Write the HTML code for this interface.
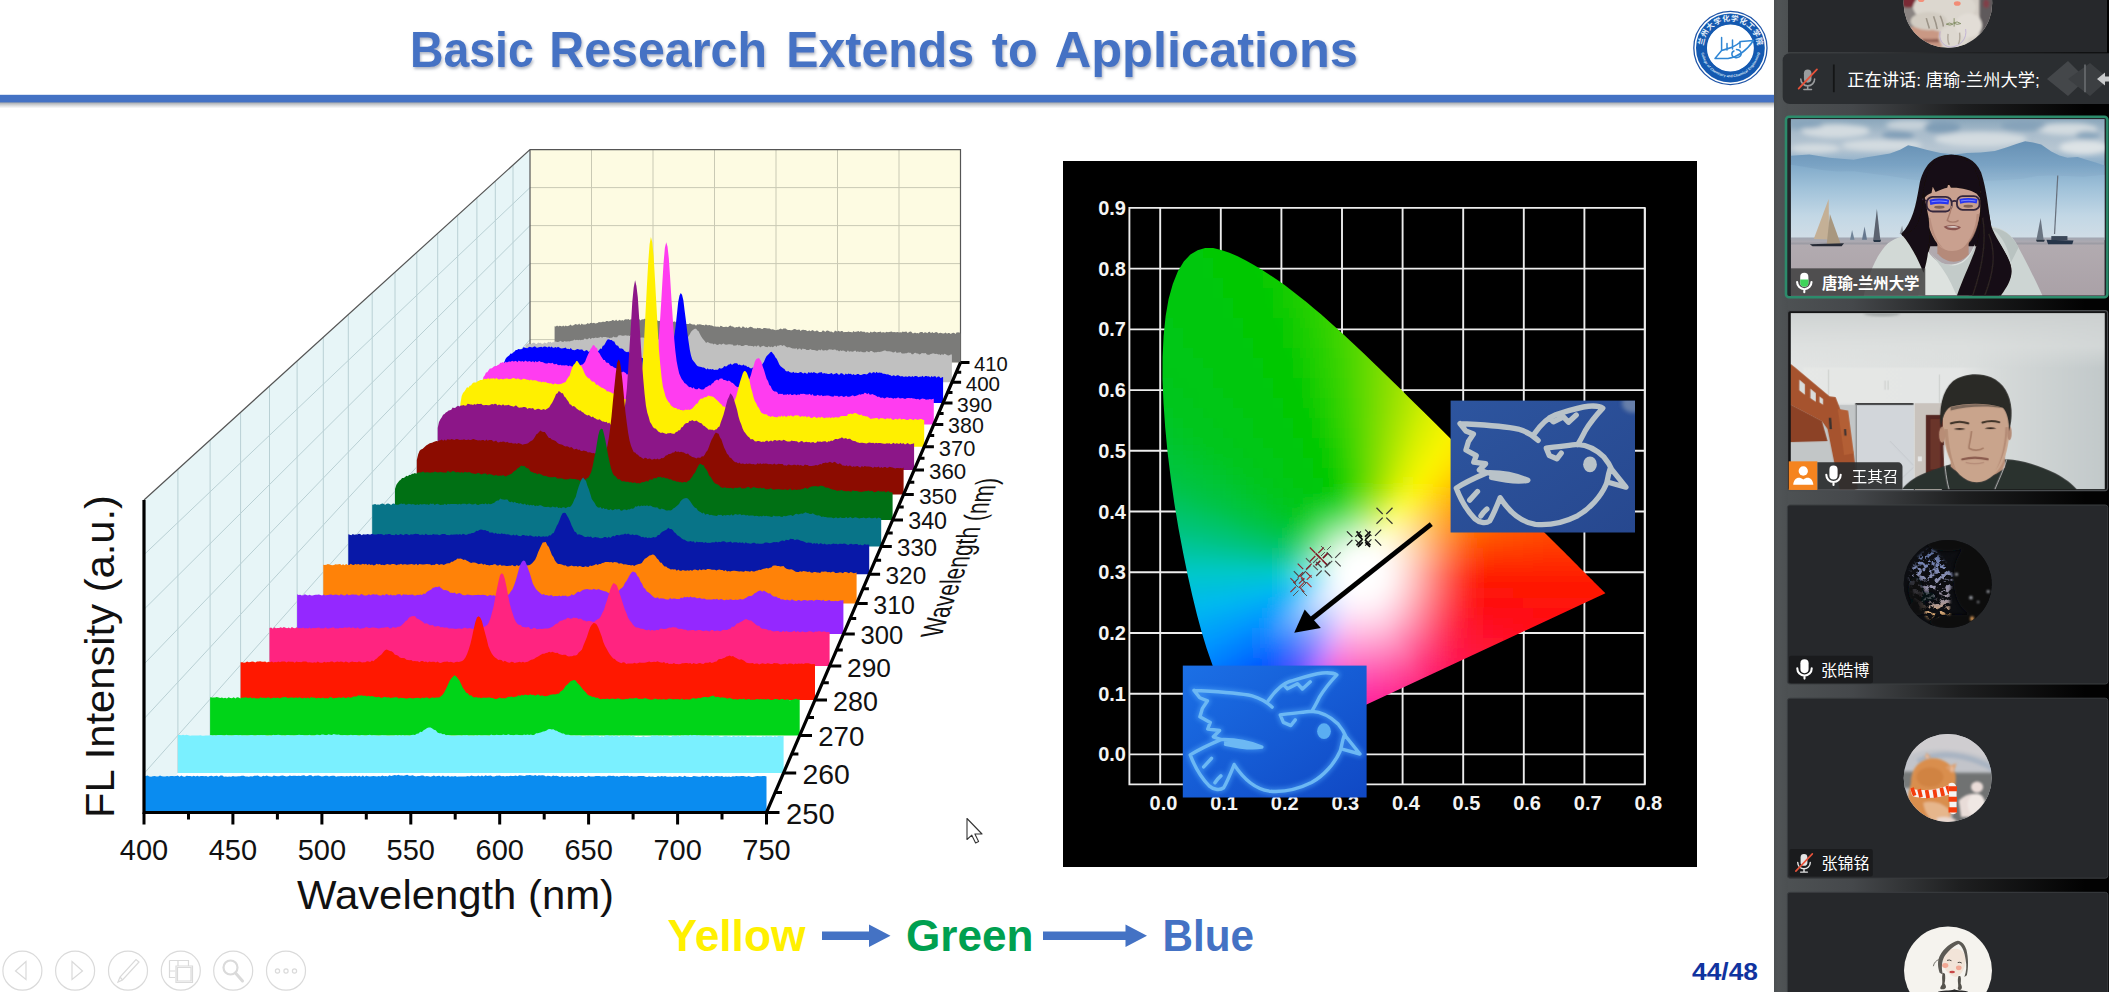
<!DOCTYPE html>
<html lang="zh"><head><meta charset="utf-8"><title>Basic Research Extends to Applications</title>
<style>html,body{margin:0;padding:0;background:#fff;overflow:hidden}body{width:2109px;height:992px;font-family:"Liberation Sans","Noto Sans CJK SC",sans-serif}svg{display:block}</style>
</head><body>
<svg width="2109" height="992" viewBox="0 0 2109 992">
<g id="slide">
<rect x="0" y="0" width="1774" height="992" fill="#fff"/>
<defs><filter id="tsh" x="-2%" y="-20%" width="104%" height="150%"><feGaussianBlur in="SourceAlpha" stdDeviation="1.6" result="b"/><feOffset in="b" dx="0.8" dy="1.6" result="o"/><feFlood flood-color="#8a94a8" flood-opacity=".7"/><feComposite in2="o" operator="in" result="s"/><feMerge><feMergeNode in="s"/><feMergeNode in="SourceGraphic"/></feMerge></filter><linearGradient id="lnsh" x1="0" y1="0" x2="0" y2="1"><stop offset="0" stop-color="#6a7078" stop-opacity=".75"/><stop offset="1" stop-color="#9aa0a8" stop-opacity="0"/></linearGradient></defs>
<text y="67.0" font-family="'Liberation Sans',sans-serif" font-weight="bold" font-size="49.7" fill="#4472c4" filter="url(#tsh)"><tspan x="410.0" textLength="123.8" lengthAdjust="spacingAndGlyphs">Basic</tspan> <tspan x="549.3" textLength="217.7" lengthAdjust="spacingAndGlyphs">Research</tspan> <tspan x="786.3" textLength="187.7" lengthAdjust="spacingAndGlyphs">Extends</tspan> <tspan x="991.8" textLength="46.0" lengthAdjust="spacingAndGlyphs">to</tspan> <tspan x="1054.7" textLength="303.3" lengthAdjust="spacingAndGlyphs">Applications</tspan></text>
<rect x="0" y="101.5" width="1774" height="7" fill="url(#lnsh)"/>
<rect x="0" y="94.8" width="1774" height="7.6" fill="#4472c4"/>
<g id="logo"><circle cx="1730.4" cy="48" r="36.6" fill="#fff" stroke="#1f55a8" stroke-width="1.3"/><circle cx="1730.4" cy="48" r="28.9" fill="none" stroke="#1459b0" stroke-width="11"/><circle cx="1730.4" cy="48" r="23" fill="#fff"/><defs><path id="arcT" d="M1704.9,57.3A27.1,27.1 0 1 1 1755.9,57.3"/><path id="arcB" d="M1701.2,52A29.5,29.5 0 0 0 1759.6,52"/></defs><text font-family="'Liberation Sans','Noto Sans CJK SC',sans-serif" font-size="7.6" font-weight="bold" fill="#e8f0fa"><textPath href="#arcT" startOffset="50%" text-anchor="middle" textLength="80" lengthAdjust="spacing">兰州大学化学化工学院</textPath></text><text font-family="'Liberation Sans',sans-serif" font-size="3.6" font-weight="bold" fill="#dce8f6"><textPath href="#arcB" startOffset="50%" text-anchor="middle">College of Chemistry and Chemical Engineering</textPath></text><path d="M1721.6,37.5V50.5 M1721.6,50.5L1732,47.2 M1727,43.5V50 M1732.5,40V49 M1740,41.5V47.5 M1721.6,50.5L1715,58.5H1728C1738,57 1747,50 1753.5,40.5L1741,41.5C1736,46 1729,49 1721.6,50.5 M1736.5,49.5C1744,50 1742,59 1735,57.5C1731,56.5 1731,52 1734,51" fill="none" stroke="#2f86d4" stroke-width="1.5" stroke-linecap="round" stroke-linejoin="round"/></g>
<g font-family="'Liberation Sans',sans-serif" font-weight="bold" font-size="44">
<text x="667.5" y="951.3" fill="#fff000" textLength="138" lengthAdjust="spacingAndGlyphs">Yellow</text>
<text x="906" y="951.3" fill="#00a050" textLength="127.5" lengthAdjust="spacingAndGlyphs">Green</text>
<text x="1162.5" y="951.3" fill="#4472c4" textLength="91.5" lengthAdjust="spacingAndGlyphs">Blue</text>
</g>
<path d="M822,931.5H869V924.5L890.5,935.7L869,947V940H822Z M1043,931.5H1125.5V924.5L1147,935.7L1125.5,947V940H1043Z" fill="#4472c4"/>
<text x="1692" y="979.9" font-family="'Liberation Sans',sans-serif" font-weight="bold" font-size="24" fill="#10339f" textLength="66" lengthAdjust="spacingAndGlyphs">44/48</text>
<g fill="none" stroke="#dadada" stroke-width="1.2">
<circle cx="22.4" cy="970.7" r="19.5"/>
<circle cx="75.1" cy="970.7" r="19.5"/>
<circle cx="128.0" cy="970.7" r="19.5"/>
<circle cx="180.8" cy="970.7" r="19.5"/>
<circle cx="233.2" cy="970.7" r="19.5"/>
<circle cx="286.0" cy="970.7" r="19.5"/>
<path d="M26,961.5L15.5,971L26,979.5Z"/>
<path d="M72,961.5L82.5,971L72,979.5Z"/>
<path d="M118,982L120,977L136,959.5L139,962L122.5,980Z M120,977L122.5,980"/>
<path d="M169.5,960.5H188.5V966 M169.5,960.5V977.5H175 M169.5,971H175 M178,960.5V966 M176,966H192.5V982.5H176Z M177.5,967.5H191V981H177.5Z"/>
<circle cx="230.5" cy="967.5" r="7" stroke-width="2.2"/><path d="M235.5,973L242.5,981" stroke-width="3" stroke-linecap="round"/>
<circle cx="277.5" cy="971" r="2.1"/><circle cx="286" cy="971" r="2.1"/><circle cx="294.5" cy="971" r="2.1"/>
</g>
<path d="M967,818.5V839.5L971.8,835.2L975.6,843L978.6,841.6L974.9,834H982Z" fill="#fff" stroke="#333" stroke-width="1.1" stroke-linejoin="round"/>
</g>
<g id="chart3d">
<polygon points="144.0,500.0 530.0,149.6 530.0,362.5 144.0,812.5" fill="#e7f5f7"/>
<rect x="530.0" y="149.6" width="430.5" height="212.9" fill="#fdfbe2"/>
<path d="M591.5,149.6V362.5M653.0,149.6V362.5M714.5,149.6V362.5M776.0,149.6V362.5M837.5,149.6V362.5M899.0,149.6V362.5M530.0,187.6H960.5M530.0,225.6H960.5M530.0,263.6H960.5M530.0,301.6H960.5M530.0,339.6H960.5" stroke="#c9c9b4" stroke-width="1" fill="none"/>
<path d="M177.9,469.2V772.9M210.1,440.0V735.5M240.6,412.3V699.9M269.5,386.0V666.1M297.1,361.0V634.0M323.3,337.2V603.5M348.3,314.5V574.3M372.2,292.9V546.5M395.0,272.2V519.9M416.8,252.4V494.5M437.7,233.4V470.1M457.7,215.2V446.8M476.9,197.8V424.4M495.3,181.1V403.0M513.0,165.0V382.3M144.0,554.7L530.0,187.6M144.0,609.4L530.0,225.6M144.0,664.1L530.0,263.6M144.0,718.8L530.0,301.6M144.0,773.5L530.0,339.6" stroke="#b9d0d4" stroke-width="1" fill="none"/>
<path d="M144.0,500.0L530.0,149.6H960.5V362.5 M530.0,149.6V362.5" stroke="#555" stroke-width="1.2" fill="none"/>
<path d="M554.6,362.5L554.6,326.2L555.8,326.5L557.1,325.5L558.3,326.6L559.5,325.7L560.8,326.0L562.0,326.5L563.2,325.6L564.4,326.4L565.7,325.6L566.9,326.2L568.1,326.1L569.4,325.4L570.6,324.6L571.8,325.8L573.0,325.5L574.3,324.7L575.5,324.0L576.7,324.5L578.0,324.8L579.2,323.6L580.4,325.2L581.7,323.5L582.9,324.4L584.1,324.6L585.4,324.5L586.6,324.0L587.8,322.9L589.0,324.0L590.3,323.1L591.5,322.8L592.7,323.2L594.0,322.7L595.2,323.5L596.4,323.3L597.6,322.9L598.9,321.9L600.1,322.2L601.3,322.3L602.6,321.7L603.8,321.8L605.0,321.9L606.3,320.9L607.5,320.9L608.7,321.6L610.0,320.9L611.2,320.9L612.4,320.1L613.6,320.2L614.9,321.0L616.1,319.6L617.3,321.1L618.6,320.4L619.8,319.7L621.0,320.7L622.2,320.0L623.5,320.8L624.7,319.6L625.9,319.3L627.2,319.6L628.4,319.0L629.6,320.0L630.9,319.3L632.1,319.5L633.3,319.5L634.5,319.7L635.8,319.0L637.0,318.8L638.2,319.7L639.5,319.3L640.7,320.4L641.9,319.2L643.2,319.4L644.4,318.7L645.6,319.1L646.8,320.1L648.1,320.0L649.3,319.5L650.5,320.8L651.8,320.0L653.0,320.7L654.2,320.8L655.5,321.0L656.7,319.8L657.9,321.1L659.1,321.0L660.4,320.8L661.6,320.1L662.8,321.7L664.1,321.1L665.3,321.0L666.5,320.6L667.8,320.8L669.0,320.9L670.2,322.1L671.5,322.0L672.7,322.3L673.9,321.4L675.1,321.4L676.4,323.1L677.6,323.2L678.8,323.3L680.1,323.4L681.3,323.1L682.5,323.1L683.8,323.8L685.0,324.5L686.2,323.9L687.4,324.1L688.7,323.9L689.9,323.3L691.1,324.0L692.4,324.4L693.6,324.4L694.8,324.4L696.0,325.7L697.3,324.2L698.5,324.5L699.7,324.3L701.0,324.4L702.2,325.1L703.4,324.9L704.7,325.4L705.9,324.3L707.1,325.3L708.3,325.3L709.6,325.1L710.8,325.4L712.0,325.4L713.3,326.2L714.5,326.6L715.7,326.5L717.0,326.8L718.2,326.5L719.4,327.2L720.6,325.7L721.9,326.2L723.1,327.1L724.3,326.9L725.6,326.8L726.8,326.7L728.0,327.2L729.3,325.9L730.5,325.6L731.7,326.6L733.0,326.6L734.2,327.4L735.4,327.4L736.6,327.0L737.9,327.2L739.1,326.2L740.3,327.5L741.6,327.9L742.8,326.2L744.0,327.1L745.2,327.9L746.5,327.2L747.7,328.3L748.9,327.5L750.2,326.7L751.4,327.0L752.6,327.5L753.9,328.4L755.1,328.3L756.3,328.7L757.5,327.7L758.8,328.3L760.0,327.9L761.2,328.8L762.5,329.1L763.7,328.1L764.9,327.9L766.2,328.2L767.4,328.4L768.6,328.4L769.8,328.6L771.1,329.6L772.3,329.2L773.5,329.5L774.8,330.1L776.0,330.2L777.2,329.7L778.5,329.8L779.7,329.0L780.9,328.5L782.1,329.4L783.4,328.6L784.6,328.5L785.8,328.6L787.1,329.7L788.3,330.1L789.5,330.1L790.8,330.2L792.0,330.3L793.2,329.6L794.4,329.1L795.7,329.3L796.9,330.1L798.1,329.8L799.4,329.6L800.6,331.0L801.8,330.0L803.1,329.7L804.3,330.0L805.5,330.1L806.8,330.7L808.0,331.3L809.2,330.3L810.4,331.2L811.7,330.4L812.9,330.1L814.1,331.3L815.4,331.3L816.6,330.4L817.8,330.8L819.0,331.9L820.3,332.0L821.5,332.0L822.7,330.6L824.0,330.8L825.2,332.0L826.4,330.8L827.7,330.5L828.9,331.1L830.1,331.7L831.3,331.4L832.6,332.2L833.8,332.4L835.0,330.6L836.3,331.2L837.5,331.5L838.7,330.7L840.0,331.7L841.2,330.9L842.4,331.0L843.6,332.2L844.9,332.1L846.1,332.0L847.3,332.1L848.6,331.5L849.8,332.1L851.0,331.9L852.3,332.4L853.5,331.0L854.7,332.0L855.9,331.8L857.2,331.6L858.4,331.1L859.6,332.0L860.9,331.1L862.1,331.8L863.3,331.8L864.6,331.8L865.8,332.8L867.0,332.0L868.2,332.5L869.5,332.9L870.7,331.4L871.9,332.6L873.2,332.0L874.4,331.6L875.6,331.9L876.9,332.4L878.1,332.0L879.3,332.0L880.5,331.6L881.8,332.8L883.0,332.0L884.2,332.6L885.5,332.6L886.7,331.7L887.9,332.2L889.2,332.1L890.4,331.7L891.6,331.5L892.8,332.3L894.1,332.1L895.3,332.3L896.5,332.3L897.8,331.9L899.0,332.4L900.2,332.3L901.5,332.4L902.7,331.6L903.9,332.0L905.1,331.7L906.4,331.6L907.6,332.9L908.8,332.3L910.1,331.6L911.3,331.8L912.5,333.2L913.8,333.2L915.0,332.6L916.2,333.3L917.4,333.0L918.7,333.4L919.9,332.3L921.1,332.1L922.4,331.9L923.6,333.3L924.8,332.3L926.1,332.4L927.3,333.3L928.5,332.0L929.7,331.8L931.0,333.3L932.2,331.9L933.4,333.0L934.7,332.8L935.9,331.9L937.1,332.2L938.4,333.5L939.6,333.0L940.8,332.8L942.0,333.2L943.3,333.5L944.5,333.2L945.7,332.5L947.0,333.8L948.2,332.9L949.4,333.1L950.7,333.9L951.9,333.3L953.1,332.8L954.3,333.0L955.6,333.9L956.8,332.2L958.0,332.5L959.3,332.2L960.5,333.8L960.5,362.5Z" fill="#7b7b79"/>
<path d="M525.5,382.3L525.5,344.0L526.8,344.4L528.0,343.0L529.3,343.9L530.5,344.2L531.8,343.6L533.1,342.7L534.3,342.8L535.6,343.8L536.8,343.9L538.1,342.5L539.3,343.0L540.6,342.7L541.8,343.8L543.1,343.8L544.3,342.5L545.6,342.9L546.9,343.5L548.1,341.8L549.4,342.2L550.6,341.8L551.9,343.1L553.1,341.5L554.4,342.9L555.6,341.3L556.9,341.9L558.1,342.0L559.4,341.5L560.6,340.7L561.9,341.8L563.2,341.9L564.4,341.1L565.7,341.5L566.9,341.6L568.2,341.3L569.4,341.4L570.7,341.0L571.9,340.7L573.2,340.5L574.4,339.6L575.7,340.3L577.0,339.8L578.2,340.3L579.5,339.8L580.7,340.3L582.0,339.7L583.2,340.0L584.5,338.6L585.7,338.8L587.0,339.4L588.2,338.7L589.5,337.8L590.7,339.2L592.0,337.7L593.3,338.3L594.5,338.1L595.8,337.4L597.0,338.1L598.3,337.8L599.5,337.4L600.8,336.8L602.0,337.8L603.3,336.9L604.5,337.0L605.8,337.1L607.1,337.4L608.3,337.5L609.6,337.9L610.8,337.7L612.1,337.8L613.3,336.4L614.6,337.2L615.8,337.2L617.1,337.2L618.3,335.5L619.6,335.2L620.8,335.3L622.1,335.8L623.4,335.7L624.6,335.5L625.9,335.2L627.1,335.8L628.4,335.5L629.6,336.0L630.9,335.0L632.1,335.2L633.4,336.2L634.6,336.9L635.9,335.7L637.2,337.1L638.4,337.2L639.7,338.0L640.9,337.4L642.2,337.4L643.4,337.5L644.7,338.2L645.9,337.8L647.2,338.9L648.4,338.6L649.7,339.1L650.9,338.7L652.2,339.5L653.5,339.7L654.7,339.3L656.0,339.6L657.2,339.1L658.5,339.4L659.7,339.2L661.0,339.5L662.2,339.5L663.5,339.4L664.7,340.5L666.0,340.8L667.3,339.7L668.5,341.4L669.8,340.5L671.0,340.8L672.3,342.1L673.5,340.8L674.8,340.9L676.0,341.5L677.3,341.4L678.5,341.4L679.8,342.7L681.0,342.0L682.3,341.9L683.6,341.0L684.8,340.5L686.1,339.5L687.3,338.5L688.6,336.1L689.8,334.2L691.1,331.8L692.3,330.6L693.6,329.5L694.8,328.7L696.1,328.7L697.4,330.6L698.6,331.3L699.9,334.1L701.1,336.3L702.4,338.3L703.6,339.8L704.9,341.3L706.1,343.0L707.4,342.1L708.6,342.6L709.9,343.3L711.1,343.4L712.4,343.4L713.7,344.6L714.9,343.5L716.2,344.4L717.4,344.9L718.7,344.6L719.9,343.8L721.2,344.8L722.4,343.9L723.7,343.5L724.9,344.5L726.2,344.7L727.5,344.6L728.7,344.3L730.0,344.2L731.2,344.6L732.5,344.6L733.7,345.7L735.0,345.6L736.2,345.5L737.5,344.6L738.7,345.5L740.0,345.0L741.2,346.1L742.5,346.1L743.8,345.7L745.0,345.1L746.3,345.1L747.5,345.2L748.8,346.0L750.0,345.7L751.3,345.9L752.5,346.0L753.8,346.7L755.0,345.4L756.3,346.8L757.6,345.4L758.8,345.6L760.1,347.4L761.3,346.6L762.6,346.0L763.8,345.8L765.1,346.8L766.3,347.1L767.6,347.2L768.8,345.9L770.1,347.2L771.3,346.5L772.6,347.2L773.9,346.4L775.1,345.5L776.4,346.9L777.6,345.4L778.9,345.8L780.1,345.0L781.4,345.3L782.6,346.1L783.9,345.0L785.1,346.0L786.4,347.1L787.7,347.5L788.9,347.0L790.2,347.4L791.4,348.0L792.7,348.6L793.9,348.5L795.2,348.8L796.4,348.0L797.7,349.8L798.9,348.6L800.2,348.6L801.4,350.0L802.7,348.6L804.0,349.1L805.2,348.9L806.5,350.1L807.7,350.0L809.0,350.0L810.2,348.9L811.5,349.7L812.7,350.1L814.0,350.0L815.2,350.3L816.5,350.8L817.8,350.7L819.0,349.4L820.3,350.4L821.5,349.2L822.8,350.5L824.0,350.4L825.3,350.0L826.5,350.6L827.8,350.3L829.0,349.2L830.3,349.4L831.5,349.6L832.8,350.0L834.1,349.6L835.3,349.6L836.6,350.4L837.8,350.2L839.1,351.5L840.3,350.3L841.6,350.9L842.8,350.4L844.1,350.7L845.3,351.4L846.6,351.9L847.9,350.3L849.1,351.8L850.4,351.2L851.6,351.5L852.9,351.7L854.1,350.9L855.4,350.5L856.6,351.9L857.9,351.2L859.1,351.9L860.4,351.4L861.6,351.8L862.9,352.2L864.2,352.3L865.4,352.2L866.7,351.0L867.9,351.8L869.2,352.3L870.4,351.0L871.7,350.9L872.9,351.8L874.2,352.4L875.4,352.2L876.7,352.3L878.0,351.8L879.2,352.1L880.5,351.8L881.7,351.6L883.0,351.0L884.2,350.4L885.5,350.6L886.7,351.2L888.0,351.3L889.2,351.2L890.5,351.6L891.7,351.8L893.0,352.5L894.3,352.3L895.5,351.2L896.8,353.0L898.0,352.4L899.3,352.4L900.5,352.1L901.8,353.4L903.0,353.4L904.3,353.5L905.5,353.3L906.8,353.3L908.1,352.4L909.3,352.7L910.6,352.7L911.8,354.3L913.1,354.3L914.3,353.1L915.6,352.8L916.8,353.6L918.1,353.5L919.3,354.6L920.6,353.9L921.8,353.0L923.1,353.2L924.4,353.2L925.6,353.0L926.9,354.4L928.1,354.7L929.4,354.7L930.6,354.0L931.9,353.8L933.1,353.3L934.4,353.8L935.6,354.0L936.9,353.8L938.2,354.4L939.4,354.3L940.7,355.3L941.9,354.0L943.2,355.0L944.4,353.8L945.7,354.3L946.9,355.0L948.2,355.4L949.4,355.2L950.7,354.5L951.9,354.5L951.9,382.3Z" fill="#c0c0c0"/>
<path d="M503.0,403.0L503.0,367.8L504.2,362.2L505.5,359.0L506.8,357.2L508.1,356.2L509.4,355.3L510.6,353.6L511.9,353.8L513.2,352.5L514.5,351.5L515.8,350.0L517.0,349.9L518.3,349.0L519.6,349.3L520.9,349.3L522.2,348.9L523.4,347.3L524.7,347.5L526.0,348.0L527.3,348.3L528.6,347.3L529.8,346.8L531.1,347.2L532.4,347.5L533.7,346.7L535.0,346.2L536.2,347.5L537.5,347.8L538.8,347.3L540.1,347.1L541.3,346.7L542.6,347.5L543.9,346.5L545.2,346.6L546.5,347.0L547.7,347.5L549.0,346.2L550.3,347.4L551.6,346.5L552.9,347.7L554.1,347.7L555.4,346.9L556.7,347.8L558.0,346.7L559.3,347.6L560.5,348.3L561.8,348.4L563.1,348.2L564.4,347.9L565.7,347.5L566.9,349.1L568.2,348.8L569.5,349.3L570.8,348.1L572.1,349.7L573.3,350.1L574.6,350.2L575.9,349.8L577.2,349.0L578.4,349.2L579.7,349.7L581.0,349.4L582.3,349.6L583.6,350.9L584.8,351.3L586.1,350.1L587.4,350.6L588.7,352.0L590.0,350.9L591.2,351.5L592.5,351.6L593.8,351.7L595.1,351.9L596.4,352.1L597.6,351.2L598.9,350.5L600.2,348.6L601.5,348.9L602.8,345.8L604.0,345.4L605.3,343.2L606.6,340.7L607.9,339.3L609.2,339.4L610.4,340.0L611.7,339.9L613.0,341.2L614.3,341.6L615.6,344.4L616.8,345.5L618.1,345.7L619.4,348.3L620.7,348.4L621.9,348.4L623.2,349.2L624.5,351.1L625.8,351.8L627.1,352.3L628.3,351.4L629.6,353.2L630.9,352.9L632.2,353.2L633.5,354.7L634.7,355.3L636.0,354.5L637.3,355.6L638.6,356.7L639.9,356.3L641.1,357.4L642.4,357.9L643.7,358.8L645.0,357.8L646.3,357.9L647.5,358.8L648.8,358.6L650.1,360.7L651.4,360.7L652.7,360.6L653.9,360.1L655.2,360.5L656.5,361.9L657.8,362.6L659.0,362.6L660.3,362.8L661.6,362.4L662.9,364.0L664.2,363.0L665.4,363.1L666.7,362.7L668.0,361.9L669.3,360.4L670.6,357.8L671.8,352.8L673.1,345.5L674.4,335.3L675.7,325.4L677.0,313.6L678.2,302.1L679.5,295.6L680.8,293.0L682.1,295.0L683.4,300.6L684.6,310.6L685.9,320.6L687.2,331.6L688.5,340.9L689.8,349.7L691.0,355.6L692.3,359.4L693.6,361.3L694.9,362.8L696.1,364.5L697.4,365.9L698.7,366.4L700.0,366.7L701.3,367.1L702.5,367.4L703.8,367.6L705.1,368.2L706.4,369.4L707.7,368.3L708.9,369.4L710.2,369.0L711.5,369.5L712.8,368.9L714.1,369.9L715.3,369.8L716.6,369.7L717.9,369.7L719.2,368.1L720.5,368.4L721.7,368.4L723.0,367.8L724.3,366.1L725.6,366.4L726.9,366.3L728.1,364.7L729.4,364.5L730.7,363.6L732.0,364.9L733.2,364.1L734.5,363.3L735.8,363.3L737.1,363.2L738.4,364.9L739.6,364.6L740.9,365.2L742.2,365.4L743.5,364.5L744.8,365.7L746.0,365.6L747.3,367.1L748.6,366.7L749.9,367.9L751.2,368.5L752.4,367.8L753.7,367.5L755.0,369.0L756.3,367.9L757.6,367.4L758.8,367.6L760.1,366.4L761.4,365.6L762.7,363.8L764.0,361.7L765.2,358.8L766.5,356.3L767.8,355.0L769.1,353.7L770.3,352.3L771.6,351.7L772.9,353.6L774.2,355.1L775.5,357.4L776.7,358.7L778.0,361.5L779.3,364.5L780.6,366.2L781.9,367.2L783.1,368.2L784.4,369.0L785.7,370.9L787.0,371.4L788.3,371.0L789.5,372.0L790.8,372.5L792.1,372.7L793.4,371.7L794.7,373.0L795.9,372.6L797.2,373.0L798.5,373.0L799.8,372.2L801.1,371.9L802.3,373.1L803.6,373.4L804.9,372.5L806.2,373.4L807.4,373.7L808.7,372.1L810.0,372.9L811.3,372.2L812.6,372.9L813.8,372.0L815.1,372.7L816.4,373.2L817.7,373.5L819.0,372.6L820.2,372.5L821.5,372.1L822.8,373.8L824.1,372.9L825.4,373.5L826.6,373.4L827.9,374.1L829.2,374.0L830.5,373.6L831.8,373.0L833.0,374.5L834.3,373.9L835.6,373.4L836.9,373.1L838.2,374.6L839.4,374.7L840.7,373.3L842.0,373.3L843.3,374.2L844.5,375.0L845.8,373.5L847.1,374.5L848.4,373.6L849.7,374.1L850.9,373.8L852.2,375.0L853.5,373.9L854.8,375.0L856.1,374.7L857.3,373.9L858.6,373.9L859.9,375.0L861.2,374.9L862.5,374.4L863.7,374.1L865.0,374.1L866.3,374.4L867.6,373.9L868.9,372.8L870.1,372.3L871.4,373.6L872.7,372.4L874.0,371.9L875.3,373.2L876.5,371.7L877.8,373.1L879.1,372.4L880.4,372.7L881.6,372.8L882.9,373.7L884.2,373.8L885.5,373.9L886.8,374.5L888.0,374.3L889.3,375.0L890.6,375.2L891.9,376.2L893.2,375.2L894.4,375.6L895.7,376.2L897.0,375.3L898.3,375.3L899.6,376.0L900.8,376.5L902.1,376.0L903.4,376.8L904.7,376.8L906.0,376.2L907.2,376.9L908.5,376.3L909.8,376.2L911.1,377.1L912.4,376.1L913.6,377.1L914.9,376.0L916.2,375.9L917.5,376.5L918.7,377.3L920.0,376.6L921.3,376.8L922.6,375.8L923.9,377.3L925.1,376.1L926.4,375.9L927.7,376.4L929.0,376.3L930.3,377.4L931.5,376.0L932.8,377.0L934.1,376.2L935.4,376.3L936.7,377.7L937.9,376.6L939.2,376.4L940.5,378.0L941.8,377.5L943.1,376.8L943.1,403.0Z" fill="#0000ff"/>
<path d="M482.1,424.4L482.1,384.7L483.4,376.9L484.7,375.5L486.0,372.6L487.3,372.2L488.6,370.3L489.9,368.4L491.2,368.6L492.5,367.7L493.8,366.4L495.2,366.0L496.5,365.9L497.8,365.1L499.1,364.6L500.4,362.7L501.7,362.8L503.0,362.0L504.3,363.0L505.6,361.7L506.9,362.6L508.2,361.7L509.5,361.4L510.8,361.8L512.1,360.8L513.4,361.4L514.7,361.3L516.0,360.8L517.3,362.2L518.7,360.6L520.0,361.2L521.3,361.6L522.6,360.9L523.9,361.9L525.2,360.6L526.5,361.3L527.8,361.7L529.1,361.0L530.4,361.6L531.7,362.1L533.0,361.1L534.3,362.4L535.6,361.1L536.9,362.2L538.2,361.6L539.5,361.1L540.8,361.9L542.2,361.9L543.5,362.6L544.8,363.3L546.1,363.4L547.4,363.4L548.7,362.7L550.0,363.2L551.3,363.2L552.6,362.7L553.9,364.3L555.2,364.3L556.5,363.7L557.8,365.0L559.1,365.3L560.4,364.8L561.7,365.5L563.0,365.2L564.3,365.6L565.6,365.2L567.0,365.3L568.3,366.2L569.6,365.6L570.9,366.0L572.2,366.7L573.5,365.4L574.8,366.7L576.1,366.9L577.4,367.0L578.7,365.9L580.0,365.2L581.3,364.7L582.6,364.4L583.9,363.2L585.2,361.6L586.5,357.9L587.8,355.1L589.1,352.3L590.5,349.0L591.8,347.2L593.1,345.1L594.4,345.5L595.7,347.4L597.0,348.1L598.3,351.9L599.6,353.5L600.9,355.9L602.2,358.1L603.5,360.1L604.8,360.1L606.1,362.6L607.4,362.7L608.7,362.9L610.0,365.3L611.3,366.1L612.6,366.3L614.0,367.4L615.3,368.0L616.6,368.5L617.9,370.4L619.2,370.8L620.5,371.5L621.8,372.5L623.1,371.6L624.4,372.3L625.7,373.0L627.0,374.8L628.3,373.8L629.6,374.4L630.9,375.4L632.2,375.4L633.5,376.4L634.8,377.3L636.1,378.0L637.5,378.3L638.8,379.1L640.1,379.0L641.4,378.8L642.7,379.3L644.0,379.5L645.3,380.1L646.6,381.3L647.9,381.0L649.2,381.3L650.5,380.5L651.8,380.1L653.1,378.7L654.4,374.4L655.7,367.6L657.0,359.2L658.3,344.1L659.6,327.4L661.0,305.6L662.3,283.3L663.6,262.4L664.9,247.7L666.2,242.2L667.5,246.6L668.8,257.9L670.1,277.2L671.4,298.4L672.7,317.8L674.0,336.2L675.3,350.4L676.6,360.9L677.9,367.7L679.2,373.6L680.5,376.4L681.8,379.2L683.1,380.8L684.4,383.1L685.8,383.8L687.1,385.1L688.4,386.4L689.7,387.3L691.0,387.0L692.3,388.4L693.6,387.3L694.9,388.9L696.2,389.3L697.5,389.3L698.8,388.0L700.1,389.0L701.4,389.4L702.7,389.4L704.0,389.2L705.3,387.6L706.6,387.1L707.9,386.3L709.3,385.3L710.6,385.5L711.9,383.6L713.2,382.9L714.5,381.1L715.8,380.3L717.1,379.5L718.4,380.5L719.7,378.8L721.0,378.6L722.3,378.5L723.6,380.1L724.9,380.1L726.2,380.6L727.5,381.2L728.8,380.4L730.1,381.2L731.4,382.4L732.8,383.0L734.1,384.3L735.4,385.7L736.7,386.8L738.0,387.3L739.3,386.5L740.6,387.6L741.9,387.2L743.2,386.6L744.5,386.7L745.8,385.2L747.1,383.5L748.4,380.5L749.7,378.2L751.0,374.7L752.3,369.5L753.6,366.1L754.9,361.6L756.3,359.1L757.6,358.6L758.9,358.0L760.2,359.7L761.5,362.1L762.8,366.8L764.1,370.3L765.4,374.7L766.7,379.0L768.0,381.0L769.3,385.1L770.6,386.0L771.9,389.0L773.2,390.8L774.5,391.6L775.8,391.6L777.1,392.0L778.4,394.3L779.8,393.8L781.1,394.1L782.4,393.7L783.7,394.9L785.0,394.5L786.3,394.8L787.6,393.9L788.9,395.0L790.2,393.8L791.5,395.0L792.8,395.1L794.1,394.2L795.4,394.5L796.7,395.2L798.0,394.2L799.3,395.1L800.6,393.8L801.9,393.9L803.3,393.7L804.6,394.0L805.9,394.5L807.2,394.5L808.5,394.6L809.8,393.8L811.1,395.4L812.4,394.1L813.7,395.8L815.0,395.7L816.3,395.7L817.6,394.7L818.9,395.5L820.2,395.8L821.5,394.9L822.8,396.2L824.1,395.8L825.4,395.8L826.7,395.4L828.1,395.5L829.4,395.7L830.7,396.3L832.0,396.4L833.3,396.7L834.6,395.5L835.9,395.9L837.2,395.8L838.5,396.8L839.8,396.4L841.1,395.8L842.4,396.2L843.7,397.0L845.0,396.4L846.3,395.7L847.6,396.8L848.9,396.8L850.2,396.5L851.6,395.7L852.9,395.2L854.2,396.2L855.5,395.9L856.8,395.5L858.1,395.0L859.4,394.3L860.7,394.7L862.0,394.1L863.3,394.2L864.6,392.7L865.9,393.1L867.2,394.3L868.5,393.0L869.8,394.8L871.1,394.6L872.4,393.9L873.7,394.7L875.1,395.2L876.4,396.1L877.7,396.9L879.0,396.5L880.3,397.7L881.6,397.7L882.9,397.6L884.2,398.4L885.5,397.9L886.8,397.3L888.1,397.5L889.4,397.9L890.7,397.8L892.0,398.1L893.3,398.7L894.6,398.0L895.9,398.4L897.2,397.8L898.6,397.6L899.9,398.5L901.2,398.2L902.5,398.0L903.8,398.6L905.1,399.0L906.4,398.2L907.7,397.9L909.0,398.1L910.3,398.3L911.6,398.1L912.9,398.4L914.2,398.6L915.5,398.9L916.8,399.2L918.1,398.7L919.4,399.7L920.7,399.2L922.1,398.6L923.4,398.7L924.7,398.9L926.0,399.7L927.3,399.4L928.6,399.4L929.9,399.1L931.2,399.6L932.5,399.1L933.8,398.7L933.8,424.4Z" fill="#ff3cf0"/>
<path d="M460.4,446.8L460.4,403.7L461.7,395.9L463.0,392.9L464.4,391.5L465.7,389.6L467.0,387.3L468.4,387.7L469.7,385.8L471.0,385.5L472.3,383.5L473.7,382.4L475.0,382.5L476.3,382.6L477.7,381.2L479.0,380.8L480.3,380.0L481.7,380.0L483.0,379.4L484.3,378.8L485.7,379.1L487.0,379.1L488.3,378.0L489.7,379.2L491.0,378.3L492.3,378.8L493.7,378.1L495.0,379.3L496.3,377.8L497.7,378.9L499.0,379.4L500.3,379.0L501.7,378.8L503.0,379.5L504.3,378.8L505.7,378.8L507.0,378.3L508.3,378.9L509.7,379.0L511.0,379.1L512.3,378.2L513.7,377.9L515.0,378.6L516.3,379.2L517.7,378.3L519.0,379.1L520.3,379.5L521.7,379.8L523.0,378.8L524.3,378.8L525.7,379.3L527.0,379.7L528.3,379.7L529.7,380.5L531.0,379.4L532.3,380.6L533.7,380.3L535.0,380.2L536.3,380.4L537.7,381.2L539.0,381.7L540.3,381.5L541.7,382.4L543.0,381.4L544.3,382.4L545.7,381.8L547.0,383.0L548.3,383.0L549.6,383.4L551.0,383.3L552.3,383.9L553.6,384.4L555.0,383.2L556.3,384.1L557.6,384.3L559.0,384.2L560.3,383.9L561.6,383.8L563.0,383.1L564.3,382.4L565.6,381.9L567.0,379.3L568.3,377.2L569.6,375.8L571.0,371.1L572.3,367.6L573.6,364.7L575.0,363.4L576.3,360.9L577.6,361.3L579.0,363.5L580.3,365.6L581.6,366.4L583.0,369.6L584.3,372.8L585.6,375.2L587.0,376.9L588.3,378.2L589.6,378.5L591.0,380.4L592.3,381.8L593.6,381.5L595.0,382.8L596.3,384.9L597.6,384.6L599.0,386.1L600.3,386.7L601.6,387.7L603.0,388.1L604.3,389.0L605.6,389.6L607.0,391.4L608.3,391.2L609.6,392.1L611.0,392.3L612.3,393.5L613.6,393.3L615.0,394.4L616.3,395.5L617.6,396.1L619.0,396.9L620.3,396.8L621.6,398.2L623.0,398.0L624.3,399.2L625.6,399.1L626.9,399.6L628.3,400.1L629.6,400.0L630.9,401.9L632.3,400.8L633.6,401.5L634.9,401.1L636.3,399.9L637.6,397.4L638.9,394.0L640.3,386.5L641.6,374.1L642.9,359.1L644.3,336.6L645.6,311.3L646.9,286.0L648.3,261.3L649.6,244.3L650.9,237.0L652.3,242.3L653.6,255.7L654.9,278.1L656.3,303.0L657.6,326.7L658.9,349.4L660.3,365.1L661.6,377.6L662.9,386.8L664.3,391.8L665.6,396.8L666.9,399.5L668.3,401.7L669.6,403.1L670.9,405.6L672.3,406.4L673.6,407.4L674.9,407.9L676.3,408.1L677.6,409.5L678.9,409.0L680.3,410.0L681.6,410.1L682.9,410.6L684.3,410.3L685.6,409.5L686.9,410.0L688.3,409.5L689.6,409.9L690.9,409.3L692.3,408.5L693.6,406.9L694.9,405.5L696.3,403.8L697.6,403.6L698.9,400.8L700.3,399.1L701.6,398.5L702.9,398.4L704.2,397.2L705.6,397.3L706.9,396.7L708.2,395.4L709.6,396.0L710.9,396.2L712.2,396.5L713.6,396.9L714.9,398.3L716.2,399.4L717.6,400.7L718.9,401.9L720.2,403.4L721.6,404.6L722.9,406.5L724.2,406.5L725.6,407.4L726.9,407.1L728.2,408.2L729.6,407.6L730.9,407.0L732.2,404.4L733.6,402.1L734.9,399.8L736.2,396.6L737.6,391.2L738.9,386.1L740.2,381.2L741.6,376.9L742.9,373.1L744.2,371.0L745.6,371.2L746.9,373.1L748.2,376.5L749.6,380.8L750.9,387.6L752.2,391.8L753.6,397.4L754.9,401.2L756.2,403.3L757.6,406.5L758.9,408.1L760.2,410.8L761.6,413.1L762.9,413.6L764.2,414.2L765.6,414.2L766.9,414.6L768.2,415.9L769.6,416.2L770.9,416.9L772.2,416.0L773.6,416.8L774.9,417.0L776.2,417.2L777.6,417.2L778.9,416.0L780.2,417.0L781.6,415.5L782.9,417.0L784.2,415.5L785.5,416.7L786.9,416.8L788.2,415.5L789.5,416.2L790.9,415.3L792.2,416.2L793.5,416.5L794.9,415.3L796.2,415.5L797.5,415.3L798.9,415.7L800.2,417.0L801.5,416.2L802.9,416.2L804.2,416.8L805.5,416.1L806.9,417.4L808.2,416.2L809.5,416.7L810.9,418.0L812.2,418.1L813.5,417.0L814.9,416.7L816.2,418.1L817.5,417.7L818.9,417.0L820.2,418.0L821.5,416.8L822.9,417.5L824.2,418.3L825.5,417.8L826.9,417.4L828.2,417.7L829.5,417.3L830.9,418.3L832.2,417.1L833.5,417.9L834.9,417.3L836.2,417.3L837.5,417.5L838.9,417.5L840.2,416.6L841.5,416.0L842.9,416.0L844.2,416.0L845.5,416.1L846.9,416.1L848.2,414.1L849.5,414.1L850.9,413.6L852.2,414.2L853.5,413.6L854.9,412.9L856.2,413.2L857.5,413.9L858.9,414.7L860.2,414.9L861.5,414.5L862.8,415.9L864.2,415.8L865.5,416.4L866.8,416.3L868.2,416.9L869.5,418.1L870.8,418.9L872.2,418.6L873.5,418.5L874.8,418.3L876.2,418.0L877.5,418.0L878.8,419.5L880.2,418.2L881.5,418.3L882.8,418.2L884.2,418.8L885.5,419.3L886.8,418.3L888.2,418.5L889.5,418.7L890.8,418.3L892.2,419.4L893.5,419.9L894.8,419.1L896.2,418.7L897.5,419.7L898.8,418.8L900.2,418.5L901.5,419.8L902.8,419.1L904.2,419.1L905.5,419.5L906.8,419.9L908.2,419.9L909.5,419.0L910.8,419.0L912.2,419.6L913.5,420.3L914.8,419.1L916.2,419.2L917.5,420.1L918.8,419.6L920.2,419.0L921.5,419.1L922.8,419.8L924.2,419.9L924.2,446.8Z" fill="#fff000"/>
<path d="M437.7,470.1L437.7,428.0L439.0,421.9L440.4,419.2L441.8,417.3L443.1,414.7L444.5,414.0L445.8,412.4L447.2,411.7L448.6,410.5L449.9,410.3L451.3,409.8L452.7,407.4L454.0,407.9L455.4,407.8L456.7,406.5L458.1,405.8L459.5,406.5L460.8,405.4L462.2,405.6L463.5,405.0L464.9,405.7L466.3,405.5L467.6,403.8L469.0,403.9L470.4,404.6L471.7,404.4L473.1,405.0L474.4,404.0L475.8,404.7L477.2,403.8L478.5,404.1L479.9,404.0L481.2,403.7L482.6,405.0L484.0,405.3L485.3,405.1L486.7,405.1L488.0,405.3L489.4,405.3L490.8,404.4L492.1,403.9L493.5,404.6L494.9,403.8L496.2,403.9L497.6,405.4L498.9,404.6L500.3,405.0L501.7,405.6L503.0,404.2L504.4,405.6L505.7,405.2L507.1,405.2L508.5,404.8L509.8,405.4L511.2,406.1L512.5,406.2L513.9,406.8L515.3,405.6L516.6,405.8L518.0,407.3L519.4,407.8L520.7,407.6L522.1,407.6L523.4,406.9L524.8,407.1L526.2,407.4L527.5,409.0L528.9,407.9L530.2,408.2L531.6,408.5L533.0,408.1L534.3,409.8L535.7,409.8L537.0,408.9L538.4,408.7L539.8,409.3L541.1,410.0L542.5,409.5L543.9,409.1L545.2,409.9L546.6,409.0L547.9,408.3L549.3,407.2L550.7,404.8L552.0,403.0L553.4,400.2L554.7,397.6L556.1,394.1L557.5,393.3L558.8,391.1L560.2,392.0L561.6,393.2L562.9,393.3L564.3,396.6L565.6,397.6L567.0,399.7L568.4,401.4L569.7,404.2L571.1,404.8L572.4,406.5L573.8,406.0L575.2,407.1L576.5,408.4L577.9,409.6L579.2,410.6L580.6,410.6L582.0,412.0L583.3,412.6L584.7,414.1L586.1,414.7L587.4,415.6L588.8,415.1L590.1,416.0L591.5,417.2L592.9,416.5L594.2,418.1L595.6,418.4L596.9,419.4L598.3,419.7L599.7,419.2L601.0,420.6L602.4,421.4L603.7,421.4L605.1,422.2L606.5,421.7L607.8,423.6L609.2,422.6L610.6,424.7L611.9,423.7L613.3,424.5L614.6,425.7L616.0,425.5L617.4,426.0L618.7,425.8L620.1,425.0L621.4,422.8L622.8,418.0L624.2,411.5L625.5,401.4L626.9,388.3L628.2,369.0L629.6,345.6L631.0,323.7L632.3,301.7L633.7,287.5L635.1,280.3L636.4,285.7L637.8,297.2L639.1,317.1L640.5,339.4L641.9,361.2L643.2,378.5L644.6,393.9L645.9,405.5L647.3,412.7L648.7,417.1L650.0,421.9L651.4,423.9L652.8,426.7L654.1,428.2L655.5,428.5L656.8,429.7L658.2,431.4L659.6,432.3L660.9,432.9L662.3,432.4L663.6,432.9L665.0,433.6L666.4,433.9L667.7,433.3L669.1,433.3L670.4,433.1L671.8,433.4L673.2,433.8L674.5,433.7L675.9,432.0L677.3,431.8L678.6,430.3L680.0,430.2L681.3,427.6L682.7,427.0L684.1,424.7L685.4,423.4L686.8,423.0L688.1,422.9L689.5,420.7L690.9,421.0L692.2,420.1L693.6,421.1L694.9,421.3L696.3,420.4L697.7,421.6L699.0,422.5L700.4,422.9L701.8,423.5L703.1,425.6L704.5,425.9L705.8,427.3L707.2,428.2L708.6,429.8L709.9,429.5L711.3,429.7L712.6,429.8L714.0,430.6L715.4,429.4L716.7,429.2L718.1,427.2L719.5,426.4L720.8,422.2L722.2,418.4L723.5,414.7L724.9,409.6L726.3,404.3L727.6,399.5L729.0,396.8L730.3,393.3L731.7,394.7L733.1,397.0L734.4,401.0L735.8,405.6L737.1,410.0L738.5,416.6L739.9,421.2L741.2,424.2L742.6,428.4L744.0,431.6L745.3,432.9L746.7,434.9L748.0,436.5L749.4,437.5L750.8,439.5L752.1,438.9L753.5,439.8L754.8,441.3L756.2,441.4L757.6,441.0L758.9,441.1L760.3,441.6L761.6,441.9L763.0,441.4L764.4,441.9L765.7,441.1L767.1,440.6L768.5,441.8L769.8,441.0L771.2,440.6L772.5,441.5L773.9,440.2L775.3,439.9L776.6,440.8L778.0,440.6L779.3,439.9L780.7,440.4L782.1,440.7L783.4,439.8L784.8,440.2L786.1,441.1L787.5,441.5L788.9,441.5L790.2,441.4L791.6,440.6L793.0,441.0L794.3,440.9L795.7,441.2L797.0,441.2L798.4,442.6L799.8,441.9L801.1,441.1L802.5,441.2L803.8,442.4L805.2,442.1L806.6,441.8L807.9,442.3L809.3,442.0L810.7,442.8L812.0,442.2L813.4,442.1L814.7,443.0L816.1,442.8L817.5,441.3L818.8,441.7L820.2,441.4L821.5,441.9L822.9,441.5L824.3,441.3L825.6,441.2L827.0,442.5L828.3,441.3L829.7,441.6L831.1,440.6L832.4,440.9L833.8,440.0L835.2,438.9L836.5,439.0L837.9,439.3L839.2,438.4L840.6,438.3L842.0,437.3L843.3,438.4L844.7,438.4L846.0,438.0L847.4,439.3L848.8,438.8L850.1,438.7L851.5,439.9L852.8,440.8L854.2,440.9L855.6,441.2L856.9,442.3L858.3,442.6L859.7,442.9L861.0,442.8L862.4,442.8L863.7,443.1L865.1,443.3L866.5,443.6L867.8,442.9L869.2,442.4L870.5,442.8L871.9,442.9L873.3,442.8L874.6,443.6L876.0,442.7L877.3,443.2L878.7,443.1L880.1,443.0L881.4,443.3L882.8,443.6L884.2,443.7L885.5,443.8L886.9,443.3L888.2,443.5L889.6,443.2L891.0,444.2L892.3,443.6L893.7,442.8L895.0,443.9L896.4,443.3L897.8,443.5L899.1,443.9L900.5,442.7L901.9,443.9L903.2,443.1L904.6,444.2L905.9,444.3L907.3,443.0L908.7,443.7L910.0,444.4L911.4,443.9L912.7,443.8L914.1,443.3L914.1,470.1Z" fill="#8c1688"/>
<path d="M416.8,494.5L416.8,460.1L418.2,454.3L419.6,450.8L421.0,449.5L422.4,449.1L423.8,447.7L425.1,446.6L426.5,445.2L427.9,444.5L429.3,443.4L430.7,442.9L432.1,442.8L433.5,442.0L434.9,441.5L436.3,441.1L437.7,441.2L439.1,440.4L440.4,440.2L441.8,439.6L443.2,440.8L444.6,439.4L446.0,440.7L447.4,439.3L448.8,439.6L450.2,439.7L451.6,438.9L453.0,439.6L454.4,439.9L455.7,439.2L457.1,439.1L458.5,439.5L459.9,439.9L461.3,439.8L462.7,439.8L464.1,439.3L465.5,440.1L466.9,439.9L468.3,439.6L469.7,439.9L471.0,440.0L472.4,439.2L473.8,439.1L475.2,439.8L476.6,439.9L478.0,440.4L479.4,440.2L480.8,440.6L482.2,439.9L483.6,440.0L485.0,440.9L486.3,439.6L487.7,440.8L489.1,440.0L490.5,440.1L491.9,440.1L493.3,441.5L494.7,441.3L496.1,440.6L497.5,442.3L498.9,442.4L500.3,441.7L501.6,441.9L503.0,441.4L504.4,441.8L505.8,442.4L507.2,441.7L508.6,442.7L510.0,442.9L511.4,442.8L512.8,443.4L514.2,443.6L515.6,443.3L516.9,443.9L518.3,443.0L519.7,443.6L521.1,443.9L522.5,444.7L523.9,444.2L525.3,444.1L526.7,443.7L528.1,443.3L529.5,442.1L530.9,441.1L532.2,440.6L533.6,439.1L535.0,436.8L536.4,434.2L537.8,433.5L539.2,431.8L540.6,430.6L542.0,431.7L543.4,432.1L544.8,432.1L546.2,433.9L547.5,436.0L548.9,438.1L550.3,438.0L551.7,439.4L553.1,440.0L554.5,440.4L555.9,441.3L557.3,442.7L558.7,443.8L560.1,444.2L561.5,444.4L562.8,445.0L564.2,446.0L565.6,446.6L567.0,446.3L568.4,446.8L569.8,447.7L571.2,447.0L572.6,448.0L574.0,449.4L575.4,449.1L576.8,448.8L578.1,450.0L579.5,449.6L580.9,451.1L582.3,451.0L583.7,450.4L585.1,451.1L586.5,451.3L587.9,452.5L589.3,452.3L590.7,452.5L592.1,453.3L593.4,453.0L594.8,453.5L596.2,453.0L597.6,453.9L599.0,454.4L600.4,454.9L601.8,454.7L603.2,453.1L604.6,453.0L606.0,450.5L607.4,446.1L608.7,438.8L610.1,428.7L611.5,416.6L612.9,401.6L614.3,387.6L615.7,374.0L617.1,362.9L618.5,359.6L619.9,361.5L621.3,370.5L622.7,383.3L624.0,397.6L625.4,412.0L626.8,422.9L628.2,433.3L629.6,440.8L631.0,445.7L632.4,449.2L633.8,452.2L635.2,452.5L636.6,454.3L638.0,454.7L639.3,456.5L640.7,456.9L642.1,458.1L643.5,458.9L644.9,457.7L646.3,458.1L647.7,459.3L649.1,458.5L650.5,458.8L651.9,459.7L653.3,459.3L654.6,458.7L656.0,459.5L657.4,458.6L658.8,459.5L660.2,459.0L661.6,457.9L663.0,458.2L664.4,457.3L665.8,455.5L667.2,455.3L668.6,453.9L669.9,454.0L671.3,453.5L672.7,452.6L674.1,452.5L675.5,450.9L676.9,451.9L678.3,451.4L679.7,452.3L681.1,451.7L682.5,452.2L683.9,452.5L685.2,453.6L686.6,454.1L688.0,453.6L689.4,455.2L690.8,456.1L692.2,456.9L693.6,457.3L695.0,457.8L696.4,458.4L697.8,457.4L699.2,457.8L700.5,457.8L701.9,456.3L703.3,456.4L704.7,454.8L706.1,451.9L707.5,450.6L708.9,447.1L710.3,442.9L711.7,439.4L713.1,437.3L714.4,434.5L715.8,432.6L717.2,433.3L718.6,433.7L720.0,437.5L721.4,439.5L722.8,443.8L724.2,447.7L725.6,450.5L727.0,453.7L728.4,455.0L729.7,457.6L731.1,458.0L732.5,459.8L733.9,461.2L735.3,462.3L736.7,462.3L738.1,463.4L739.5,462.6L740.9,464.1L742.3,463.6L743.7,463.7L745.0,464.2L746.4,463.4L747.8,464.1L749.2,463.6L750.6,463.8L752.0,464.2L753.4,464.1L754.8,464.6L756.2,464.4L757.6,463.2L759.0,464.0L760.3,463.3L761.7,464.2L763.1,463.4L764.5,463.7L765.9,463.4L767.3,463.8L768.7,464.2L770.1,463.9L771.5,464.2L772.9,464.5L774.3,463.6L775.6,464.5L777.0,464.4L778.4,463.7L779.8,464.0L781.2,464.0L782.6,464.1L784.0,465.4L785.4,465.2L786.8,465.7L788.2,464.6L789.6,464.7L790.9,465.3L792.3,465.2L793.7,464.8L795.1,464.8L796.5,465.6L797.9,464.6L799.3,465.5L800.7,465.0L802.1,465.8L803.5,466.0L804.9,464.6L806.2,464.9L807.6,465.0L809.0,466.1L810.4,466.1L811.8,465.9L813.2,465.7L814.6,465.4L816.0,465.1L817.4,465.5L818.8,464.8L820.2,463.9L821.5,464.4L822.9,462.9L824.3,463.0L825.7,462.4L827.1,462.9L828.5,462.4L829.9,461.8L831.3,462.4L832.7,463.1L834.1,461.8L835.5,462.2L836.8,463.4L838.2,464.2L839.6,463.3L841.0,464.1L842.4,465.5L843.8,465.5L845.2,466.1L846.6,465.2L848.0,466.4L849.4,465.4L850.8,465.8L852.1,467.1L853.5,466.2L854.9,466.7L856.3,466.2L857.7,466.1L859.1,467.1L860.5,467.5L861.9,466.0L863.3,467.0L864.7,466.1L866.1,466.6L867.4,466.5L868.8,466.4L870.2,466.8L871.6,467.1L873.0,467.9L874.4,466.8L875.8,467.3L877.2,467.2L878.6,466.5L880.0,467.9L881.4,466.9L882.7,468.1L884.1,467.0L885.5,466.9L886.9,467.9L888.3,467.4L889.7,466.7L891.1,467.3L892.5,467.5L893.9,468.1L895.3,468.4L896.7,467.9L898.0,467.9L899.4,468.3L900.8,468.1L902.2,468.5L903.6,467.5L903.6,494.5Z" fill="#8c0c00"/>
<path d="M395.0,519.9L395.0,488.9L396.4,484.7L397.8,482.7L399.3,480.8L400.7,479.7L402.1,477.9L403.5,478.0L404.9,477.3L406.4,475.7L407.8,476.3L409.2,475.1L410.6,475.0L412.1,473.7L413.5,473.8L414.9,473.1L416.3,473.7L417.7,472.6L419.2,472.5L420.6,472.5L422.0,471.9L423.4,471.6L424.9,472.7L426.3,472.3L427.7,472.2L429.1,472.4L430.5,472.7L432.0,472.3L433.4,472.4L434.8,471.6L436.2,472.0L437.7,472.6L439.1,472.2L440.5,472.0L441.9,472.2L443.3,472.5L444.8,472.6L446.2,472.8L447.6,471.1L449.0,471.5L450.4,472.6L451.9,471.6L453.3,471.1L454.7,471.8L456.1,472.6L457.6,472.0L459.0,472.2L460.4,472.7L461.8,472.1L463.2,473.1L464.7,471.7L466.1,472.2L467.5,472.4L468.9,471.9L470.4,472.5L471.8,473.3L473.2,473.5L474.6,473.8L476.0,474.1L477.5,473.0L478.9,473.0L480.3,474.1L481.7,474.4L483.1,473.8L484.6,473.6L486.0,473.6L487.4,475.0L488.8,474.1L490.3,474.2L491.7,474.4L493.1,475.3L494.5,475.7L495.9,474.7L497.4,475.7L498.8,475.7L500.2,475.5L501.6,475.8L503.1,475.1L504.5,476.1L505.9,476.4L507.3,475.4L508.7,475.0L510.2,474.2L511.6,473.7L513.0,472.3L514.4,471.0L515.9,470.2L517.3,468.6L518.7,467.8L520.1,466.5L521.5,465.4L523.0,466.2L524.4,465.7L525.8,467.5L527.2,468.2L528.6,468.5L530.1,471.1L531.5,472.1L532.9,472.2L534.3,473.3L535.8,472.9L537.2,474.6L538.6,473.6L540.0,474.0L541.4,474.5L542.9,475.5L544.3,476.1L545.7,475.8L547.1,476.4L548.6,476.9L550.0,477.3L551.4,477.3L552.8,477.2L554.2,477.1L555.7,477.1L557.1,478.5L558.5,478.5L559.9,478.4L561.4,478.3L562.8,478.8L564.2,479.2L565.6,479.6L567.0,479.3L568.5,479.2L569.9,478.5L571.3,478.7L572.7,478.9L574.1,478.9L575.6,479.0L577.0,479.7L578.4,479.5L579.8,480.9L581.3,479.9L582.7,480.0L584.1,480.4L585.5,479.6L586.9,478.2L588.4,477.6L589.8,475.0L591.2,471.9L592.6,466.5L594.1,458.8L595.5,452.2L596.9,443.6L598.3,435.2L599.7,430.3L601.2,428.7L602.6,429.0L604.0,434.1L605.4,440.5L606.9,448.7L608.3,456.2L609.7,462.8L611.1,468.4L612.5,472.8L614.0,475.4L615.4,476.1L616.8,478.0L618.2,479.6L619.6,479.1L621.1,480.7L622.5,481.4L623.9,481.1L625.3,481.8L626.8,481.7L628.2,481.8L629.6,482.5L631.0,482.1L632.4,483.0L633.9,482.5L635.3,482.4L636.7,483.4L638.1,482.9L639.6,483.4L641.0,482.8L642.4,481.9L643.8,482.2L645.2,481.6L646.7,481.1L648.1,481.7L649.5,479.6L650.9,479.4L652.4,479.8L653.8,478.0L655.2,478.3L656.6,478.2L658.0,476.7L659.5,477.2L660.9,476.8L662.3,477.9L663.7,476.9L665.1,478.3L666.6,478.3L668.0,478.4L669.4,479.5L670.8,479.0L672.3,480.3L673.7,480.8L675.1,480.7L676.5,481.8L677.9,481.5L679.4,482.3L680.8,482.1L682.2,482.7L683.6,482.1L685.1,481.9L686.5,482.6L687.9,481.0L689.3,480.6L690.7,478.5L692.2,476.7L693.6,474.1L695.0,472.7L696.4,469.6L697.9,466.5L699.3,464.2L700.7,463.7L702.1,464.9L703.5,465.0L705.0,467.9L706.4,469.6L707.8,471.9L709.2,475.8L710.6,476.8L712.1,479.3L713.5,481.8L714.9,483.3L716.3,484.1L717.8,484.4L719.2,485.6L720.6,487.1L722.0,487.7L723.4,488.0L724.9,487.1L726.3,488.3L727.7,487.8L729.1,488.3L730.6,487.7L732.0,488.3L733.4,488.7L734.8,487.5L736.2,488.0L737.7,487.8L739.1,487.6L740.5,487.3L741.9,488.8L743.4,488.2L744.8,488.5L746.2,487.8L747.6,487.1L749.0,487.1L750.5,488.4L751.9,488.1L753.3,487.0L754.7,487.3L756.1,487.9L757.6,487.9L759.0,488.6L760.4,487.5L761.8,488.5L763.3,487.8L764.7,488.4L766.1,489.4L767.5,489.1L768.9,489.3L770.4,488.2L771.8,488.8L773.2,489.8L774.6,489.6L776.1,489.3L777.5,489.2L778.9,489.0L780.3,489.4L781.7,489.5L783.2,490.1L784.6,489.2L786.0,489.6L787.4,490.2L788.9,489.5L790.3,488.6L791.7,490.2L793.1,490.1L794.5,489.2L796.0,489.9L797.4,489.8L798.8,489.4L800.2,489.7L801.6,489.1L803.1,489.0L804.5,488.0L805.9,487.7L807.3,489.0L808.8,487.8L810.2,487.0L811.6,486.5L813.0,486.3L814.4,486.3L815.9,486.1L817.3,486.4L818.7,486.5L820.1,485.7L821.6,485.8L823.0,486.0L824.4,486.8L825.8,487.8L827.2,487.5L828.7,487.9L830.1,488.7L831.5,488.9L832.9,489.7L834.4,489.7L835.8,490.2L837.2,490.9L838.6,490.6L840.0,490.8L841.5,489.7L842.9,490.7L844.3,490.9L845.7,491.2L847.1,491.3L848.6,491.1L850.0,491.5L851.4,491.8L852.8,490.3L854.3,491.1L855.7,491.1L857.1,490.9L858.5,491.4L859.9,491.7L861.4,491.9L862.8,491.5L864.2,491.6L865.6,490.9L867.1,491.2L868.5,490.6L869.9,491.6L871.3,490.7L872.7,491.3L874.2,492.2L875.6,492.0L877.0,491.4L878.4,490.7L879.9,491.8L881.3,491.2L882.7,491.8L884.1,491.1L885.5,492.5L887.0,491.8L888.4,491.1L889.8,492.2L891.2,492.3L892.6,492.7L892.6,519.9Z" fill="#007014"/>
<path d="M372.2,546.5L372.2,504.8L373.6,504.6L375.1,503.9L376.6,504.7L378.0,504.4L379.5,504.7L380.9,504.0L382.4,503.6L383.8,504.0L385.3,504.7L386.7,503.8L388.2,503.4L389.6,504.0L391.1,504.9L392.6,503.7L394.0,503.6L395.5,504.5L396.9,504.8L398.4,504.7L399.8,504.1L401.3,503.6L402.7,504.0L404.2,503.5L405.6,504.7L407.1,504.5L408.5,503.8L410.0,504.0L411.5,504.4L412.9,503.9L414.4,504.5L415.8,504.9L417.3,504.3L418.7,505.0L420.2,504.0L421.6,504.5L423.1,504.2L424.5,504.0L426.0,504.6L427.5,504.3L428.9,505.0L430.4,503.5L431.8,504.1L433.3,503.4L434.7,504.9L436.2,504.0L437.6,503.8L439.1,504.5L440.5,504.9L442.0,504.8L443.5,504.8L444.9,503.8L446.4,504.9L447.8,503.7L449.3,504.3L450.7,504.1L452.2,504.1L453.6,504.1L455.1,503.9L456.5,504.0L458.0,504.5L459.4,503.8L460.9,504.6L462.4,503.8L463.8,503.8L465.3,503.7L466.7,504.5L468.2,503.7L469.6,503.4L471.1,504.3L472.5,504.6L474.0,504.2L475.4,503.5L476.9,504.8L478.4,505.0L479.8,504.2L481.3,503.9L482.7,503.7L484.2,504.3L485.6,503.2L487.1,504.4L488.5,503.4L490.0,504.2L491.4,504.0L492.9,503.3L494.3,502.8L495.8,501.3L497.3,500.5L498.7,500.4L500.2,498.6L501.6,499.3L503.1,499.6L504.5,499.8L506.0,499.4L507.4,499.6L508.9,501.5L510.3,502.2L511.8,501.5L513.3,502.7L514.7,501.8L516.2,502.9L517.6,502.9L519.1,503.7L520.5,503.1L522.0,503.9L523.4,504.4L524.9,503.6L526.3,505.2L527.8,504.3L529.3,505.6L530.7,504.8L532.2,505.4L533.6,504.8L535.1,506.3L536.5,505.6L538.0,506.0L539.4,505.2L540.9,505.3L542.3,506.0L543.8,506.8L545.2,506.9L546.7,507.0L548.2,506.8L549.6,507.3L551.1,507.4L552.5,506.6L554.0,506.9L555.4,507.6L556.9,506.6L558.3,508.0L559.8,507.5L561.2,508.3L562.7,507.2L564.2,507.2L565.6,508.2L567.1,507.2L568.5,506.7L570.0,506.9L571.4,505.5L572.9,503.1L574.3,499.4L575.8,496.7L577.2,491.2L578.7,486.5L580.2,482.4L581.6,479.2L583.1,477.4L584.5,479.3L586.0,480.9L587.4,485.7L588.9,489.6L590.3,493.9L591.8,498.9L593.2,500.9L594.7,502.9L596.1,505.7L597.6,507.2L599.1,507.8L600.5,506.9L602.0,509.0L603.4,507.8L604.9,509.3L606.3,508.6L607.8,509.8L609.2,509.9L610.7,509.1L612.1,510.2L613.6,509.9L615.1,509.0L616.5,509.4L618.0,509.2L619.4,509.1L620.9,510.7L622.3,510.4L623.8,509.4L625.2,509.4L626.7,510.3L628.1,509.3L629.6,509.4L631.1,508.6L632.5,508.7L634.0,508.3L635.4,506.2L636.9,506.8L638.3,505.5L639.8,506.4L641.2,505.6L642.7,506.1L644.1,505.5L645.6,506.0L647.0,505.2L648.5,506.2L650.0,505.5L651.4,506.1L652.9,507.1L654.3,507.2L655.8,507.4L657.2,507.2L658.7,508.7L660.1,509.4L661.6,508.6L663.0,509.1L664.5,509.5L666.0,510.4L667.4,510.5L668.9,510.3L670.3,510.4L671.8,510.0L673.2,508.6L674.7,507.8L676.1,506.4L677.6,505.2L679.0,504.1L680.5,501.3L682.0,499.8L683.4,498.8L684.9,498.2L686.3,498.1L687.8,498.4L689.2,499.9L690.7,501.9L692.1,504.3L693.6,506.3L695.0,507.7L696.5,508.3L697.9,510.4L699.4,511.5L700.9,512.3L702.3,513.4L703.8,512.6L705.2,514.7L706.7,514.1L708.1,513.9L709.6,515.2L711.0,514.8L712.5,515.3L713.9,515.6L715.4,515.8L716.9,515.9L718.3,514.8L719.8,514.9L721.2,514.7L722.7,516.1L724.1,515.0L725.6,515.6L727.0,515.0L728.5,515.1L729.9,515.4L731.4,514.2L732.9,515.7L734.3,514.4L735.8,514.1L737.2,514.7L738.7,514.5L740.1,513.9L741.6,515.3L743.0,514.7L744.5,514.7L745.9,515.4L747.4,515.0L748.8,515.7L750.3,515.6L751.8,515.6L753.2,515.5L754.7,516.2L756.1,515.8L757.6,515.9L759.0,516.5L760.5,515.9L761.9,516.5L763.4,515.5L764.8,516.2L766.3,515.8L767.8,516.2L769.2,516.3L770.7,516.8L772.1,516.9L773.6,515.6L775.0,516.3L776.5,516.3L777.9,516.3L779.4,515.9L780.8,516.8L782.3,516.9L783.8,515.8L785.2,516.3L786.7,515.9L788.1,515.5L789.6,515.2L791.0,515.0L792.5,516.1L793.9,515.2L795.4,514.1L796.8,513.7L798.3,514.5L799.7,514.1L801.2,513.6L802.7,513.7L804.1,513.1L805.6,512.3L807.0,512.9L808.5,513.2L809.9,514.1L811.4,513.9L812.8,513.3L814.3,514.3L815.7,515.1L817.2,515.5L818.7,515.3L820.1,515.7L821.6,517.0L823.0,516.4L824.5,517.1L825.9,517.0L827.4,517.6L828.8,517.4L830.3,517.5L831.7,517.5L833.2,518.2L834.6,517.9L836.1,517.3L837.6,518.2L839.0,518.0L840.5,517.2L841.9,517.9L843.4,517.9L844.8,518.0L846.3,517.1L847.7,518.3L849.2,517.5L850.6,517.1L852.1,518.2L853.6,517.9L855.0,517.3L856.5,517.6L857.9,518.1L859.4,518.6L860.8,518.0L862.3,518.1L863.7,517.6L865.2,518.3L866.6,518.2L868.1,517.8L869.6,517.5L871.0,518.3L872.5,518.3L873.9,518.0L875.4,517.5L876.8,518.7L878.3,517.4L879.7,517.9L881.2,518.5L881.2,546.5Z" fill="#087488"/>
<path d="M348.3,574.3L348.3,534.2L349.8,534.7L351.3,535.2L352.8,534.0L354.3,534.7L355.8,534.4L357.3,534.5L358.7,533.8L360.2,534.0L361.7,535.2L363.2,534.3L364.7,534.5L366.2,534.5L367.7,533.9L369.2,534.6L370.6,534.5L372.1,533.8L373.6,534.6L375.1,534.5L376.6,534.5L378.1,533.9L379.6,534.2L381.1,534.1L382.6,534.6L384.0,535.2L385.5,534.2L387.0,534.4L388.5,534.0L390.0,534.0L391.5,535.1L393.0,534.9L394.5,535.2L395.9,533.9L397.4,535.1L398.9,535.1L400.4,534.1L401.9,534.4L403.4,535.2L404.9,534.2L406.4,534.1L407.9,534.5L409.3,535.2L410.8,534.2L412.3,534.6L413.8,534.3L415.3,533.7L416.8,534.0L418.3,533.9L419.8,535.1L421.2,534.7L422.7,534.4L424.2,535.3L425.7,533.7L427.2,534.8L428.7,534.9L430.2,534.8L431.7,534.9L433.2,533.9L434.6,534.4L436.1,534.5L437.6,534.6L439.1,535.2L440.6,534.8L442.1,533.9L443.6,534.0L445.1,533.9L446.5,534.9L448.0,535.0L449.5,535.2L451.0,534.4L452.5,534.7L454.0,534.5L455.5,534.5L457.0,534.3L458.5,534.7L459.9,533.9L461.4,534.9L462.9,533.7L464.4,534.2L465.9,535.0L467.4,534.4L468.9,533.8L470.4,533.7L471.8,533.0L473.3,532.9L474.8,532.3L476.3,530.8L477.8,531.0L479.3,529.9L480.8,529.5L482.3,529.8L483.7,530.2L485.2,529.9L486.7,531.1L488.2,530.9L489.7,532.7L491.2,532.5L492.7,532.5L494.2,533.8L495.7,532.7L497.1,534.1L498.6,533.5L500.1,534.3L501.6,533.3L503.1,534.1L504.6,533.8L506.1,534.5L507.6,534.3L509.0,534.5L510.5,535.2L512.0,535.5L513.5,534.5L515.0,535.8L516.5,534.6L518.0,535.8L519.5,536.1L521.0,536.2L522.4,535.1L523.9,534.9L525.4,535.8L526.9,535.5L528.4,536.2L529.9,535.2L531.4,535.7L532.9,536.6L534.3,536.8L535.8,535.9L537.3,537.0L538.8,535.7L540.3,536.7L541.8,536.8L543.3,536.3L544.8,536.7L546.3,536.3L547.7,536.8L549.2,535.2L550.7,535.5L552.2,533.6L553.7,533.0L555.2,529.6L556.7,526.1L558.2,523.4L559.6,520.1L561.1,516.1L562.6,513.2L564.1,512.8L565.6,512.9L567.1,515.8L568.6,518.3L570.1,521.5L571.6,525.5L573.0,528.2L574.5,531.6L576.0,532.2L577.5,534.7L579.0,534.2L580.5,534.7L582.0,535.2L583.5,536.2L584.9,536.9L586.4,537.0L587.9,536.5L589.4,537.1L590.9,536.5L592.4,538.0L593.9,537.4L595.4,536.9L596.9,537.4L598.3,537.5L599.8,538.3L601.3,538.2L602.8,538.0L604.3,537.0L605.8,537.0L607.3,538.0L608.8,536.7L610.2,537.9L611.7,536.7L613.2,535.7L614.7,536.4L616.2,535.0L617.7,535.0L619.2,535.6L620.7,534.8L622.2,534.4L623.6,534.6L625.1,533.6L626.6,534.5L628.1,533.5L629.6,534.4L631.1,534.9L632.6,534.2L634.1,535.2L635.5,534.8L637.0,534.7L638.5,535.4L640.0,536.1L641.5,537.2L643.0,536.8L644.5,537.8L646.0,537.1L647.5,538.2L648.9,537.5L650.4,537.9L651.9,537.7L653.4,537.1L654.9,537.6L656.4,537.0L657.9,535.1L659.4,535.1L660.8,533.1L662.3,531.7L663.8,531.0L665.3,530.2L666.8,529.4L668.3,527.7L669.8,529.0L671.3,529.1L672.7,530.1L674.2,532.2L675.7,533.2L677.2,535.2L678.7,535.9L680.2,537.1L681.7,538.4L683.2,539.5L684.7,539.8L686.1,540.8L687.6,541.4L689.1,541.6L690.6,540.9L692.1,541.8L693.6,541.3L695.1,542.9L696.6,541.5L698.0,542.3L699.5,541.9L701.0,542.3L702.5,542.1L704.0,542.9L705.5,542.0L707.0,543.0L708.5,542.8L710.0,543.1L711.4,542.5L712.9,542.2L714.4,542.4L715.9,541.4L717.4,542.6L718.9,541.7L720.4,542.2L721.9,541.5L723.3,541.2L724.8,541.4L726.3,542.5L727.8,542.3L729.3,541.9L730.8,541.4L732.3,543.1L733.8,542.3L735.3,542.3L736.7,542.2L738.2,543.0L739.7,542.3L741.2,543.0L742.7,542.3L744.2,543.8L745.7,542.3L747.2,543.2L748.6,543.2L750.1,543.7L751.6,543.5L753.1,542.7L754.6,542.8L756.1,543.7L757.6,543.4L759.1,543.8L760.6,543.7L762.0,543.7L763.5,543.5L765.0,542.4L766.5,542.4L768.0,542.7L769.5,543.2L771.0,543.1L772.5,542.5L773.9,542.1L775.4,542.2L776.9,542.1L778.4,542.6L779.9,541.5L781.4,540.8L782.9,540.5L784.4,541.2L785.9,539.8L787.3,540.1L788.8,540.2L790.3,538.7L791.8,539.1L793.3,539.1L794.8,540.3L796.3,539.4L797.8,539.6L799.2,540.1L800.7,540.8L802.2,541.1L803.7,541.5L805.2,542.3L806.7,542.9L808.2,542.5L809.7,542.8L811.2,542.8L812.6,543.9L814.1,543.0L815.6,543.7L817.1,543.1L818.6,544.5L820.1,543.2L821.6,543.5L823.1,544.4L824.5,543.5L826.0,544.5L827.5,544.6L829.0,544.1L830.5,544.5L832.0,544.1L833.5,543.5L835.0,543.9L836.5,543.8L837.9,544.4L839.4,543.7L840.9,543.8L842.4,544.0L843.9,543.5L845.4,543.8L846.9,544.5L848.4,545.0L849.8,544.1L851.3,543.8L852.8,544.6L854.3,544.2L855.8,543.9L857.3,544.0L858.8,545.3L860.3,544.5L861.8,545.3L863.2,545.2L864.7,544.0L866.2,544.7L867.7,544.4L869.2,544.7L869.2,574.3Z" fill="#0818a8"/>
<path d="M323.3,603.5L323.3,564.8L324.8,565.0L326.4,564.8L327.9,564.0L329.4,564.4L330.9,564.9L332.5,565.2L334.0,564.9L335.5,564.2L337.0,564.6L338.6,564.3L340.1,564.1L341.6,565.2L343.1,564.3L344.6,565.3L346.2,564.0L347.7,565.1L349.2,564.9L350.7,563.8L352.3,564.8L353.8,565.0L355.3,563.9L356.8,564.4L358.4,563.9L359.9,564.7L361.4,564.6L362.9,563.8L364.5,564.5L366.0,563.8L367.5,565.1L369.0,564.0L370.6,565.1L372.1,564.5L373.6,565.4L375.1,565.1L376.6,563.8L378.2,564.6L379.7,564.1L381.2,565.0L382.7,564.8L384.3,565.2L385.8,564.5L387.3,564.0L388.8,564.5L390.4,564.8L391.9,563.9L393.4,563.9L394.9,564.3L396.5,565.2L398.0,564.4L399.5,564.6L401.0,563.8L402.6,564.8L404.1,564.3L405.6,564.3L407.1,564.8L408.6,564.5L410.2,564.3L411.7,563.9L413.2,564.6L414.7,564.8L416.3,563.8L417.8,565.3L419.3,564.0L420.8,564.3L422.4,564.5L423.9,564.6L425.4,564.2L426.9,563.9L428.5,564.2L430.0,564.2L431.5,565.3L433.0,564.8L434.5,565.1L436.1,563.8L437.6,563.9L439.1,565.1L440.6,564.3L442.2,564.3L443.7,565.0L445.2,564.3L446.7,563.4L448.3,563.2L449.8,563.2L451.3,561.8L452.8,561.7L454.4,560.5L455.9,559.9L457.4,558.4L458.9,558.7L460.5,558.4L462.0,558.9L463.5,559.9L465.0,559.5L466.5,560.6L468.1,561.2L469.6,562.3L471.1,562.9L472.6,562.6L474.2,562.4L475.7,562.7L477.2,563.6L478.7,564.2L480.3,563.8L481.8,563.4L483.3,564.7L484.8,563.9L486.4,565.0L487.9,564.9L489.4,565.4L490.9,565.1L492.5,565.1L494.0,564.2L495.5,564.3L497.0,565.6L498.5,565.5L500.1,564.5L501.6,565.8L503.1,565.6L504.6,565.5L506.2,566.1L507.7,565.9L509.2,565.7L510.7,565.8L512.3,564.9L513.8,566.0L515.3,566.2L516.8,565.1L518.4,565.9L519.9,565.3L521.4,565.6L522.9,565.4L524.4,566.1L526.0,566.3L527.5,565.2L529.0,565.3L530.5,564.5L532.1,563.2L533.6,561.4L535.1,559.8L536.6,556.5L538.2,551.9L539.7,548.7L541.2,545.6L542.7,542.6L544.3,542.2L545.8,541.9L547.3,545.2L548.8,547.0L550.4,551.0L551.9,554.9L553.4,557.0L554.9,560.5L556.4,562.4L558.0,563.9L559.5,564.0L561.0,564.2L562.5,564.8L564.1,565.5L565.6,565.2L567.1,566.5L568.6,566.4L570.2,566.0L571.7,565.6L573.2,566.2L574.7,566.2L576.3,566.1L577.8,566.8L579.3,565.9L580.8,566.3L582.4,567.0L583.9,566.9L585.4,566.2L586.9,566.8L588.4,566.9L590.0,565.6L591.5,565.9L593.0,565.6L594.5,565.0L596.1,564.1L597.6,564.9L599.1,564.1L600.6,564.1L602.2,563.1L603.7,562.7L605.2,561.9L606.7,562.0L608.3,562.1L609.8,562.3L611.3,562.1L612.8,562.7L614.3,561.9L615.9,562.2L617.4,562.4L618.9,563.8L620.4,563.3L622.0,563.6L623.5,564.5L625.0,564.2L626.5,564.5L628.1,565.0L629.6,565.1L631.1,565.4L632.6,565.0L634.2,566.1L635.7,564.9L637.2,564.5L638.7,564.1L640.3,563.8L641.8,563.0L643.3,560.8L644.8,558.8L646.3,558.1L647.9,556.8L649.4,555.6L650.9,555.3L652.4,554.5L654.0,554.7L655.5,556.3L657.0,558.6L658.5,559.7L660.1,562.4L661.6,562.7L663.1,564.9L664.6,566.5L666.2,566.5L667.7,568.0L669.2,568.5L670.7,569.4L672.3,569.2L673.8,569.4L675.3,569.2L676.8,570.7L678.3,569.6L679.9,570.8L681.4,570.7L682.9,570.1L684.4,570.6L686.0,570.7L687.5,570.3L689.0,570.8L690.5,569.9L692.1,570.8L693.6,569.7L695.1,569.6L696.6,569.9L698.2,570.6L699.7,569.2L701.2,570.3L702.7,569.4L704.2,569.4L705.8,569.9L707.3,569.0L708.8,568.9L710.3,569.2L711.9,569.7L713.4,569.7L714.9,569.7L716.4,570.5L718.0,569.7L719.5,569.6L721.0,570.1L722.5,570.0L724.1,571.1L725.6,570.1L727.1,571.6L728.6,571.0L730.2,571.6L731.7,571.1L733.2,570.7L734.7,570.7L736.2,571.1L737.8,571.3L739.3,571.6L740.8,571.3L742.3,571.5L743.9,571.7L745.4,570.8L746.9,571.2L748.4,571.3L750.0,571.7L751.5,570.8L753.0,571.6L754.5,571.4L756.1,570.8L757.6,570.4L759.1,569.8L760.6,569.9L762.2,569.2L763.7,568.8L765.2,568.6L766.7,568.1L768.2,568.5L769.8,567.7L771.3,567.5L772.8,565.7L774.3,565.5L775.9,565.5L777.4,566.0L778.9,565.9L780.4,566.5L782.0,566.2L783.5,566.1L785.0,567.8L786.5,568.8L788.1,569.2L789.6,569.5L791.1,569.2L792.6,569.8L794.2,570.8L795.7,571.7L797.2,571.9L798.7,572.0L800.2,571.2L801.8,571.8L803.3,571.0L804.8,571.2L806.3,571.5L807.9,572.0L809.4,571.5L810.9,572.6L812.4,572.7L814.0,572.0L815.5,572.1L817.0,572.6L818.5,572.5L820.1,572.9L821.6,571.5L823.1,571.8L824.6,571.5L826.1,571.4L827.7,572.3L829.2,571.9L830.7,572.5L832.2,571.8L833.8,571.8L835.3,572.9L836.8,573.1L838.3,572.8L839.9,572.3L841.4,572.6L842.9,573.2L844.4,571.9L846.0,572.0L847.5,572.6L849.0,573.2L850.5,571.9L852.1,572.5L853.6,573.3L855.1,572.9L856.6,572.4L856.6,603.5Z" fill="#ff8208"/>
<path d="M297.1,634.0L297.1,594.3L298.6,594.9L300.2,594.7L301.8,595.4L303.3,595.3L304.9,594.2L306.5,595.1L308.0,595.5L309.6,594.7L311.1,595.5L312.7,595.4L314.3,595.0L315.8,594.8L317.4,594.7L318.9,594.6L320.5,595.0L322.1,595.6L323.6,594.5L325.2,595.6L326.7,594.9L328.3,595.0L329.9,594.6L331.4,594.5L333.0,595.3L334.6,594.7L336.1,594.6L337.7,594.9L339.2,595.5L340.8,594.2L342.4,594.7L343.9,595.6L345.5,595.3L347.0,594.1L348.6,595.3L350.2,595.1L351.7,594.4L353.3,594.4L354.8,594.7L356.4,594.5L358.0,595.6L359.5,595.5L361.1,594.1L362.6,594.4L364.2,595.6L365.8,595.6L367.3,595.3L368.9,594.2L370.5,595.3L372.0,594.6L373.6,594.2L375.1,594.7L376.7,594.2L378.3,595.3L379.8,595.4L381.4,595.6L382.9,594.5L384.5,595.5L386.1,594.1L387.6,594.6L389.2,595.4L390.7,594.4L392.3,595.4L393.9,594.9L395.4,595.5L397.0,594.4L398.6,594.3L400.1,594.2L401.7,595.7L403.2,594.3L404.8,594.8L406.4,594.4L407.9,594.9L409.5,594.7L411.0,594.7L412.6,594.4L414.2,595.5L415.7,595.5L417.3,594.7L418.8,595.0L420.4,594.6L422.0,595.0L423.5,593.4L425.1,594.0L426.7,591.9L428.2,590.9L429.8,590.3L431.3,589.6L432.9,587.7L434.5,587.6L436.0,586.7L437.6,587.2L439.1,586.3L440.7,587.7L442.3,588.9L443.8,590.2L445.4,590.0L446.9,590.5L448.5,591.1L450.1,592.7L451.6,592.7L453.2,593.1L454.7,592.6L456.3,593.9L457.9,593.4L459.4,593.1L461.0,593.7L462.6,595.1L464.1,595.2L465.7,595.3L467.2,594.5L468.8,594.8L470.4,595.0L471.9,595.2L473.5,595.3L475.0,595.1L476.6,595.1L478.2,594.7L479.7,595.0L481.3,594.9L482.8,594.8L484.4,595.0L486.0,595.2L487.5,596.3L489.1,595.3L490.7,595.1L492.2,595.8L493.8,595.1L495.3,596.2L496.9,595.0L498.5,595.8L500.0,595.4L501.6,596.1L503.1,596.0L504.7,595.8L506.3,595.5L507.8,595.3L509.4,593.8L510.9,591.3L512.5,589.3L514.1,585.3L515.6,580.9L517.2,575.3L518.8,569.4L520.3,564.7L521.9,561.8L523.4,560.4L525.0,561.0L526.6,564.6L528.1,568.8L529.7,573.0L531.2,578.1L532.8,583.6L534.4,586.4L535.9,589.0L537.5,590.7L539.0,592.1L540.6,593.4L542.2,594.7L543.7,594.0L545.3,595.2L546.8,595.0L548.4,595.7L550.0,595.6L551.5,595.1L553.1,596.5L554.7,596.0L556.2,595.9L557.8,596.2L559.3,595.6L560.9,596.4L562.5,595.6L564.0,595.9L565.6,595.4L567.1,596.6L568.7,596.2L570.3,595.7L571.8,594.3L573.4,595.2L574.9,594.2L576.5,592.8L578.1,591.6L579.6,592.2L581.2,591.1L582.8,590.1L584.3,589.6L585.9,589.2L587.4,588.9L589.0,589.5L590.6,589.4L592.1,589.7L593.7,588.7L595.2,589.6L596.8,589.7L598.4,588.9L599.9,589.8L601.5,590.3L603.0,590.7L604.6,591.3L606.2,591.6L607.7,592.5L609.3,593.2L610.8,593.3L612.4,593.4L614.0,592.7L615.5,592.7L617.1,592.3L618.7,590.9L620.2,589.0L621.8,587.9L623.3,586.4L624.9,583.1L626.5,581.1L628.0,578.3L629.6,575.2L631.1,573.0L632.7,571.5L634.3,572.0L635.8,572.8L637.4,576.0L638.9,577.5L640.5,581.5L642.1,583.7L643.6,587.6L645.2,588.7L646.8,591.6L648.3,592.2L649.9,593.6L651.4,595.0L653.0,596.5L654.6,597.7L656.1,597.9L657.7,597.2L659.2,598.7L660.8,598.2L662.4,598.4L663.9,598.4L665.5,599.3L667.0,599.4L668.6,599.5L670.2,598.1L671.7,599.0L673.3,598.5L674.9,598.5L676.4,599.0L678.0,599.1L679.5,598.9L681.1,597.4L682.7,598.3L684.2,596.7L685.8,597.4L687.3,596.7L688.9,597.5L690.5,596.5L692.0,597.4L693.6,597.3L695.1,597.3L696.7,598.2L698.3,598.3L699.8,597.7L701.4,598.7L702.9,598.8L704.5,598.4L706.1,599.4L707.6,599.6L709.2,599.6L710.8,599.4L712.3,599.5L713.9,599.1L715.4,599.4L717.0,598.8L718.6,600.1L720.1,599.2L721.7,598.9L723.2,599.9L724.8,600.2L726.4,599.6L727.9,600.1L729.5,599.6L731.0,599.2L732.6,600.1L734.2,600.1L735.7,599.5L737.3,599.9L738.9,599.6L740.4,599.1L742.0,599.4L743.5,599.2L745.1,598.3L746.7,597.6L748.2,596.2L749.8,596.0L751.3,596.0L752.9,594.9L754.5,593.2L756.0,592.7L757.6,591.5L759.1,590.8L760.7,590.6L762.3,591.7L763.8,590.5L765.4,591.5L767.0,592.6L768.5,593.4L770.1,593.2L771.6,595.1L773.2,596.2L774.8,596.7L776.3,596.5L777.9,597.9L779.4,598.0L781.0,599.5L782.6,599.3L784.1,599.8L785.7,600.2L787.2,599.6L788.8,600.2L790.4,600.6L791.9,599.3L793.5,600.2L795.0,600.7L796.6,601.0L798.2,600.0L799.7,600.2L801.3,601.0L802.9,600.3L804.4,599.9L806.0,600.2L807.5,600.7L809.1,600.3L810.7,600.2L812.2,600.1L813.8,600.9L815.3,599.9L816.9,599.7L818.5,600.0L820.0,599.9L821.6,600.7L823.1,599.8L824.7,601.0L826.3,600.9L827.8,600.4L829.4,599.9L831.0,601.2L832.5,601.0L834.1,601.3L835.6,600.7L837.2,601.2L838.8,601.1L840.3,600.3L841.9,600.5L843.4,600.0L843.4,634.0Z" fill="#9428ff"/>
<path d="M269.5,666.1L269.5,628.1L271.1,627.6L272.7,628.7L274.3,627.2L275.9,628.3L277.5,627.9L279.1,627.9L280.7,627.2L282.3,627.9L283.9,627.1L285.5,627.7L287.1,628.3L288.7,627.4L290.3,628.4L291.9,627.1L293.5,628.0L295.1,628.3L296.7,627.2L298.3,628.2L299.9,628.1L301.5,628.2L303.1,627.6L304.7,628.6L306.3,628.1L307.9,628.4L309.5,627.4L311.1,628.7L312.7,627.7L314.3,628.3L315.9,628.0L317.5,627.8L319.1,627.6L320.7,628.5L322.3,628.3L323.9,628.5L325.5,627.2L327.1,628.5L328.7,628.5L330.3,627.9L331.9,627.8L333.5,627.3L335.1,628.6L336.7,628.3L338.3,628.4L339.9,627.8L341.5,628.0L343.1,628.0L344.7,627.3L346.3,627.7L347.9,627.4L349.5,627.2L351.1,628.3L352.7,627.2L354.3,628.1L355.9,628.6L357.5,627.3L359.1,628.5L360.7,628.7L362.3,628.2L363.9,628.2L365.6,627.2L367.2,627.3L368.8,628.0L370.4,627.9L372.0,627.4L373.6,627.4L375.2,627.7L376.8,627.9L378.4,628.5L380.0,628.3L381.6,627.7L383.2,627.8L384.8,627.4L386.4,627.3L388.0,627.1L389.6,628.3L391.2,628.4L392.8,627.1L394.4,627.5L396.0,627.8L397.6,626.7L399.2,626.8L400.8,626.0L402.4,624.6L404.0,623.0L405.6,621.1L407.2,620.3L408.8,617.7L410.4,616.7L412.0,616.3L413.6,615.9L415.2,616.3L416.8,618.5L418.4,619.1L420.0,620.0L421.6,621.1L423.2,622.2L424.8,623.7L426.4,623.2L428.0,623.9L429.6,625.2L431.2,625.3L432.8,624.9L434.4,626.4L436.0,626.5L437.6,625.9L439.2,626.3L440.8,627.6L442.4,627.0L444.0,627.8L445.6,627.5L447.2,627.4L448.8,628.5L450.4,628.4L452.0,628.5L453.6,628.5L455.2,628.9L456.8,628.8L458.4,628.4L460.0,628.4L461.6,628.9L463.2,628.2L464.8,627.6L466.4,628.2L468.0,628.6L469.6,628.1L471.2,628.5L472.8,628.9L474.4,628.4L476.0,629.2L477.6,628.1L479.2,628.9L480.8,628.4L482.4,627.3L484.0,627.1L485.6,626.1L487.2,624.9L488.8,622.4L490.4,618.4L492.0,612.5L493.6,606.6L495.2,597.4L496.8,589.5L498.4,581.8L500.0,575.3L501.6,573.3L503.2,574.2L504.8,578.8L506.4,586.2L508.0,594.8L509.6,602.9L511.2,608.9L512.8,614.1L514.4,618.8L516.0,621.9L517.6,623.9L519.2,624.9L520.8,625.1L522.4,626.9L524.0,627.1L525.6,627.5L527.2,627.2L528.8,627.1L530.4,628.9L532.0,628.9L533.6,627.8L535.2,627.9L536.8,629.2L538.4,628.9L540.0,628.7L541.6,628.9L543.2,628.7L544.8,628.5L546.4,628.6L548.0,628.5L549.6,628.0L551.2,627.3L552.8,626.6L554.4,624.9L556.0,623.8L557.6,623.4L559.2,621.6L560.8,620.7L562.4,620.4L564.0,619.5L565.6,619.4L567.2,617.8L568.8,618.1L570.4,618.7L572.0,618.4L573.6,617.6L575.2,618.1L576.8,617.8L578.4,618.9L580.0,618.5L581.6,619.0L583.2,620.6L584.8,620.4L586.4,621.5L588.0,621.1L589.6,621.1L591.2,621.2L592.8,621.9L594.4,621.7L596.0,620.2L597.6,619.3L599.2,618.5L600.8,616.3L602.4,612.8L604.0,609.8L605.6,604.3L607.2,599.7L608.8,594.3L610.4,589.1L612.0,585.2L613.6,582.9L615.2,584.1L616.8,585.2L618.4,589.8L620.0,594.6L621.6,599.5L623.2,604.6L624.8,609.5L626.4,613.1L628.0,617.6L629.6,620.2L631.2,622.0L632.8,624.5L634.4,626.2L636.0,627.4L637.6,627.5L639.2,628.1L640.8,628.8L642.4,628.8L644.0,629.2L645.6,630.1L647.2,630.2L648.8,629.6L650.4,630.7L652.0,629.8L653.6,630.6L655.2,630.6L656.8,629.8L658.4,630.2L660.0,628.7L661.6,628.6L663.2,628.9L664.8,629.0L666.4,628.8L668.0,627.9L669.6,627.6L671.2,627.7L672.8,627.1L674.4,627.5L676.0,627.3L677.6,628.6L679.2,629.0L680.8,628.8L682.4,629.1L684.0,629.8L685.6,629.4L687.2,630.4L688.8,630.4L690.4,630.3L692.0,630.1L693.6,630.0L695.2,630.7L696.8,630.6L698.4,629.9L700.0,630.0L701.6,630.5L703.2,631.3L704.8,630.7L706.4,630.5L708.0,631.1L709.6,631.4L711.2,630.0L712.8,630.1L714.4,631.3L716.0,630.8L717.6,630.5L719.2,630.9L720.8,631.2L722.4,630.0L724.0,629.7L725.6,629.9L727.2,630.0L728.8,628.9L730.4,628.7L732.0,626.4L733.6,626.9L735.2,625.4L736.8,623.5L738.4,623.3L740.0,622.3L741.6,621.4L743.2,620.5L744.8,619.5L746.4,618.9L748.0,620.1L749.6,620.6L751.2,620.4L752.8,621.9L754.4,623.2L756.0,624.7L757.6,625.7L759.2,625.7L760.8,628.0L762.4,628.7L764.0,628.7L765.6,629.1L767.2,629.6L768.8,630.6L770.4,630.1L772.0,630.9L773.6,631.5L775.2,631.3L776.8,631.0L778.4,631.0L780.0,632.0L781.6,631.9L783.2,630.8L784.8,632.1L786.4,631.0L788.0,631.8L789.6,631.9L791.2,631.9L792.8,631.6L794.4,630.8L796.0,632.2L797.6,631.1L799.2,631.9L800.8,632.2L802.4,631.3L804.0,631.9L805.6,632.2L807.2,631.9L808.8,631.2L810.4,631.2L812.0,631.7L813.6,632.6L815.2,631.4L816.8,631.7L818.4,631.2L820.0,631.2L821.6,632.1L823.2,631.4L824.8,631.4L826.4,632.3L828.0,632.1L829.6,632.2L829.6,666.1Z" fill="#ff2480"/>
<path d="M240.6,699.9L240.6,662.3L242.2,662.3L243.9,662.7L245.5,662.5L247.1,661.5L248.8,662.2L250.4,661.9L252.1,661.5L253.7,661.7L255.3,662.5L257.0,661.4L258.6,661.6L260.3,661.3L261.9,661.7L263.6,661.7L265.2,661.6L266.8,662.4L268.5,661.8L270.1,662.3L271.8,661.6L273.4,662.6L275.0,662.0L276.7,662.3L278.3,661.6L280.0,662.3L281.6,661.6L283.3,661.5L284.9,661.5L286.5,662.6L288.2,661.4L289.8,661.7L291.5,661.8L293.1,661.8L294.7,662.8L296.4,661.5L298.0,662.0L299.7,662.1L301.3,662.3L302.9,661.6L304.6,661.6L306.2,661.5L307.9,662.5L309.5,662.3L311.2,662.5L312.8,662.7L314.4,662.3L316.1,662.8L317.7,661.6L319.4,662.5L321.0,662.7L322.6,662.7L324.3,661.7L325.9,662.5L327.6,662.1L329.2,662.2L330.9,661.6L332.5,661.4L334.1,662.4L335.8,661.9L337.4,661.5L339.1,662.1L340.7,661.5L342.3,661.7L344.0,662.4L345.6,661.5L347.3,662.0L348.9,662.7L350.5,661.9L352.2,661.6L353.8,662.0L355.5,662.1L357.1,662.2L358.8,661.5L360.4,661.8L362.0,662.5L363.7,662.2L365.3,662.2L367.0,661.2L368.6,661.4L370.2,662.1L371.9,660.5L373.5,661.2L375.2,659.5L376.8,658.6L378.4,656.7L380.1,655.4L381.7,654.2L383.4,651.9L385.0,650.2L386.7,649.6L388.3,650.3L389.9,651.1L391.6,651.3L393.2,652.5L394.9,654.7L396.5,654.9L398.1,655.7L399.8,657.4L401.4,658.1L403.1,658.1L404.7,658.2L406.4,659.8L408.0,660.0L409.6,660.3L411.3,660.0L412.9,661.2L414.6,660.9L416.2,661.2L417.8,661.2L419.5,662.2L421.1,661.1L422.8,661.1L424.4,661.9L426.0,661.6L427.7,662.6L429.3,661.5L431.0,662.1L432.6,661.8L434.3,661.7L435.9,662.5L437.5,661.6L439.2,662.7L440.8,663.0L442.5,662.3L444.1,661.7L445.7,661.7L447.4,661.6L449.0,662.3L450.7,661.7L452.3,662.2L453.9,662.8L455.6,662.0L457.2,661.7L458.9,662.0L460.5,661.4L462.2,661.1L463.8,659.8L465.4,657.5L467.1,654.1L468.7,649.5L470.4,644.1L472.0,637.2L473.6,629.4L475.3,622.3L476.9,617.5L478.6,616.3L480.2,617.4L481.9,620.9L483.5,627.2L485.1,633.3L486.8,639.5L488.4,646.3L490.1,650.3L491.7,653.4L493.3,655.7L495.0,657.4L496.6,658.5L498.3,660.0L499.9,659.7L501.5,660.1L503.2,661.8L504.8,660.8L506.5,661.8L508.1,662.6L509.8,662.8L511.4,661.8L513.0,662.1L514.7,663.0L516.3,662.5L518.0,662.2L519.6,661.7L521.2,662.6L522.9,661.8L524.5,662.4L526.2,662.1L527.8,661.7L529.4,660.8L531.1,659.7L532.7,659.4L534.4,658.7L536.0,657.6L537.7,656.8L539.3,655.7L540.9,654.7L542.6,653.8L544.2,653.7L545.9,652.9L547.5,652.7L549.1,651.7L550.8,652.4L552.4,651.7L554.1,652.5L555.7,653.1L557.4,652.8L559.0,653.9L560.6,654.4L562.3,655.1L563.9,654.7L565.6,654.8L567.2,656.1L568.8,656.4L570.5,656.3L572.1,656.3L573.8,655.5L575.4,655.4L577.0,654.9L578.7,652.6L580.3,651.2L582.0,649.5L583.6,644.9L585.3,641.1L586.9,637.0L588.5,631.9L590.2,627.2L591.8,624.7L593.5,622.9L595.1,623.2L596.7,624.6L598.4,627.8L600.0,632.0L601.7,636.4L603.3,642.1L605.0,645.9L606.6,648.7L608.2,651.8L609.9,654.5L611.5,656.4L613.2,658.6L614.8,659.0L616.4,660.7L618.1,661.7L619.7,662.6L621.4,663.2L623.0,662.3L624.6,662.6L626.3,663.9L627.9,663.5L629.6,663.4L631.2,663.4L632.9,663.6L634.5,662.7L636.1,663.5L637.8,663.2L639.4,662.4L641.1,662.7L642.7,662.8L644.3,662.8L646.0,662.5L647.6,662.0L649.3,661.5L650.9,662.2L652.5,661.9L654.2,661.8L655.8,661.9L657.5,661.2L659.1,661.9L660.8,662.5L662.4,662.7L664.0,662.1L665.7,663.4L667.3,662.7L669.0,663.9L670.6,663.8L672.2,664.1L673.9,663.0L675.5,664.0L677.2,663.9L678.8,664.2L680.5,663.9L682.1,663.2L683.7,663.2L685.4,663.0L687.0,662.9L688.7,663.5L690.3,663.0L691.9,664.2L693.6,663.0L695.2,663.7L696.9,664.1L698.5,663.2L700.1,663.0L701.8,663.7L703.4,664.0L705.1,662.7L706.7,662.8L708.4,662.8L710.0,661.9L711.6,663.0L713.3,662.5L714.9,661.8L716.6,661.4L718.2,659.6L719.8,659.0L721.5,659.0L723.1,658.3L724.8,657.7L726.4,656.5L728.0,656.2L729.7,655.6L731.3,656.6L733.0,656.0L734.6,657.3L736.3,658.0L737.9,658.9L739.5,659.7L741.2,659.3L742.8,660.0L744.5,661.0L746.1,662.4L747.7,662.9L749.4,663.3L751.0,663.3L752.7,662.9L754.3,664.1L756.0,663.5L757.6,663.4L759.2,664.4L760.9,663.8L762.5,663.3L764.2,663.7L765.8,663.9L767.4,663.2L769.1,663.6L770.7,664.1L772.4,664.0L774.0,663.1L775.6,663.3L777.3,663.2L778.9,663.7L780.6,664.4L782.2,664.3L783.9,664.0L785.5,663.6L787.1,664.6L788.8,663.4L790.4,663.4L792.1,663.8L793.7,664.6L795.3,663.4L797.0,664.0L798.6,663.6L800.3,663.8L801.9,663.5L803.5,664.0L805.2,663.2L806.8,663.2L808.5,663.3L810.1,663.7L811.8,664.2L813.4,664.1L815.0,664.3L815.0,699.9Z" fill="#ff1800"/>
<path d="M210.1,735.5L210.1,697.3L211.8,697.4L213.5,697.4L215.1,697.4L216.8,697.1L218.5,697.6L220.2,698.1L221.9,697.5L223.6,698.2L225.2,697.7L226.9,698.4L228.6,697.3L230.3,697.9L232.0,698.2L233.7,697.2L235.4,698.5L237.0,697.2L238.7,697.5L240.4,698.4L242.1,697.5L243.8,697.7L245.5,697.3L247.1,697.7L248.8,698.0L250.5,697.2L252.2,698.5L253.9,697.4L255.6,698.4L257.3,698.2L258.9,698.4L260.6,697.3L262.3,697.9L264.0,697.5L265.7,698.2L267.4,697.5L269.0,697.6L270.7,698.4L272.4,697.9L274.1,697.5L275.8,698.3L277.5,697.6L279.2,698.2L280.8,698.0L282.5,697.2L284.2,697.2L285.9,697.1L287.6,698.0L289.3,697.7L290.9,697.4L292.6,697.5L294.3,697.9L296.0,697.3L297.7,698.0L299.4,697.2L301.1,697.9L302.7,698.4L304.4,697.5L306.1,698.4L307.8,697.6L309.5,698.5L311.2,697.1L312.8,697.8L314.5,697.5L316.2,698.4L317.9,697.7L319.6,698.0L321.3,698.2L323.0,697.4L324.6,698.5L326.3,697.9L328.0,698.5L329.7,697.3L331.4,697.3L333.1,698.5L334.7,697.9L336.4,697.9L338.1,697.5L339.8,697.5L341.5,698.0L343.2,697.1L344.9,698.1L346.5,698.1L348.2,697.0L349.9,697.8L351.6,697.4L353.3,696.6L355.0,696.6L356.6,696.5L358.3,695.2L360.0,695.7L361.7,695.3L363.4,696.1L365.1,695.4L366.8,696.6L368.4,695.8L370.1,696.5L371.8,696.1L373.5,696.6L375.2,696.9L376.9,697.2L378.6,696.8L380.2,697.5L381.9,698.0L383.6,696.9L385.3,697.1L387.0,697.4L388.7,697.3L390.3,698.1L392.0,697.8L393.7,697.4L395.4,697.2L397.1,697.3L398.8,698.4L400.5,697.7L402.1,697.9L403.8,698.1L405.5,698.5L407.2,698.5L408.9,698.0L410.6,698.0L412.2,698.4L413.9,698.2L415.6,698.0L417.3,697.7L419.0,697.9L420.7,698.6L422.4,697.5L424.0,698.3L425.7,697.4L427.4,697.4L429.1,698.6L430.8,697.9L432.5,697.3L434.1,698.1L435.8,697.6L437.5,697.6L439.2,697.4L440.9,696.2L442.6,694.7L444.3,692.3L445.9,688.9L447.6,685.6L449.3,681.6L451.0,678.8L452.7,677.0L454.4,675.2L456.0,676.2L457.7,678.2L459.4,680.5L461.1,684.1L462.8,687.7L464.5,690.1L466.2,692.7L467.8,693.3L469.5,695.5L471.2,695.2L472.9,697.1L474.6,697.6L476.3,697.1L477.9,697.8L479.6,697.6L481.3,698.3L483.0,697.4L484.7,697.7L486.4,697.8L488.1,697.5L489.7,697.4L491.4,697.9L493.1,697.9L494.8,698.9L496.5,698.9L498.2,698.3L499.8,697.4L501.5,698.4L503.2,697.9L504.9,698.6L506.6,697.8L508.3,696.8L510.0,697.0L511.6,696.4L513.3,697.3L515.0,696.7L516.7,696.4L518.4,695.2L520.1,696.1L521.7,694.7L523.4,695.5L525.1,694.5L526.8,695.0L528.5,695.2L530.2,694.3L531.9,695.1L533.5,694.7L535.2,695.7L536.9,694.7L538.6,694.6L540.3,696.0L542.0,695.2L543.6,696.0L545.3,696.2L547.0,695.9L548.7,695.4L550.4,694.8L552.1,694.6L553.8,694.3L555.4,694.4L557.1,693.8L558.8,693.7L560.5,691.6L562.2,690.4L563.9,688.8L565.5,685.9L567.2,684.7L568.9,682.9L570.6,681.3L572.3,680.6L574.0,680.0L575.7,680.5L577.3,683.0L579.0,684.5L580.7,686.6L582.4,688.7L584.1,690.8L585.8,692.3L587.4,694.4L589.1,695.5L590.8,695.9L592.5,696.9L594.2,696.8L595.9,698.1L597.6,697.6L599.2,698.7L600.9,699.2L602.6,698.7L604.3,699.0L606.0,699.1L607.7,698.5L609.3,699.3L611.0,698.7L612.7,698.4L614.4,699.0L616.1,698.9L617.8,698.3L619.5,698.7L621.1,699.3L622.8,699.4L624.5,699.3L626.2,698.8L627.9,699.1L629.6,698.2L631.2,698.5L632.9,698.6L634.6,698.3L636.3,697.7L638.0,698.8L639.7,699.0L641.4,698.8L643.0,698.9L644.7,698.1L646.4,698.5L648.1,699.0L649.8,699.4L651.5,699.7L653.1,699.6L654.8,698.5L656.5,698.9L658.2,699.6L659.9,698.9L661.6,699.8L663.3,699.1L664.9,699.4L666.6,699.7L668.3,698.8L670.0,698.8L671.7,699.1L673.4,699.6L675.0,698.9L676.7,699.2L678.4,698.9L680.1,699.7L681.8,698.5L683.5,699.8L685.2,699.5L686.8,699.2L688.5,699.4L690.2,699.5L691.9,698.5L693.6,697.9L695.3,698.7L696.9,698.6L698.6,697.8L700.3,698.2L702.0,697.6L703.7,696.9L705.4,697.1L707.1,697.2L708.7,697.2L710.4,696.4L712.1,695.7L713.8,695.8L715.5,697.2L717.2,696.7L718.9,697.0L720.5,697.7L722.2,697.3L723.9,697.8L725.6,697.7L727.3,698.7L729.0,697.9L730.6,698.3L732.3,698.9L734.0,699.6L735.7,699.1L737.4,699.7L739.1,699.0L740.8,699.0L742.4,699.2L744.1,698.6L745.8,700.0L747.5,699.0L749.2,698.9L750.9,699.9L752.5,699.6L754.2,700.0L755.9,699.2L757.6,699.0L759.3,699.6L761.0,699.1L762.7,699.6L764.3,699.1L766.0,699.7L767.7,698.7L769.4,699.5L771.1,700.1L772.8,700.0L774.4,699.1L776.1,698.9L777.8,699.2L779.5,699.9L781.2,698.9L782.9,699.1L784.6,700.0L786.2,699.6L787.9,699.2L789.6,700.2L791.3,700.1L793.0,699.7L794.7,698.9L796.3,698.7L798.0,699.7L799.7,698.9L799.7,735.5Z" fill="#00d418"/>
<path d="M177.9,772.9L177.9,735.0L179.7,734.9L181.4,735.3L183.1,734.7L184.9,735.2L186.6,734.7L188.3,735.3L190.1,735.8L191.8,735.4L193.5,735.4L195.2,735.6L197.0,735.6L198.7,735.4L200.4,735.3L202.2,735.8L203.9,735.7L205.6,735.4L207.4,735.4L209.1,735.5L210.8,735.1L212.5,735.8L214.3,735.3L216.0,735.7L217.7,735.0L219.5,735.1L221.2,735.0L222.9,735.4L224.7,735.7L226.4,734.8L228.1,735.4L229.8,735.6L231.6,735.7L233.3,735.5L235.0,735.1L236.8,734.9L238.5,735.4L240.2,735.0L242.0,735.8L243.7,735.5L245.4,735.6L247.2,735.7L248.9,735.6L250.6,735.0L252.3,735.0L254.1,735.8L255.8,735.8L257.5,735.0L259.3,735.2L261.0,735.1L262.7,735.2L264.5,735.1L266.2,735.7L267.9,736.0L269.6,735.6L271.4,736.1L273.1,734.7L274.8,735.3L276.6,735.1L278.3,734.7L280.0,734.9L281.8,735.8L283.5,735.6L285.2,735.9L286.9,735.0L288.7,735.0L290.4,735.4L292.1,735.6L293.9,735.7L295.6,735.4L297.3,735.1L299.1,734.8L300.8,734.9L302.5,734.9L304.3,735.5L306.0,735.5L307.7,735.6L309.4,734.7L311.2,735.8L312.9,735.8L314.6,735.7L316.4,734.7L318.1,734.8L319.8,735.4L321.6,734.6L323.3,734.5L325.0,735.0L326.7,735.2L328.5,734.2L330.2,734.7L331.9,735.1L333.7,733.9L335.4,734.6L337.1,734.8L338.9,734.6L340.6,735.2L342.3,735.6L344.1,735.1L345.8,735.2L347.5,735.8L349.2,735.3L351.0,734.8L352.7,735.4L354.4,735.0L356.2,735.1L357.9,735.7L359.6,736.0L361.4,735.1L363.1,735.2L364.8,735.7L366.5,735.8L368.3,734.9L370.0,734.8L371.7,735.8L373.5,735.3L375.2,735.4L376.9,735.7L378.7,736.1L380.4,735.7L382.1,735.3L383.8,735.4L385.6,735.5L387.3,736.1L389.0,735.9L390.8,735.8L392.5,735.7L394.2,735.7L396.0,735.0L397.7,736.1L399.4,734.9L401.2,735.9L402.9,735.0L404.6,735.9L406.3,735.4L408.1,735.7L409.8,736.1L411.5,734.9L413.3,734.7L415.0,735.1L416.7,733.8L418.5,733.5L420.2,731.7L421.9,731.9L423.6,730.2L425.4,729.3L427.1,727.9L428.8,727.4L430.6,727.5L432.3,728.6L434.0,729.8L435.8,730.3L437.5,732.4L439.2,733.2L441.0,733.3L442.7,734.3L444.4,733.9L446.1,735.4L447.9,735.1L449.6,735.6L451.3,736.0L453.1,736.0L454.8,736.0L456.5,735.7L458.3,735.6L460.0,735.6L461.7,735.9L463.4,735.3L465.2,735.6L466.9,735.0L468.6,736.1L470.4,735.7L472.1,735.7L473.8,735.9L475.6,735.2L477.3,736.1L479.0,735.1L480.7,735.8L482.5,735.8L484.2,735.4L485.9,735.4L487.7,735.7L489.4,735.9L491.1,734.6L492.9,735.3L494.6,735.6L496.3,734.8L498.1,734.9L499.8,735.2L501.5,735.2L503.2,734.4L505.0,735.1L506.7,735.0L508.4,734.3L510.2,735.1L511.9,735.1L513.6,735.4L515.4,734.7L517.1,734.8L518.8,735.1L520.5,735.2L522.3,735.4L524.0,734.6L525.7,735.0L527.5,734.4L529.2,735.0L530.9,734.4L532.7,735.2L534.4,734.7L536.1,733.3L537.8,733.3L539.6,732.8L541.3,732.3L543.0,731.6L544.8,731.2L546.5,730.5L548.2,729.3L550.0,728.9L551.7,729.6L553.4,729.3L555.2,730.6L556.9,730.7L558.6,732.1L560.3,732.4L562.1,733.4L563.8,733.6L565.5,734.7L567.3,734.7L569.0,734.8L570.7,735.8L572.5,735.8L574.2,735.4L575.9,735.8L577.6,735.8L579.4,735.6L581.1,735.9L582.8,736.5L584.6,736.2L586.3,735.7L588.0,736.0L589.8,735.8L591.5,736.3L593.2,736.2L595.0,735.5L596.7,735.7L598.4,735.9L600.1,736.7L601.9,735.9L603.6,736.7L605.3,735.4L607.1,735.3L608.8,735.7L610.5,736.3L612.3,735.5L614.0,736.4L615.7,735.5L617.4,735.9L619.2,736.7L620.9,735.5L622.6,736.1L624.4,735.6L626.1,735.8L627.8,736.1L629.6,735.6L631.3,736.6L633.0,735.6L634.7,736.4L636.5,736.9L638.2,736.5L639.9,736.9L641.7,736.8L643.4,736.1L645.1,736.8L646.9,736.7L648.6,736.5L650.3,736.6L652.1,735.6L653.8,735.7L655.5,735.7L657.2,735.6L659.0,736.3L660.7,735.8L662.4,736.6L664.2,735.6L665.9,735.8L667.6,735.9L669.4,736.6L671.1,736.8L672.8,735.5L674.5,736.0L676.3,735.9L678.0,735.5L679.7,736.4L681.5,735.5L683.2,735.8L684.9,735.2L686.7,735.6L688.4,735.9L690.1,734.7L691.8,735.7L693.6,735.0L695.3,734.9L697.0,735.8L698.8,735.2L700.5,735.7L702.2,736.0L704.0,736.1L705.7,735.2L707.4,736.1L709.2,736.0L710.9,736.1L712.6,736.8L714.3,735.8L716.1,735.9L717.8,735.7L719.5,736.5L721.3,736.7L723.0,736.6L724.7,736.0L726.5,736.1L728.2,736.5L729.9,736.3L731.6,736.9L733.4,735.8L735.1,736.4L736.8,736.4L738.6,736.0L740.3,736.8L742.0,736.1L743.8,736.6L745.5,735.9L747.2,737.0L749.0,736.7L750.7,736.2L752.4,736.4L754.1,736.6L755.9,736.3L757.6,736.8L759.3,736.5L761.1,737.1L762.8,736.0L764.5,736.8L766.3,735.9L768.0,736.4L769.7,736.3L771.4,736.3L773.2,737.0L774.9,736.0L776.6,736.7L778.4,735.9L780.1,736.0L781.8,736.2L783.6,736.0L783.6,772.9Z" fill="#7af0ff"/>
<path d="M144.0,812.5L144.0,776.2L145.8,775.9L147.6,775.5L149.3,776.5L151.1,776.7L152.9,776.2L154.7,776.1L156.4,776.6L158.2,776.5L160.0,775.6L161.8,776.3L163.6,776.6L165.3,776.5L167.1,776.0L168.9,776.5L170.7,776.1L172.5,776.0L174.2,776.2L176.0,776.1L177.8,775.6L179.6,776.8L181.3,775.5L183.1,776.5L184.9,776.7L186.7,775.7L188.5,776.0L190.2,776.0L192.0,776.5L193.8,775.7L195.6,776.4L197.4,775.8L199.1,776.5L200.9,776.0L202.7,775.9L204.5,776.3L206.2,776.1L208.0,776.7L209.8,775.9L211.6,775.8L213.4,776.6L215.1,776.0L216.9,775.8L218.7,776.7L220.5,775.6L222.3,775.6L224.0,776.7L225.8,776.5L227.6,776.7L229.4,776.4L231.1,776.7L232.9,776.1L234.7,776.4L236.5,776.4L238.3,776.2L240.0,776.3L241.8,775.7L243.6,775.8L245.4,776.6L247.2,776.5L248.9,776.8L250.7,776.3L252.5,776.6L254.3,775.8L256.1,775.7L257.8,775.4L259.6,776.5L261.4,776.7L263.2,775.7L264.9,776.2L266.7,775.5L268.5,776.3L270.3,776.4L272.1,776.7L273.8,775.5L275.6,776.1L277.4,776.2L279.2,776.2L280.9,775.7L282.7,775.6L284.5,776.1L286.3,776.5L288.1,776.2L289.8,775.5L291.6,776.1L293.4,775.7L295.2,775.8L297.0,775.9L298.7,775.7L300.5,776.1L302.3,775.6L304.1,775.2L305.9,776.3L307.6,775.9L309.4,775.3L311.2,775.2L313.0,776.6L314.7,775.7L316.5,775.8L318.3,775.5L320.1,776.0L321.9,776.5L323.6,776.3L325.4,775.7L327.2,775.7L329.0,776.5L330.8,775.9L332.5,775.8L334.3,775.8L336.1,776.7L337.9,776.2L339.6,776.3L341.4,776.0L343.2,776.3L345.0,776.6L346.8,775.9L348.5,776.4L350.3,775.7L352.1,776.4L353.9,776.0L355.6,775.7L357.4,776.6L359.2,775.8L361.0,776.7L362.8,775.5L364.5,776.8L366.3,775.8L368.1,776.3L369.9,776.5L371.7,776.2L373.4,776.1L375.2,776.2L377.0,776.6L378.8,776.1L380.5,776.4L382.3,775.4L384.1,776.2L385.9,776.1L387.7,776.4L389.4,775.2L391.2,776.0L393.0,775.4L394.8,775.0L396.6,775.5L398.3,774.8L400.1,775.4L401.9,775.5L403.7,775.7L405.4,775.2L407.2,774.7L409.0,775.8L410.8,775.7L412.6,775.3L414.3,776.1L416.1,776.4L417.9,775.9L419.7,776.1L421.5,775.4L423.2,775.5L425.0,776.4L426.8,776.0L428.6,776.2L430.3,776.7L432.1,776.2L433.9,775.5L435.7,776.4L437.5,776.0L439.2,775.8L441.0,776.7L442.8,775.5L444.6,776.6L446.4,776.4L448.1,775.8L449.9,776.8L451.7,776.3L453.5,776.6L455.2,776.1L457.0,776.7L458.8,776.5L460.6,776.4L462.4,776.6L464.1,776.6L465.9,776.4L467.7,775.9L469.5,776.4L471.3,775.5L473.0,776.0L474.8,776.2L476.6,776.3L478.4,775.4L480.1,776.5L481.9,775.5L483.7,776.5L485.5,775.3L487.3,776.0L489.0,775.8L490.8,775.4L492.6,776.5L494.4,776.5L496.2,775.7L497.9,775.8L499.7,775.6L501.5,776.3L503.3,776.0L505.0,776.4L506.8,776.0L508.6,776.2L510.4,775.8L512.2,776.1L513.9,776.1L515.7,775.5L517.5,776.2L519.3,775.2L521.1,775.5L522.8,775.8L524.6,775.9L526.4,775.3L528.2,775.3L530.0,775.0L531.7,775.6L533.5,775.7L535.3,775.1L537.1,776.1L538.8,775.2L540.6,775.4L542.4,775.3L544.2,775.4L546.0,776.4L547.7,775.7L549.5,776.0L551.3,776.6L553.1,775.5L554.8,776.0L556.6,775.8L558.4,776.2L560.2,776.9L562.0,775.8L563.7,776.7L565.5,776.6L567.3,776.1L569.1,776.7L570.9,776.4L572.6,776.0L574.4,776.9L576.2,776.1L578.0,776.9L579.8,776.3L581.5,776.1L583.3,776.1L585.1,777.0L586.9,776.7L588.6,775.7L590.4,776.5L592.2,776.4L594.0,776.5L595.8,776.1L597.5,776.0L599.3,776.1L601.1,776.5L602.9,776.2L604.6,776.3L606.4,776.8L608.2,775.7L610.0,775.7L611.8,776.0L613.5,775.7L615.3,776.4L617.1,775.9L618.9,776.7L620.7,776.0L622.4,776.1L624.2,775.7L626.0,775.9L627.8,775.8L629.5,776.7L631.3,776.0L633.1,776.4L634.9,776.6L636.7,776.6L638.4,776.0L640.2,775.9L642.0,775.9L643.8,776.1L645.6,776.8L647.3,776.9L649.1,776.3L650.9,776.8L652.7,776.6L654.5,776.9L656.2,776.9L658.0,776.1L659.8,776.8L661.6,775.9L663.3,776.6L665.1,775.9L666.9,776.7L668.7,776.7L670.5,776.5L672.2,777.1L674.0,776.5L675.8,776.6L677.6,777.1L679.4,775.9L681.1,776.6L682.9,777.1L684.7,775.8L686.5,776.8L688.2,776.8L690.0,777.1L691.8,777.0L693.6,776.1L695.4,776.3L697.1,776.4L698.9,776.8L700.7,776.7L702.5,775.8L704.2,776.6L706.0,775.8L707.8,775.9L709.6,777.0L711.4,776.0L713.1,777.1L714.9,776.2L716.7,776.0L718.5,776.2L720.3,776.4L722.0,776.0L723.8,776.9L725.6,776.4L727.4,776.8L729.1,776.6L730.9,776.9L732.7,776.2L734.5,776.4L736.3,776.1L738.0,776.3L739.8,776.3L741.6,775.9L743.4,776.0L745.2,776.4L746.9,776.7L748.7,775.9L750.5,776.7L752.3,777.0L754.0,776.7L755.8,776.2L757.6,775.9L759.4,776.3L761.2,776.3L762.9,775.9L764.7,776.1L766.5,776.6L766.5,812.5Z" fill="#0a8cf0"/>
<path d="M144.0,500.0V812.5H766.5L960.5,362.5" stroke="#000" stroke-width="3.2" fill="none" stroke-linejoin="miter"/>
<path d="M144.0,812.5v12M188.5,812.5v7M232.9,812.5v12M277.4,812.5v7M321.9,812.5v12M366.3,812.5v7M410.8,812.5v12M455.2,812.5v7M499.7,812.5v12M544.2,812.5v7M588.6,812.5v12M633.1,812.5v7M677.6,812.5v12M722.0,812.5v7M766.5,812.5v12M766.5,812.5h13.0M775.1,792.4h6.9M783.6,772.9h12.6M791.7,753.9h6.7M799.7,735.5h12.3M807.5,717.5h6.5M815.0,699.9h12.0M822.4,682.8h6.4M829.6,666.1h11.7M836.6,649.9h6.2M843.4,634.0h11.4M850.1,618.6h6.1M856.6,603.5h11.1M863.0,588.7h5.9M869.2,574.3h10.9M875.3,560.2h5.8M881.2,546.5h10.6M887.0,533.0h5.7M892.6,519.9h10.4M898.2,507.0h5.5M903.6,494.5h10.2M908.9,482.2h5.4M914.1,470.1h9.9M919.2,458.3h5.3M924.2,446.8h9.7M929.0,435.5h5.2M933.8,424.4h9.5M938.5,413.6h5.1M943.1,403.0h9.4M947.5,392.5h5.0M951.9,382.3h9.2M956.3,372.3h4.9M960.5,362.5h9.0" stroke="#000" stroke-width="3" fill="none"/>
<g font-family="'Liberation Sans',sans-serif" fill="#111" text-anchor="middle" font-size="29">
<text x="144.0" y="859.5">400</text>
<text x="232.9" y="859.5">450</text>
<text x="321.9" y="859.5">500</text>
<text x="410.8" y="859.5">550</text>
<text x="499.7" y="859.5">600</text>
<text x="588.6" y="859.5">650</text>
<text x="677.6" y="859.5">700</text>
<text x="766.5" y="859.5">750</text>
</g>
<g font-family="'Liberation Sans',sans-serif" fill="#111">
<text x="786.0" y="824.0" font-size="29.2">250</text>
<text x="802.5" y="784.2" font-size="28.4">260</text>
<text x="818.2" y="746.4" font-size="27.7">270</text>
<text x="833.0" y="710.6" font-size="26.9">280</text>
<text x="847.1" y="676.6" font-size="26.3">290</text>
<text x="860.6" y="644.3" font-size="25.6">300</text>
<text x="873.3" y="613.5" font-size="25.0">310</text>
<text x="885.5" y="584.1" font-size="24.4">320</text>
<text x="897.1" y="556.1" font-size="23.9">330</text>
<text x="908.2" y="529.3" font-size="23.3">340</text>
<text x="918.9" y="503.7" font-size="22.8">350</text>
<text x="929.0" y="479.2" font-size="22.3">360</text>
<text x="938.8" y="455.7" font-size="21.9">370</text>
<text x="948.1" y="433.1" font-size="21.4">380</text>
<text x="957.1" y="411.5" font-size="21.0">390</text>
<text x="965.7" y="390.7" font-size="20.6">400</text>
<text x="974.0" y="370.8" font-size="20.2">410</text>
</g>
<text x="455.5" y="909" font-family="'Liberation Sans',sans-serif" font-size="41" fill="#111" text-anchor="middle" textLength="317" lengthAdjust="spacingAndGlyphs">Wavelength (nm)</text>
<text transform="translate(114.3,656.5) rotate(-90)" font-family="'Liberation Sans',sans-serif" font-size="41" fill="#111" text-anchor="middle" textLength="323" lengthAdjust="spacingAndGlyphs">FL Intensity (a.u.)</text>
<text transform="matrix(0.2548 -0.7003 1 0 941 637)" font-family="'Liberation Sans',sans-serif" font-size="30" fill="#111">Wavelength (nm)</text>
</g>
<g id="cie">
<rect x="1063" y="161" width="634" height="706" fill="#000"/>
<defs><clipPath id="cieclip"><path d="M1265.7,751.4L1265.7,751.4L1265.6,751.4L1265.5,751.4L1265.4,751.4L1265.3,751.5L1265.2,751.5L1265.1,751.5L1265.0,751.5L1264.8,751.5L1264.6,751.5L1264.4,751.4L1264.1,751.3L1263.7,751.1L1263.2,750.7L1262.6,750.2L1261.8,749.6L1260.9,748.8L1259.8,747.8L1258.5,746.6L1257.0,745.3L1255.1,743.7L1252.9,741.8L1250.4,739.6L1247.5,736.4L1243.7,731.4L1239.3,725.4L1235.4,719.3L1232.3,713.9L1229.6,708.3L1226.6,701.7L1223.2,693.7L1219.5,684.5L1215.5,673.8L1211.2,661.6L1206.5,648.0L1201.8,632.5L1197.1,615.2L1192.4,596.0L1187.7,575.3L1183.1,552.7L1178.5,528.5L1174.4,503.8L1170.8,478.5L1167.6,452.7L1165.2,427.5L1163.5,403.0L1162.5,379.2L1162.6,356.8L1163.6,335.8L1165.6,316.2L1168.6,298.9L1172.8,284.0L1177.9,271.3L1183.8,261.4L1190.4,254.5L1197.6,250.3L1205.2,248.1L1213.1,248.0L1221.2,250.0L1229.4,252.7L1237.6,256.2L1245.9,260.5L1253.9,265.1L1261.8,269.7L1269.5,274.7L1277.1,279.8L1284.6,285.1L1292.0,290.7L1299.3,296.4L1306.7,302.3L1314.0,308.4L1321.3,314.6L1328.5,321.0L1335.8,327.5L1343.0,334.0L1350.2,340.7L1357.4,347.5L1364.6,354.3L1371.8,361.2L1379.1,368.2L1386.3,375.2L1393.5,382.2L1400.7,389.3L1407.9,396.4L1415.0,403.5L1422.2,410.5L1429.3,417.6L1436.4,424.6L1443.4,431.6L1450.4,438.5L1457.2,445.4L1464.1,452.2L1470.8,458.9L1477.4,465.6L1483.9,472.1L1490.3,478.5L1496.6,484.7L1502.8,490.9L1508.8,496.8L1514.6,502.6L1520.2,508.3L1525.6,513.6L1530.7,518.7L1535.5,523.6L1540.2,528.2L1544.7,532.7L1549.0,537.0L1553.0,541.0L1556.8,544.8L1560.3,548.3L1563.7,551.6L1566.8,554.7L1569.7,557.6L1572.3,560.3L1574.8,562.8L1577.1,565.1L1579.2,567.2L1581.2,569.2L1583.1,571.0L1584.8,572.7L1586.3,574.2L1587.8,575.7L1589.2,577.1L1590.5,578.4L1591.7,579.6L1592.9,580.8L1594.0,581.9L1595.0,582.9L1595.9,583.8L1596.8,584.7L1597.6,585.5L1598.3,586.2L1599.0,586.8L1599.5,587.4L1600.2,588.0L1600.9,588.8L1601.7,589.6L1602.6,590.5L1603.6,591.5L1604.7,592.6L1605.4,593.3Z"/></clipPath><filter id="cieblur" x="-5%" y="-5%" width="110%" height="110%"><feGaussianBlur stdDeviation="5.5"/></filter></defs>
<path d="M1160.2,207.9V784.4M1220.8,207.9V784.4M1281.4,207.9V784.4M1342.0,207.9V784.4M1402.6,207.9V784.4M1463.2,207.9V784.4M1523.8,207.9V784.4M1584.4,207.9V784.4M1645.0,207.9V784.4M1129.4,754.4H1644.7M1129.4,693.7H1644.7M1129.4,633.0H1644.7M1129.4,572.2H1644.7M1129.4,511.5H1644.7M1129.4,450.8H1644.7M1129.4,390.1H1644.7M1129.4,329.4H1644.7M1129.4,268.6H1644.7M1129.4,207.9H1644.7M1129.4,207.9H1644.7V784.4H1129.4Z" stroke="#ececec" stroke-width="1.9" fill="none"/>
<style>#ciec rect{width:11px;height:11px}</style><g clip-path="url(#cieclip)"><g id="ciec" filter="url(#cieblur)">
<rect x="1143" y="228" style="width:483px;height:543px" fill="#20c020"/>
<rect x="1183" y="228" fill="#00c807"/>
<rect x="1193" y="228" fill="#00c806"/>
<rect x="1203" y="228" fill="#00c805"/>
<rect x="1223" y="228" fill="#00c802"/>
<rect x="1173" y="238" fill="#00c709"/>
<rect x="1183" y="238" fill="#00c708"/>
<rect x="1193" y="238" fill="#00c807"/>
<rect x="1203" y="238" fill="#00c805"/>
<rect x="1213" y="238" fill="#00c804"/>
<rect x="1223" y="238" fill="#00c802"/>
<rect x="1233" y="238" fill="#00c801"/>
<rect x="1243" y="238" fill="#03c900"/>
<rect x="1253" y="238" fill="#0aca00"/>
<rect x="1163" y="248" fill="#00c70b"/>
<rect x="1173" y="248" fill="#00c70a"/>
<rect x="1183" y="248" fill="#00c709"/>
<rect x="1193" y="248" fill="#00c807"/>
<rect x="1203" y="248" fill="#00c806"/>
<rect x="1213" y="248" fill="#00c804"/>
<rect x="1223" y="248" fill="#00c803"/>
<rect x="1233" y="248" fill="#00c801"/>
<rect x="1243" y="248" fill="#01c800"/>
<rect x="1253" y="248" fill="#08ca00"/>
<rect x="1263" y="248" fill="#0fcb00"/>
<rect x="1163" y="258" fill="#00c70c"/>
<rect x="1173" y="258" fill="#00c70b"/>
<rect x="1183" y="258" fill="#00c709"/>
<rect x="1193" y="258" fill="#00c708"/>
<rect x="1203" y="258" fill="#00c807"/>
<rect x="1213" y="258" fill="#00c805"/>
<rect x="1223" y="258" fill="#00c804"/>
<rect x="1233" y="258" fill="#00c802"/>
<rect x="1243" y="258" fill="#00c800"/>
<rect x="1253" y="258" fill="#06c900"/>
<rect x="1263" y="258" fill="#0dcb00"/>
<rect x="1273" y="258" fill="#14cc00"/>
<rect x="1283" y="258" fill="#1cce00"/>
<rect x="1153" y="268" fill="#00c70e"/>
<rect x="1163" y="268" fill="#00c70d"/>
<rect x="1173" y="268" fill="#00c70c"/>
<rect x="1183" y="268" fill="#00c70a"/>
<rect x="1193" y="268" fill="#00c709"/>
<rect x="1203" y="268" fill="#00c807"/>
<rect x="1213" y="268" fill="#00c806"/>
<rect x="1223" y="268" fill="#00c804"/>
<rect x="1233" y="268" fill="#00c803"/>
<rect x="1243" y="268" fill="#00c801"/>
<rect x="1253" y="268" fill="#03c900"/>
<rect x="1263" y="268" fill="#0aca00"/>
<rect x="1273" y="268" fill="#12cc00"/>
<rect x="1283" y="268" fill="#1acd00"/>
<rect x="1293" y="268" fill="#22cf00"/>
<rect x="1153" y="278" fill="#00c70f"/>
<rect x="1163" y="278" fill="#00c70e"/>
<rect x="1173" y="278" fill="#00c70d"/>
<rect x="1183" y="278" fill="#00c70b"/>
<rect x="1193" y="278" fill="#00c70a"/>
<rect x="1203" y="278" fill="#00c708"/>
<rect x="1213" y="278" fill="#00c807"/>
<rect x="1223" y="278" fill="#00c805"/>
<rect x="1233" y="278" fill="#00c803"/>
<rect x="1243" y="278" fill="#00c802"/>
<rect x="1253" y="278" fill="#00c800"/>
<rect x="1263" y="278" fill="#08ca00"/>
<rect x="1273" y="278" fill="#10cb00"/>
<rect x="1283" y="278" fill="#18cd00"/>
<rect x="1293" y="278" fill="#20ce00"/>
<rect x="1303" y="278" fill="#28d000"/>
<rect x="1313" y="278" fill="#30d200"/>
<rect x="1153" y="288" fill="#00c710"/>
<rect x="1163" y="288" fill="#00c70f"/>
<rect x="1173" y="288" fill="#00c70e"/>
<rect x="1183" y="288" fill="#00c70c"/>
<rect x="1193" y="288" fill="#00c70b"/>
<rect x="1203" y="288" fill="#00c709"/>
<rect x="1213" y="288" fill="#00c807"/>
<rect x="1223" y="288" fill="#00c806"/>
<rect x="1233" y="288" fill="#00c804"/>
<rect x="1243" y="288" fill="#00c802"/>
<rect x="1253" y="288" fill="#00c801"/>
<rect x="1263" y="288" fill="#05c900"/>
<rect x="1273" y="288" fill="#0dcb00"/>
<rect x="1283" y="288" fill="#16cc00"/>
<rect x="1293" y="288" fill="#1ece00"/>
<rect x="1303" y="288" fill="#26d000"/>
<rect x="1313" y="288" fill="#2fd100"/>
<rect x="1323" y="288" fill="#38d300"/>
<rect x="1153" y="298" fill="#00c711"/>
<rect x="1163" y="298" fill="#00c710"/>
<rect x="1173" y="298" fill="#00c70e"/>
<rect x="1183" y="298" fill="#00c70d"/>
<rect x="1193" y="298" fill="#00c70b"/>
<rect x="1203" y="298" fill="#00c70a"/>
<rect x="1213" y="298" fill="#00c708"/>
<rect x="1223" y="298" fill="#00c807"/>
<rect x="1233" y="298" fill="#00c805"/>
<rect x="1243" y="298" fill="#00c803"/>
<rect x="1253" y="298" fill="#00c801"/>
<rect x="1263" y="298" fill="#03c900"/>
<rect x="1273" y="298" fill="#0bca00"/>
<rect x="1283" y="298" fill="#13cc00"/>
<rect x="1293" y="298" fill="#1cce00"/>
<rect x="1303" y="298" fill="#25cf00"/>
<rect x="1313" y="298" fill="#2dd100"/>
<rect x="1323" y="298" fill="#36d300"/>
<rect x="1333" y="298" fill="#40d500"/>
<rect x="1153" y="308" fill="#00c712"/>
<rect x="1163" y="308" fill="#00c711"/>
<rect x="1173" y="308" fill="#00c70f"/>
<rect x="1183" y="308" fill="#00c70e"/>
<rect x="1193" y="308" fill="#00c70c"/>
<rect x="1203" y="308" fill="#00c70b"/>
<rect x="1213" y="308" fill="#00c709"/>
<rect x="1223" y="308" fill="#00c807"/>
<rect x="1233" y="308" fill="#00c806"/>
<rect x="1243" y="308" fill="#00c804"/>
<rect x="1253" y="308" fill="#00c802"/>
<rect x="1263" y="308" fill="#00c800"/>
<rect x="1273" y="308" fill="#08ca00"/>
<rect x="1283" y="308" fill="#11cb00"/>
<rect x="1293" y="308" fill="#1acd00"/>
<rect x="1303" y="308" fill="#23cf00"/>
<rect x="1313" y="308" fill="#2cd100"/>
<rect x="1323" y="308" fill="#35d300"/>
<rect x="1333" y="308" fill="#3fd400"/>
<rect x="1343" y="308" fill="#4cd600"/>
<rect x="1143" y="318" fill="#00c715"/>
<rect x="1153" y="318" fill="#00c713"/>
<rect x="1163" y="318" fill="#00c712"/>
<rect x="1173" y="318" fill="#00c711"/>
<rect x="1183" y="318" fill="#00c70f"/>
<rect x="1193" y="318" fill="#00c70d"/>
<rect x="1203" y="318" fill="#00c70c"/>
<rect x="1213" y="318" fill="#00c70a"/>
<rect x="1223" y="318" fill="#00c708"/>
<rect x="1233" y="318" fill="#00c807"/>
<rect x="1243" y="318" fill="#00c805"/>
<rect x="1253" y="318" fill="#00c803"/>
<rect x="1263" y="318" fill="#00c801"/>
<rect x="1273" y="318" fill="#05c900"/>
<rect x="1283" y="318" fill="#0ecb00"/>
<rect x="1293" y="318" fill="#17cd00"/>
<rect x="1303" y="318" fill="#21cf00"/>
<rect x="1313" y="318" fill="#2ad000"/>
<rect x="1323" y="318" fill="#34d200"/>
<rect x="1333" y="318" fill="#3ed400"/>
<rect x="1343" y="318" fill="#4bd600"/>
<rect x="1353" y="318" fill="#58d800"/>
<rect x="1143" y="328" fill="#00c716"/>
<rect x="1153" y="328" fill="#00c715"/>
<rect x="1163" y="328" fill="#00c713"/>
<rect x="1173" y="328" fill="#00c712"/>
<rect x="1183" y="328" fill="#00c710"/>
<rect x="1193" y="328" fill="#00c70f"/>
<rect x="1203" y="328" fill="#00c70d"/>
<rect x="1213" y="328" fill="#00c70b"/>
<rect x="1223" y="328" fill="#00c709"/>
<rect x="1233" y="328" fill="#00c708"/>
<rect x="1243" y="328" fill="#00c806"/>
<rect x="1253" y="328" fill="#00c804"/>
<rect x="1263" y="328" fill="#00c802"/>
<rect x="1273" y="328" fill="#02c800"/>
<rect x="1283" y="328" fill="#0bca00"/>
<rect x="1293" y="328" fill="#15cc00"/>
<rect x="1303" y="328" fill="#1fce00"/>
<rect x="1313" y="328" fill="#29d000"/>
<rect x="1323" y="328" fill="#33d200"/>
<rect x="1333" y="328" fill="#3dd400"/>
<rect x="1343" y="328" fill="#4ad600"/>
<rect x="1353" y="328" fill="#58d800"/>
<rect x="1363" y="328" fill="#65da00"/>
<rect x="1143" y="338" fill="#00c617"/>
<rect x="1153" y="338" fill="#00c716"/>
<rect x="1163" y="338" fill="#00c714"/>
<rect x="1173" y="338" fill="#00c713"/>
<rect x="1183" y="338" fill="#00c711"/>
<rect x="1193" y="338" fill="#00c710"/>
<rect x="1203" y="338" fill="#00c70e"/>
<rect x="1213" y="338" fill="#00c70c"/>
<rect x="1223" y="338" fill="#00c70a"/>
<rect x="1233" y="338" fill="#00c709"/>
<rect x="1243" y="338" fill="#00c807"/>
<rect x="1253" y="338" fill="#00c805"/>
<rect x="1263" y="338" fill="#00c802"/>
<rect x="1273" y="338" fill="#00c800"/>
<rect x="1283" y="338" fill="#08ca00"/>
<rect x="1293" y="338" fill="#12cc00"/>
<rect x="1303" y="338" fill="#1cce00"/>
<rect x="1313" y="338" fill="#27d000"/>
<rect x="1323" y="338" fill="#31d200"/>
<rect x="1333" y="338" fill="#3cd400"/>
<rect x="1343" y="338" fill="#49d600"/>
<rect x="1353" y="338" fill="#57d800"/>
<rect x="1363" y="338" fill="#66da00"/>
<rect x="1373" y="338" fill="#74dc00"/>
<rect x="1143" y="348" fill="#00c618"/>
<rect x="1153" y="348" fill="#00c617"/>
<rect x="1163" y="348" fill="#00c716"/>
<rect x="1173" y="348" fill="#00c714"/>
<rect x="1183" y="348" fill="#00c713"/>
<rect x="1193" y="348" fill="#00c711"/>
<rect x="1203" y="348" fill="#00c70f"/>
<rect x="1213" y="348" fill="#00c70d"/>
<rect x="1223" y="348" fill="#00c70c"/>
<rect x="1233" y="348" fill="#00c70a"/>
<rect x="1243" y="348" fill="#00c708"/>
<rect x="1253" y="348" fill="#00c806"/>
<rect x="1263" y="348" fill="#00c803"/>
<rect x="1273" y="348" fill="#00c801"/>
<rect x="1283" y="348" fill="#05c900"/>
<rect x="1293" y="348" fill="#0fcb00"/>
<rect x="1303" y="348" fill="#1acd00"/>
<rect x="1313" y="348" fill="#24cf00"/>
<rect x="1323" y="348" fill="#2fd100"/>
<rect x="1333" y="348" fill="#3ad400"/>
<rect x="1343" y="348" fill="#48d600"/>
<rect x="1353" y="348" fill="#57d800"/>
<rect x="1363" y="348" fill="#66da00"/>
<rect x="1373" y="348" fill="#75dc00"/>
<rect x="1383" y="348" fill="#83de00"/>
<rect x="1143" y="358" fill="#00c61a"/>
<rect x="1153" y="358" fill="#00c618"/>
<rect x="1163" y="358" fill="#00c617"/>
<rect x="1173" y="358" fill="#00c715"/>
<rect x="1183" y="358" fill="#00c714"/>
<rect x="1193" y="358" fill="#00c712"/>
<rect x="1203" y="358" fill="#00c710"/>
<rect x="1213" y="358" fill="#00c70f"/>
<rect x="1223" y="358" fill="#00c70d"/>
<rect x="1233" y="358" fill="#00c70b"/>
<rect x="1243" y="358" fill="#00c709"/>
<rect x="1253" y="358" fill="#00c807"/>
<rect x="1263" y="358" fill="#00c804"/>
<rect x="1273" y="358" fill="#00c802"/>
<rect x="1283" y="358" fill="#02c800"/>
<rect x="1293" y="358" fill="#0cca00"/>
<rect x="1303" y="358" fill="#17cd00"/>
<rect x="1313" y="358" fill="#22cf00"/>
<rect x="1323" y="358" fill="#2ed100"/>
<rect x="1333" y="358" fill="#39d300"/>
<rect x="1343" y="358" fill="#47d600"/>
<rect x="1353" y="358" fill="#57d800"/>
<rect x="1363" y="358" fill="#66da00"/>
<rect x="1373" y="358" fill="#76dc00"/>
<rect x="1383" y="358" fill="#85df00"/>
<rect x="1393" y="358" fill="#94e100"/>
<rect x="1143" y="368" fill="#00c61b"/>
<rect x="1153" y="368" fill="#00c61a"/>
<rect x="1163" y="368" fill="#00c618"/>
<rect x="1173" y="368" fill="#00c617"/>
<rect x="1183" y="368" fill="#00c715"/>
<rect x="1193" y="368" fill="#00c714"/>
<rect x="1203" y="368" fill="#00c712"/>
<rect x="1213" y="368" fill="#00c710"/>
<rect x="1223" y="368" fill="#00c70e"/>
<rect x="1233" y="368" fill="#00c70c"/>
<rect x="1243" y="368" fill="#00c70a"/>
<rect x="1253" y="368" fill="#00c708"/>
<rect x="1263" y="368" fill="#00c805"/>
<rect x="1273" y="368" fill="#00c803"/>
<rect x="1283" y="368" fill="#00c801"/>
<rect x="1293" y="368" fill="#09ca00"/>
<rect x="1303" y="368" fill="#14cc00"/>
<rect x="1313" y="368" fill="#20ce00"/>
<rect x="1323" y="368" fill="#2cd100"/>
<rect x="1333" y="368" fill="#38d300"/>
<rect x="1343" y="368" fill="#46d500"/>
<rect x="1353" y="368" fill="#57d800"/>
<rect x="1363" y="368" fill="#67da00"/>
<rect x="1373" y="368" fill="#77dd00"/>
<rect x="1383" y="368" fill="#87df00"/>
<rect x="1393" y="368" fill="#97e100"/>
<rect x="1403" y="368" fill="#a6e500"/>
<rect x="1143" y="378" fill="#00c61d"/>
<rect x="1153" y="378" fill="#00c61b"/>
<rect x="1163" y="378" fill="#00c61a"/>
<rect x="1173" y="378" fill="#00c618"/>
<rect x="1183" y="378" fill="#00c617"/>
<rect x="1193" y="378" fill="#00c715"/>
<rect x="1203" y="378" fill="#00c713"/>
<rect x="1213" y="378" fill="#00c711"/>
<rect x="1223" y="378" fill="#00c70f"/>
<rect x="1233" y="378" fill="#00c70d"/>
<rect x="1243" y="378" fill="#00c70b"/>
<rect x="1253" y="378" fill="#00c709"/>
<rect x="1263" y="378" fill="#00c807"/>
<rect x="1273" y="378" fill="#00c804"/>
<rect x="1283" y="378" fill="#00c802"/>
<rect x="1293" y="378" fill="#05c900"/>
<rect x="1303" y="378" fill="#11cb00"/>
<rect x="1313" y="378" fill="#1dce00"/>
<rect x="1323" y="378" fill="#29d000"/>
<rect x="1333" y="378" fill="#36d300"/>
<rect x="1343" y="378" fill="#45d500"/>
<rect x="1353" y="378" fill="#56d800"/>
<rect x="1363" y="378" fill="#67da00"/>
<rect x="1373" y="378" fill="#78dd00"/>
<rect x="1383" y="378" fill="#89df00"/>
<rect x="1393" y="378" fill="#9ae200"/>
<rect x="1403" y="378" fill="#a9e500"/>
<rect x="1413" y="378" fill="#b9e900"/>
<rect x="1143" y="388" fill="#00c61e"/>
<rect x="1153" y="388" fill="#00c61d"/>
<rect x="1163" y="388" fill="#00c61b"/>
<rect x="1173" y="388" fill="#00c61a"/>
<rect x="1183" y="388" fill="#00c618"/>
<rect x="1193" y="388" fill="#00c617"/>
<rect x="1203" y="388" fill="#00c715"/>
<rect x="1213" y="388" fill="#00c713"/>
<rect x="1223" y="388" fill="#00c711"/>
<rect x="1233" y="388" fill="#00c70f"/>
<rect x="1243" y="388" fill="#00c70d"/>
<rect x="1253" y="388" fill="#00c70a"/>
<rect x="1263" y="388" fill="#00c708"/>
<rect x="1273" y="388" fill="#00c805"/>
<rect x="1283" y="388" fill="#00c803"/>
<rect x="1293" y="388" fill="#01c800"/>
<rect x="1303" y="388" fill="#0dcb00"/>
<rect x="1313" y="388" fill="#1acd00"/>
<rect x="1323" y="388" fill="#27d000"/>
<rect x="1333" y="388" fill="#34d200"/>
<rect x="1343" y="388" fill="#44d500"/>
<rect x="1353" y="388" fill="#56d800"/>
<rect x="1363" y="388" fill="#68da00"/>
<rect x="1373" y="388" fill="#7add00"/>
<rect x="1383" y="388" fill="#8bdf00"/>
<rect x="1393" y="388" fill="#9de300"/>
<rect x="1403" y="388" fill="#ade600"/>
<rect x="1413" y="388" fill="#bdea00"/>
<rect x="1423" y="388" fill="#cdee00"/>
<rect x="1143" y="398" fill="#00c623"/>
<rect x="1153" y="398" fill="#00c61f"/>
<rect x="1163" y="398" fill="#00c61d"/>
<rect x="1173" y="398" fill="#00c61c"/>
<rect x="1183" y="398" fill="#00c61a"/>
<rect x="1193" y="398" fill="#00c618"/>
<rect x="1203" y="398" fill="#00c716"/>
<rect x="1213" y="398" fill="#00c715"/>
<rect x="1223" y="398" fill="#00c713"/>
<rect x="1233" y="398" fill="#00c710"/>
<rect x="1243" y="398" fill="#00c70e"/>
<rect x="1253" y="398" fill="#00c70c"/>
<rect x="1263" y="398" fill="#00c709"/>
<rect x="1273" y="398" fill="#00c807"/>
<rect x="1283" y="398" fill="#00c804"/>
<rect x="1293" y="398" fill="#00c801"/>
<rect x="1303" y="398" fill="#09ca00"/>
<rect x="1313" y="398" fill="#17cd00"/>
<rect x="1323" y="398" fill="#24cf00"/>
<rect x="1333" y="398" fill="#32d200"/>
<rect x="1343" y="398" fill="#42d500"/>
<rect x="1353" y="398" fill="#55d800"/>
<rect x="1363" y="398" fill="#68da00"/>
<rect x="1373" y="398" fill="#7bdd00"/>
<rect x="1383" y="398" fill="#8ee000"/>
<rect x="1393" y="398" fill="#a0e300"/>
<rect x="1403" y="398" fill="#b2e700"/>
<rect x="1413" y="398" fill="#c2eb00"/>
<rect x="1423" y="398" fill="#d3ef00"/>
<rect x="1433" y="398" fill="#def100"/>
<rect x="1143" y="408" fill="#00c627"/>
<rect x="1153" y="408" fill="#00c624"/>
<rect x="1163" y="408" fill="#00c620"/>
<rect x="1173" y="408" fill="#00c61d"/>
<rect x="1183" y="408" fill="#00c61c"/>
<rect x="1193" y="408" fill="#00c61a"/>
<rect x="1203" y="408" fill="#00c618"/>
<rect x="1213" y="408" fill="#00c716"/>
<rect x="1223" y="408" fill="#00c714"/>
<rect x="1233" y="408" fill="#00c712"/>
<rect x="1243" y="408" fill="#00c710"/>
<rect x="1253" y="408" fill="#00c70d"/>
<rect x="1263" y="408" fill="#00c70b"/>
<rect x="1273" y="408" fill="#00c708"/>
<rect x="1283" y="408" fill="#00c805"/>
<rect x="1293" y="408" fill="#00c802"/>
<rect x="1303" y="408" fill="#05c900"/>
<rect x="1313" y="408" fill="#13cc00"/>
<rect x="1323" y="408" fill="#21cf00"/>
<rect x="1333" y="408" fill="#30d200"/>
<rect x="1343" y="408" fill="#41d500"/>
<rect x="1353" y="408" fill="#55d800"/>
<rect x="1363" y="408" fill="#69da00"/>
<rect x="1373" y="408" fill="#7ddd00"/>
<rect x="1383" y="408" fill="#91e000"/>
<rect x="1393" y="408" fill="#a4e400"/>
<rect x="1403" y="408" fill="#b6e800"/>
<rect x="1413" y="408" fill="#c8ed00"/>
<rect x="1423" y="408" fill="#d8f000"/>
<rect x="1433" y="408" fill="#e3f200"/>
<rect x="1443" y="408" fill="#edf300"/>
<rect x="1153" y="418" fill="#00c528"/>
<rect x="1163" y="418" fill="#00c625"/>
<rect x="1173" y="418" fill="#00c621"/>
<rect x="1183" y="418" fill="#00c61e"/>
<rect x="1193" y="418" fill="#00c61c"/>
<rect x="1203" y="418" fill="#00c61a"/>
<rect x="1213" y="418" fill="#00c618"/>
<rect x="1223" y="418" fill="#00c716"/>
<rect x="1233" y="418" fill="#00c714"/>
<rect x="1243" y="418" fill="#00c712"/>
<rect x="1253" y="418" fill="#00c70f"/>
<rect x="1263" y="418" fill="#00c70c"/>
<rect x="1273" y="418" fill="#00c70a"/>
<rect x="1283" y="418" fill="#00c807"/>
<rect x="1293" y="418" fill="#00c803"/>
<rect x="1303" y="418" fill="#00c800"/>
<rect x="1313" y="418" fill="#0ecb00"/>
<rect x="1323" y="418" fill="#1ece00"/>
<rect x="1333" y="418" fill="#2ed100"/>
<rect x="1343" y="418" fill="#3fd400"/>
<rect x="1353" y="418" fill="#54d700"/>
<rect x="1363" y="418" fill="#6adb00"/>
<rect x="1373" y="418" fill="#7fde00"/>
<rect x="1383" y="418" fill="#95e100"/>
<rect x="1393" y="418" fill="#a9e500"/>
<rect x="1403" y="418" fill="#bcea00"/>
<rect x="1413" y="418" fill="#cfee00"/>
<rect x="1423" y="418" fill="#ddf100"/>
<rect x="1433" y="418" fill="#e8f200"/>
<rect x="1443" y="418" fill="#f3f400"/>
<rect x="1453" y="418" fill="#faf300"/>
<rect x="1153" y="428" fill="#00c52d"/>
<rect x="1163" y="428" fill="#00c52a"/>
<rect x="1173" y="428" fill="#00c626"/>
<rect x="1183" y="428" fill="#00c622"/>
<rect x="1193" y="428" fill="#00c61e"/>
<rect x="1203" y="428" fill="#00c61c"/>
<rect x="1213" y="428" fill="#00c61a"/>
<rect x="1223" y="428" fill="#00c618"/>
<rect x="1233" y="428" fill="#00c716"/>
<rect x="1243" y="428" fill="#00c713"/>
<rect x="1253" y="428" fill="#00c711"/>
<rect x="1263" y="428" fill="#00c70e"/>
<rect x="1273" y="428" fill="#00c70b"/>
<rect x="1283" y="428" fill="#00c708"/>
<rect x="1293" y="428" fill="#00c805"/>
<rect x="1303" y="428" fill="#00c801"/>
<rect x="1313" y="428" fill="#0aca00"/>
<rect x="1323" y="428" fill="#1acd00"/>
<rect x="1333" y="428" fill="#2bd100"/>
<rect x="1343" y="428" fill="#3cd400"/>
<rect x="1353" y="428" fill="#53d700"/>
<rect x="1363" y="428" fill="#6bdb00"/>
<rect x="1373" y="428" fill="#82de00"/>
<rect x="1383" y="428" fill="#98e200"/>
<rect x="1393" y="428" fill="#aee600"/>
<rect x="1403" y="428" fill="#c2eb00"/>
<rect x="1413" y="428" fill="#d6f000"/>
<rect x="1423" y="428" fill="#e2f200"/>
<rect x="1433" y="428" fill="#eef300"/>
<rect x="1443" y="428" fill="#f9f500"/>
<rect x="1453" y="428" fill="#fcef00"/>
<rect x="1463" y="428" fill="#fde800"/>
<rect x="1153" y="438" fill="#00c533"/>
<rect x="1163" y="438" fill="#00c52f"/>
<rect x="1173" y="438" fill="#00c52b"/>
<rect x="1183" y="438" fill="#00c627"/>
<rect x="1193" y="438" fill="#00c623"/>
<rect x="1203" y="438" fill="#00c61e"/>
<rect x="1213" y="438" fill="#00c61c"/>
<rect x="1223" y="438" fill="#00c61a"/>
<rect x="1233" y="438" fill="#00c618"/>
<rect x="1243" y="438" fill="#00c716"/>
<rect x="1253" y="438" fill="#00c713"/>
<rect x="1263" y="438" fill="#00c710"/>
<rect x="1273" y="438" fill="#00c70d"/>
<rect x="1283" y="438" fill="#00c70a"/>
<rect x="1293" y="438" fill="#00c807"/>
<rect x="1303" y="438" fill="#00c803"/>
<rect x="1313" y="438" fill="#04c900"/>
<rect x="1323" y="438" fill="#16cc00"/>
<rect x="1333" y="438" fill="#28d000"/>
<rect x="1343" y="438" fill="#3ad400"/>
<rect x="1353" y="438" fill="#53d700"/>
<rect x="1363" y="438" fill="#6cdb00"/>
<rect x="1373" y="438" fill="#84de00"/>
<rect x="1383" y="438" fill="#9de300"/>
<rect x="1393" y="438" fill="#b3e800"/>
<rect x="1403" y="438" fill="#c9ed00"/>
<rect x="1413" y="438" fill="#dcf100"/>
<rect x="1423" y="438" fill="#e8f200"/>
<rect x="1433" y="438" fill="#f4f400"/>
<rect x="1443" y="438" fill="#fbf100"/>
<rect x="1453" y="438" fill="#fdea00"/>
<rect x="1463" y="438" fill="#ffe300"/>
<rect x="1473" y="438" fill="#ffd900"/>
<rect x="1153" y="448" fill="#00c538"/>
<rect x="1163" y="448" fill="#00c535"/>
<rect x="1173" y="448" fill="#00c531"/>
<rect x="1183" y="448" fill="#00c52d"/>
<rect x="1193" y="448" fill="#00c529"/>
<rect x="1203" y="448" fill="#00c624"/>
<rect x="1213" y="448" fill="#00c61f"/>
<rect x="1223" y="448" fill="#00c61c"/>
<rect x="1233" y="448" fill="#00c61a"/>
<rect x="1243" y="448" fill="#00c618"/>
<rect x="1253" y="448" fill="#00c715"/>
<rect x="1263" y="448" fill="#00c712"/>
<rect x="1273" y="448" fill="#00c70f"/>
<rect x="1283" y="448" fill="#00c70c"/>
<rect x="1293" y="448" fill="#00c708"/>
<rect x="1303" y="448" fill="#00c805"/>
<rect x="1313" y="448" fill="#00c800"/>
<rect x="1323" y="448" fill="#10cb00"/>
<rect x="1333" y="448" fill="#24cf00"/>
<rect x="1343" y="448" fill="#38d300"/>
<rect x="1353" y="448" fill="#52d700"/>
<rect x="1363" y="448" fill="#6ddb00"/>
<rect x="1373" y="448" fill="#88df00"/>
<rect x="1383" y="448" fill="#a1e400"/>
<rect x="1393" y="448" fill="#bae900"/>
<rect x="1403" y="448" fill="#d1ef00"/>
<rect x="1413" y="448" fill="#e2f200"/>
<rect x="1423" y="448" fill="#eff300"/>
<rect x="1433" y="448" fill="#faf400"/>
<rect x="1443" y="448" fill="#fcec00"/>
<rect x="1453" y="448" fill="#fee400"/>
<rect x="1463" y="448" fill="#ffda00"/>
<rect x="1473" y="448" fill="#ffcf00"/>
<rect x="1483" y="448" fill="#ffc500"/>
<rect x="1153" y="458" fill="#00c43e"/>
<rect x="1163" y="458" fill="#00c53b"/>
<rect x="1173" y="458" fill="#00c537"/>
<rect x="1183" y="458" fill="#00c533"/>
<rect x="1193" y="458" fill="#00c52f"/>
<rect x="1203" y="458" fill="#00c52b"/>
<rect x="1213" y="458" fill="#00c626"/>
<rect x="1223" y="458" fill="#00c621"/>
<rect x="1233" y="458" fill="#00c61d"/>
<rect x="1243" y="458" fill="#00c61a"/>
<rect x="1253" y="458" fill="#00c618"/>
<rect x="1263" y="458" fill="#00c715"/>
<rect x="1273" y="458" fill="#00c712"/>
<rect x="1283" y="458" fill="#00c70e"/>
<rect x="1293" y="458" fill="#00c70b"/>
<rect x="1303" y="458" fill="#00c807"/>
<rect x="1313" y="458" fill="#00c802"/>
<rect x="1323" y="458" fill="#0bca00"/>
<rect x="1333" y="458" fill="#20ce00"/>
<rect x="1343" y="458" fill="#35d300"/>
<rect x="1353" y="458" fill="#51d700"/>
<rect x="1363" y="458" fill="#6edb00"/>
<rect x="1373" y="458" fill="#8bdf00"/>
<rect x="1383" y="458" fill="#a7e500"/>
<rect x="1393" y="458" fill="#c2eb00"/>
<rect x="1403" y="458" fill="#d9f000"/>
<rect x="1413" y="458" fill="#e9f300"/>
<rect x="1423" y="458" fill="#f7f500"/>
<rect x="1433" y="458" fill="#fcee00"/>
<rect x="1443" y="458" fill="#fee600"/>
<rect x="1453" y="458" fill="#ffdc00"/>
<rect x="1463" y="458" fill="#ffcf00"/>
<rect x="1473" y="458" fill="#ffc400"/>
<rect x="1483" y="458" fill="#ffba00"/>
<rect x="1493" y="458" fill="#ffb000"/>
<rect x="1153" y="468" fill="#00c444"/>
<rect x="1163" y="468" fill="#00c441"/>
<rect x="1173" y="468" fill="#00c43d"/>
<rect x="1183" y="468" fill="#00c53a"/>
<rect x="1193" y="468" fill="#00c536"/>
<rect x="1203" y="468" fill="#00c532"/>
<rect x="1213" y="468" fill="#00c52d"/>
<rect x="1223" y="468" fill="#00c628"/>
<rect x="1233" y="468" fill="#00c622"/>
<rect x="1243" y="468" fill="#00c61d"/>
<rect x="1253" y="468" fill="#00c61b"/>
<rect x="1263" y="468" fill="#00c618"/>
<rect x="1273" y="468" fill="#00c714"/>
<rect x="1283" y="468" fill="#00c711"/>
<rect x="1293" y="468" fill="#00c70d"/>
<rect x="1303" y="468" fill="#00c709"/>
<rect x="1313" y="468" fill="#00c804"/>
<rect x="1323" y="468" fill="#03c900"/>
<rect x="1333" y="468" fill="#1acd00"/>
<rect x="1343" y="468" fill="#32d200"/>
<rect x="1353" y="468" fill="#4fd700"/>
<rect x="1363" y="468" fill="#70db00"/>
<rect x="1373" y="468" fill="#90e000"/>
<rect x="1383" y="468" fill="#aee700"/>
<rect x="1393" y="468" fill="#cbed00"/>
<rect x="1403" y="468" fill="#e0f100"/>
<rect x="1413" y="468" fill="#f1f400"/>
<rect x="1423" y="468" fill="#fbf100"/>
<rect x="1433" y="468" fill="#fde800"/>
<rect x="1443" y="468" fill="#ffdd00"/>
<rect x="1453" y="468" fill="#ffd000"/>
<rect x="1463" y="468" fill="#ffc300"/>
<rect x="1473" y="468" fill="#ffb800"/>
<rect x="1483" y="468" fill="#ffae00"/>
<rect x="1493" y="468" fill="#ffa500"/>
<rect x="1503" y="468" fill="#ff9d00"/>
<rect x="1153" y="478" fill="#00c44d"/>
<rect x="1163" y="478" fill="#00c448"/>
<rect x="1173" y="478" fill="#00c444"/>
<rect x="1183" y="478" fill="#00c441"/>
<rect x="1193" y="478" fill="#00c43d"/>
<rect x="1203" y="478" fill="#00c539"/>
<rect x="1213" y="478" fill="#00c534"/>
<rect x="1223" y="478" fill="#00c52f"/>
<rect x="1233" y="478" fill="#00c52a"/>
<rect x="1243" y="478" fill="#00c624"/>
<rect x="1253" y="478" fill="#00c61e"/>
<rect x="1263" y="478" fill="#00c61b"/>
<rect x="1273" y="478" fill="#00c617"/>
<rect x="1283" y="478" fill="#00c714"/>
<rect x="1293" y="478" fill="#00c710"/>
<rect x="1303" y="478" fill="#00c70b"/>
<rect x="1313" y="478" fill="#00c807"/>
<rect x="1323" y="478" fill="#00c801"/>
<rect x="1333" y="478" fill="#16cc02"/>
<rect x="1343" y="478" fill="#32d205"/>
<rect x="1353" y="478" fill="#52d806"/>
<rect x="1363" y="478" fill="#75dd06"/>
<rect x="1373" y="478" fill="#97e104"/>
<rect x="1383" y="478" fill="#b7e902"/>
<rect x="1393" y="478" fill="#d7f006"/>
<rect x="1403" y="478" fill="#e9f307"/>
<rect x="1413" y="478" fill="#faf506"/>
<rect x="1423" y="478" fill="#fdea04"/>
<rect x="1433" y="478" fill="#ffe001"/>
<rect x="1443" y="478" fill="#ffd000"/>
<rect x="1453" y="478" fill="#ffc300"/>
<rect x="1463" y="478" fill="#ffb600"/>
<rect x="1473" y="478" fill="#ffab00"/>
<rect x="1483" y="478" fill="#ffa100"/>
<rect x="1493" y="478" fill="#ff9a00"/>
<rect x="1503" y="478" fill="#ff9300"/>
<rect x="1513" y="478" fill="#ff8c00"/>
<rect x="1153" y="488" fill="#00c458"/>
<rect x="1163" y="488" fill="#00c453"/>
<rect x="1173" y="488" fill="#00c44e"/>
<rect x="1183" y="488" fill="#00c449"/>
<rect x="1193" y="488" fill="#00c444"/>
<rect x="1203" y="488" fill="#00c440"/>
<rect x="1213" y="488" fill="#00c43c"/>
<rect x="1223" y="488" fill="#00c537"/>
<rect x="1233" y="488" fill="#00c532"/>
<rect x="1243" y="488" fill="#00c52c"/>
<rect x="1253" y="488" fill="#00c626"/>
<rect x="1263" y="488" fill="#00c61e"/>
<rect x="1273" y="488" fill="#00c61b"/>
<rect x="1283" y="488" fill="#00c617"/>
<rect x="1293" y="488" fill="#00c713"/>
<rect x="1303" y="488" fill="#00c70f"/>
<rect x="1313" y="488" fill="#04c80d"/>
<rect x="1323" y="488" fill="#0bca0f"/>
<rect x="1333" y="488" fill="#1ece13"/>
<rect x="1343" y="488" fill="#3fd51a"/>
<rect x="1353" y="488" fill="#60db1d"/>
<rect x="1363" y="488" fill="#84e01d"/>
<rect x="1373" y="488" fill="#a6e519"/>
<rect x="1383" y="488" fill="#c5ec12"/>
<rect x="1393" y="488" fill="#e3f31e"/>
<rect x="1403" y="488" fill="#f4f51d"/>
<rect x="1413" y="488" fill="#fcef19"/>
<rect x="1423" y="488" fill="#ffe413"/>
<rect x="1433" y="488" fill="#ffd30d"/>
<rect x="1443" y="488" fill="#ffc307"/>
<rect x="1453" y="488" fill="#ffb502"/>
<rect x="1463" y="488" fill="#ffa800"/>
<rect x="1473" y="488" fill="#ff9e00"/>
<rect x="1483" y="488" fill="#ff9500"/>
<rect x="1493" y="488" fill="#ff8e00"/>
<rect x="1503" y="488" fill="#ff8800"/>
<rect x="1513" y="488" fill="#ff8200"/>
<rect x="1523" y="488" fill="#ff7c00"/>
<rect x="1153" y="498" fill="#00c463"/>
<rect x="1163" y="498" fill="#00c45f"/>
<rect x="1173" y="498" fill="#00c45b"/>
<rect x="1183" y="498" fill="#00c456"/>
<rect x="1193" y="498" fill="#00c450"/>
<rect x="1203" y="498" fill="#00c44a"/>
<rect x="1213" y="498" fill="#00c445"/>
<rect x="1223" y="498" fill="#00c440"/>
<rect x="1233" y="498" fill="#00c53b"/>
<rect x="1243" y="498" fill="#00c536"/>
<rect x="1253" y="498" fill="#00c52f"/>
<rect x="1263" y="498" fill="#00c528"/>
<rect x="1273" y="498" fill="#00c620"/>
<rect x="1283" y="498" fill="#00c61b"/>
<rect x="1293" y="498" fill="#01c718"/>
<rect x="1303" y="498" fill="#08c91a"/>
<rect x="1313" y="498" fill="#15cc20"/>
<rect x="1323" y="498" fill="#23cf29"/>
<rect x="1333" y="498" fill="#32d331"/>
<rect x="1343" y="498" fill="#56da3b"/>
<rect x="1353" y="498" fill="#77e040"/>
<rect x="1363" y="498" fill="#99e540"/>
<rect x="1373" y="498" fill="#b9ea3a"/>
<rect x="1383" y="498" fill="#daf23f"/>
<rect x="1393" y="498" fill="#eff640"/>
<rect x="1403" y="498" fill="#fcf53c"/>
<rect x="1413" y="498" fill="#feea34"/>
<rect x="1423" y="498" fill="#ffd92b"/>
<rect x="1433" y="498" fill="#ffc820"/>
<rect x="1443" y="498" fill="#ffb714"/>
<rect x="1453" y="498" fill="#ffa708"/>
<rect x="1463" y="498" fill="#ff9a01"/>
<rect x="1473" y="498" fill="#ff9000"/>
<rect x="1483" y="498" fill="#ff8900"/>
<rect x="1493" y="498" fill="#ff8200"/>
<rect x="1503" y="498" fill="#ff7c00"/>
<rect x="1513" y="498" fill="#ff7700"/>
<rect x="1523" y="498" fill="#ff7200"/>
<rect x="1533" y="498" fill="#ff6d00"/>
<rect x="1153" y="508" fill="#00c46f"/>
<rect x="1163" y="508" fill="#00c46b"/>
<rect x="1173" y="508" fill="#00c467"/>
<rect x="1183" y="508" fill="#00c463"/>
<rect x="1193" y="508" fill="#00c45e"/>
<rect x="1203" y="508" fill="#00c459"/>
<rect x="1213" y="508" fill="#00c453"/>
<rect x="1223" y="508" fill="#00c44c"/>
<rect x="1233" y="508" fill="#00c445"/>
<rect x="1243" y="508" fill="#00c440"/>
<rect x="1253" y="508" fill="#00c53a"/>
<rect x="1263" y="508" fill="#00c533"/>
<rect x="1273" y="508" fill="#00c52b"/>
<rect x="1283" y="508" fill="#00c623"/>
<rect x="1293" y="508" fill="#09c823"/>
<rect x="1303" y="508" fill="#1acc2e"/>
<rect x="1313" y="508" fill="#2ed13c"/>
<rect x="1323" y="508" fill="#43d64b"/>
<rect x="1333" y="508" fill="#56da57"/>
<rect x="1343" y="508" fill="#74e163"/>
<rect x="1353" y="508" fill="#93e76a"/>
<rect x="1363" y="508" fill="#b2eb6a"/>
<rect x="1373" y="508" fill="#cef062"/>
<rect x="1383" y="508" fill="#eaf76a"/>
<rect x="1393" y="508" fill="#faf968"/>
<rect x="1403" y="508" fill="#fef060"/>
<rect x="1413" y="508" fill="#ffe154"/>
<rect x="1423" y="508" fill="#ffd046"/>
<rect x="1433" y="508" fill="#ffbe34"/>
<rect x="1443" y="508" fill="#ffab20"/>
<rect x="1453" y="508" fill="#ff9a10"/>
<rect x="1463" y="508" fill="#ff8c05"/>
<rect x="1473" y="508" fill="#ff8200"/>
<rect x="1483" y="508" fill="#ff7b00"/>
<rect x="1493" y="508" fill="#ff7500"/>
<rect x="1503" y="508" fill="#ff7000"/>
<rect x="1513" y="508" fill="#ff6b00"/>
<rect x="1523" y="508" fill="#ff6600"/>
<rect x="1533" y="508" fill="#ff6200"/>
<rect x="1543" y="508" fill="#ff5f00"/>
<rect x="1163" y="518" fill="#00c478"/>
<rect x="1173" y="518" fill="#00c475"/>
<rect x="1183" y="518" fill="#00c471"/>
<rect x="1193" y="518" fill="#00c46d"/>
<rect x="1203" y="518" fill="#00c468"/>
<rect x="1213" y="518" fill="#00c463"/>
<rect x="1223" y="518" fill="#00c45d"/>
<rect x="1233" y="518" fill="#00c456"/>
<rect x="1243" y="518" fill="#00c44e"/>
<rect x="1253" y="518" fill="#00c446"/>
<rect x="1263" y="518" fill="#00c43f"/>
<rect x="1273" y="518" fill="#00c538"/>
<rect x="1283" y="518" fill="#06c635"/>
<rect x="1293" y="518" fill="#18cb39"/>
<rect x="1303" y="518" fill="#30d147"/>
<rect x="1313" y="518" fill="#4cd75c"/>
<rect x="1323" y="518" fill="#67de70"/>
<rect x="1333" y="518" fill="#7ee381"/>
<rect x="1343" y="518" fill="#95e88f"/>
<rect x="1353" y="518" fill="#b1ee97"/>
<rect x="1363" y="518" fill="#ccf297"/>
<rect x="1373" y="518" fill="#e2f68d"/>
<rect x="1383" y="518" fill="#f6fa95"/>
<rect x="1393" y="518" fill="#fef68f"/>
<rect x="1403" y="518" fill="#ffea83"/>
<rect x="1413" y="518" fill="#ffda74"/>
<rect x="1423" y="518" fill="#ffc85d"/>
<rect x="1433" y="518" fill="#ffb444"/>
<rect x="1443" y="518" fill="#ffa12d"/>
<rect x="1453" y="518" fill="#ff8f19"/>
<rect x="1463" y="518" fill="#ff7f0a"/>
<rect x="1473" y="518" fill="#ff7401"/>
<rect x="1483" y="518" fill="#ff6d00"/>
<rect x="1493" y="518" fill="#ff6700"/>
<rect x="1503" y="518" fill="#ff6300"/>
<rect x="1513" y="518" fill="#ff5e00"/>
<rect x="1523" y="518" fill="#ff5b00"/>
<rect x="1533" y="518" fill="#ff5700"/>
<rect x="1543" y="518" fill="#ff5400"/>
<rect x="1553" y="518" fill="#ff5200"/>
<rect x="1163" y="528" fill="#00c486"/>
<rect x="1173" y="528" fill="#00c482"/>
<rect x="1183" y="528" fill="#00c47f"/>
<rect x="1193" y="528" fill="#00c47c"/>
<rect x="1203" y="528" fill="#00c478"/>
<rect x="1213" y="528" fill="#00c473"/>
<rect x="1223" y="528" fill="#00c46f"/>
<rect x="1233" y="528" fill="#00c469"/>
<rect x="1243" y="528" fill="#00c462"/>
<rect x="1253" y="528" fill="#00c45b"/>
<rect x="1263" y="528" fill="#00c452"/>
<rect x="1273" y="528" fill="#02c448"/>
<rect x="1283" y="528" fill="#10c84b"/>
<rect x="1293" y="528" fill="#29ce56"/>
<rect x="1303" y="528" fill="#49d666"/>
<rect x="1313" y="528" fill="#6bde7b"/>
<rect x="1323" y="528" fill="#8ae594"/>
<rect x="1333" y="528" fill="#a5eba9"/>
<rect x="1343" y="528" fill="#b8f0b8"/>
<rect x="1353" y="528" fill="#cff4c1"/>
<rect x="1363" y="528" fill="#e3f7c0"/>
<rect x="1373" y="528" fill="#f5fbc0"/>
<rect x="1383" y="528" fill="#fefcbc"/>
<rect x="1393" y="528" fill="#fff3b1"/>
<rect x="1403" y="528" fill="#ffe5a2"/>
<rect x="1413" y="528" fill="#ffd48a"/>
<rect x="1423" y="528" fill="#ffc06f"/>
<rect x="1433" y="528" fill="#ffac53"/>
<rect x="1443" y="528" fill="#ff9739"/>
<rect x="1453" y="528" fill="#ff8322"/>
<rect x="1463" y="528" fill="#ff720f"/>
<rect x="1473" y="528" fill="#ff6504"/>
<rect x="1483" y="528" fill="#ff5e00"/>
<rect x="1493" y="528" fill="#ff5900"/>
<rect x="1503" y="528" fill="#ff5500"/>
<rect x="1513" y="528" fill="#ff5200"/>
<rect x="1523" y="528" fill="#ff4f00"/>
<rect x="1533" y="528" fill="#ff4d00"/>
<rect x="1543" y="528" fill="#ff4a00"/>
<rect x="1553" y="528" fill="#ff4800"/>
<rect x="1563" y="528" fill="#ff4700"/>
<rect x="1163" y="538" fill="#00c596"/>
<rect x="1173" y="538" fill="#00c594"/>
<rect x="1183" y="538" fill="#00c591"/>
<rect x="1193" y="538" fill="#00c58d"/>
<rect x="1203" y="538" fill="#00c48a"/>
<rect x="1213" y="538" fill="#00c485"/>
<rect x="1223" y="538" fill="#00c481"/>
<rect x="1233" y="538" fill="#00c47d"/>
<rect x="1243" y="538" fill="#00c477"/>
<rect x="1253" y="538" fill="#00c471"/>
<rect x="1263" y="538" fill="#00c46a"/>
<rect x="1273" y="538" fill="#06c565"/>
<rect x="1283" y="538" fill="#1bca68"/>
<rect x="1293" y="538" fill="#3ad173"/>
<rect x="1303" y="538" fill="#5fda86"/>
<rect x="1313" y="538" fill="#86e39d"/>
<rect x="1323" y="538" fill="#a9ecb3"/>
<rect x="1333" y="538" fill="#c6f2cb"/>
<rect x="1343" y="538" fill="#daf7db"/>
<rect x="1353" y="538" fill="#e9fae3"/>
<rect x="1363" y="538" fill="#f4fce3"/>
<rect x="1373" y="538" fill="#fdfee1"/>
<rect x="1383" y="538" fill="#fffada"/>
<rect x="1393" y="538" fill="#fff0cc"/>
<rect x="1403" y="538" fill="#ffe1b5"/>
<rect x="1413" y="538" fill="#ffcf9b"/>
<rect x="1423" y="538" fill="#ffba7e"/>
<rect x="1433" y="538" fill="#ffa360"/>
<rect x="1443" y="538" fill="#ff8d44"/>
<rect x="1453" y="538" fill="#ff772a"/>
<rect x="1463" y="538" fill="#ff6415"/>
<rect x="1473" y="538" fill="#ff5606"/>
<rect x="1483" y="538" fill="#ff4e00"/>
<rect x="1493" y="538" fill="#ff4b00"/>
<rect x="1503" y="538" fill="#ff4800"/>
<rect x="1513" y="538" fill="#ff4600"/>
<rect x="1523" y="538" fill="#ff4400"/>
<rect x="1533" y="538" fill="#ff4200"/>
<rect x="1543" y="538" fill="#ff4000"/>
<rect x="1553" y="538" fill="#ff3f00"/>
<rect x="1563" y="538" fill="#ff3d00"/>
<rect x="1573" y="538" fill="#ff3c00"/>
<rect x="1163" y="548" fill="#00c6a7"/>
<rect x="1173" y="548" fill="#00c6a5"/>
<rect x="1183" y="548" fill="#00c6a3"/>
<rect x="1193" y="548" fill="#00c6a1"/>
<rect x="1203" y="548" fill="#00c69f"/>
<rect x="1213" y="548" fill="#00c59c"/>
<rect x="1223" y="548" fill="#00c599"/>
<rect x="1233" y="548" fill="#00c595"/>
<rect x="1243" y="548" fill="#00c591"/>
<rect x="1253" y="548" fill="#00c58b"/>
<rect x="1263" y="548" fill="#00c485"/>
<rect x="1273" y="548" fill="#0ac684"/>
<rect x="1283" y="548" fill="#24cc8a"/>
<rect x="1293" y="548" fill="#48d596"/>
<rect x="1303" y="548" fill="#71dea7"/>
<rect x="1313" y="548" fill="#9be8b9"/>
<rect x="1323" y="548" fill="#c1f1cf"/>
<rect x="1333" y="548" fill="#dff8e3"/>
<rect x="1343" y="548" fill="#f1fcf2"/>
<rect x="1353" y="548" fill="#fafef9"/>
<rect x="1363" y="548" fill="#fdfef9"/>
<rect x="1373" y="548" fill="#fffef6"/>
<rect x="1383" y="548" fill="#fff8ec"/>
<rect x="1393" y="548" fill="#ffeeda"/>
<rect x="1403" y="548" fill="#ffdec3"/>
<rect x="1413" y="548" fill="#ffcaa7"/>
<rect x="1423" y="548" fill="#ffb389"/>
<rect x="1433" y="548" fill="#ff9a6a"/>
<rect x="1443" y="548" fill="#ff824c"/>
<rect x="1453" y="548" fill="#ff6b30"/>
<rect x="1463" y="548" fill="#ff5719"/>
<rect x="1473" y="548" fill="#ff4809"/>
<rect x="1483" y="548" fill="#ff4001"/>
<rect x="1493" y="548" fill="#ff3d00"/>
<rect x="1503" y="548" fill="#ff3b00"/>
<rect x="1513" y="548" fill="#ff3a00"/>
<rect x="1523" y="548" fill="#ff3800"/>
<rect x="1533" y="548" fill="#ff3700"/>
<rect x="1543" y="548" fill="#ff3600"/>
<rect x="1553" y="548" fill="#ff3500"/>
<rect x="1563" y="548" fill="#ff3400"/>
<rect x="1573" y="548" fill="#ff3300"/>
<rect x="1583" y="548" fill="#ff3200"/>
<rect x="1163" y="558" fill="#00c7b8"/>
<rect x="1173" y="558" fill="#00c7b7"/>
<rect x="1183" y="558" fill="#00c7b6"/>
<rect x="1193" y="558" fill="#00c7b5"/>
<rect x="1203" y="558" fill="#00c7b4"/>
<rect x="1213" y="558" fill="#00c7b3"/>
<rect x="1223" y="558" fill="#00c7b1"/>
<rect x="1233" y="558" fill="#00c7af"/>
<rect x="1243" y="558" fill="#00c6ad"/>
<rect x="1253" y="558" fill="#00c6ab"/>
<rect x="1263" y="558" fill="#00c6a8"/>
<rect x="1273" y="558" fill="#0ec9a9"/>
<rect x="1283" y="558" fill="#2acfaf"/>
<rect x="1293" y="558" fill="#51d8b9"/>
<rect x="1303" y="558" fill="#7ce1c6"/>
<rect x="1313" y="558" fill="#a8ebd5"/>
<rect x="1323" y="558" fill="#cff4e5"/>
<rect x="1333" y="558" fill="#ecfbf3"/>
<rect x="1343" y="558" fill="#fcfefd"/>
<rect x="1353" y="558" fill="#ffffff"/>
<rect x="1363" y="558" fill="#ffffff"/>
<rect x="1373" y="558" fill="#fffefd"/>
<rect x="1383" y="558" fill="#fff8f4"/>
<rect x="1393" y="558" fill="#ffece2"/>
<rect x="1403" y="558" fill="#ffdacb"/>
<rect x="1413" y="558" fill="#ffc3af"/>
<rect x="1423" y="558" fill="#ffaa90"/>
<rect x="1433" y="558" fill="#ff9070"/>
<rect x="1443" y="558" fill="#ff7651"/>
<rect x="1453" y="558" fill="#ff5e34"/>
<rect x="1463" y="558" fill="#ff491c"/>
<rect x="1473" y="558" fill="#ff3a0a"/>
<rect x="1483" y="558" fill="#ff3101"/>
<rect x="1493" y="558" fill="#ff2f00"/>
<rect x="1503" y="558" fill="#ff2e00"/>
<rect x="1513" y="558" fill="#ff2d00"/>
<rect x="1523" y="558" fill="#ff2d00"/>
<rect x="1533" y="558" fill="#ff2c00"/>
<rect x="1543" y="558" fill="#ff2b00"/>
<rect x="1553" y="558" fill="#ff2b00"/>
<rect x="1563" y="558" fill="#ff2a00"/>
<rect x="1573" y="558" fill="#ff2a00"/>
<rect x="1583" y="558" fill="#ff2a00"/>
<rect x="1593" y="558" fill="#ff2900"/>
<rect x="1173" y="568" fill="#00c8c9"/>
<rect x="1183" y="568" fill="#00c8c9"/>
<rect x="1193" y="568" fill="#00c8c9"/>
<rect x="1203" y="568" fill="#00c8c9"/>
<rect x="1213" y="568" fill="#00c8c9"/>
<rect x="1223" y="568" fill="#00c8c9"/>
<rect x="1233" y="568" fill="#00c8c9"/>
<rect x="1243" y="568" fill="#00c7c9"/>
<rect x="1253" y="568" fill="#00c7c9"/>
<rect x="1263" y="568" fill="#01c8ca"/>
<rect x="1273" y="568" fill="#0fcbcd"/>
<rect x="1283" y="568" fill="#2cd1d3"/>
<rect x="1293" y="568" fill="#54d9dc"/>
<rect x="1303" y="568" fill="#80e3e5"/>
<rect x="1313" y="568" fill="#acedee"/>
<rect x="1323" y="568" fill="#d3f5f6"/>
<rect x="1333" y="568" fill="#f0fcfc"/>
<rect x="1343" y="568" fill="#feffff"/>
<rect x="1353" y="568" fill="#ffffff"/>
<rect x="1363" y="568" fill="#ffffff"/>
<rect x="1373" y="568" fill="#fffefe"/>
<rect x="1383" y="568" fill="#fff7f6"/>
<rect x="1393" y="568" fill="#ffe8e5"/>
<rect x="1403" y="568" fill="#ffd3cd"/>
<rect x="1413" y="568" fill="#ffbab1"/>
<rect x="1423" y="568" fill="#ff9f92"/>
<rect x="1433" y="568" fill="#ff8371"/>
<rect x="1443" y="568" fill="#ff6852"/>
<rect x="1453" y="568" fill="#ff4f35"/>
<rect x="1463" y="568" fill="#ff391d"/>
<rect x="1473" y="568" fill="#ff2a0b"/>
<rect x="1483" y="568" fill="#ff2101"/>
<rect x="1493" y="568" fill="#ff2100"/>
<rect x="1503" y="568" fill="#ff2100"/>
<rect x="1513" y="568" fill="#ff2100"/>
<rect x="1523" y="568" fill="#ff2100"/>
<rect x="1533" y="568" fill="#ff2100"/>
<rect x="1543" y="568" fill="#ff2100"/>
<rect x="1553" y="568" fill="#ff2100"/>
<rect x="1563" y="568" fill="#ff2100"/>
<rect x="1573" y="568" fill="#ff2100"/>
<rect x="1583" y="568" fill="#ff2100"/>
<rect x="1593" y="568" fill="#ff2100"/>
<rect x="1603" y="568" fill="#ff2100"/>
<rect x="1173" y="578" fill="#00c4d3"/>
<rect x="1183" y="578" fill="#00c4d4"/>
<rect x="1193" y="578" fill="#00c3d5"/>
<rect x="1203" y="578" fill="#00c3d5"/>
<rect x="1213" y="578" fill="#00c3d6"/>
<rect x="1223" y="578" fill="#00c2d7"/>
<rect x="1233" y="578" fill="#00c2d9"/>
<rect x="1243" y="578" fill="#00c1da"/>
<rect x="1253" y="578" fill="#00c1dc"/>
<rect x="1263" y="578" fill="#00c0de"/>
<rect x="1273" y="578" fill="#0dc2e2"/>
<rect x="1283" y="578" fill="#2ac8e8"/>
<rect x="1293" y="578" fill="#50d1ef"/>
<rect x="1303" y="578" fill="#7bdbf6"/>
<rect x="1313" y="578" fill="#a7e5fa"/>
<rect x="1323" y="578" fill="#d3f0fd"/>
<rect x="1333" y="578" fill="#f2faff"/>
<rect x="1343" y="578" fill="#fefeff"/>
<rect x="1353" y="578" fill="#ffffff"/>
<rect x="1363" y="578" fill="#ffffff"/>
<rect x="1373" y="578" fill="#fffdfd"/>
<rect x="1383" y="578" fill="#fff4f5"/>
<rect x="1393" y="578" fill="#ffe3e4"/>
<rect x="1403" y="578" fill="#ffcdcd"/>
<rect x="1413" y="578" fill="#ffb3b2"/>
<rect x="1423" y="578" fill="#ff9793"/>
<rect x="1433" y="578" fill="#ff7973"/>
<rect x="1443" y="578" fill="#ff5d54"/>
<rect x="1453" y="578" fill="#ff4337"/>
<rect x="1463" y="578" fill="#ff2d1f"/>
<rect x="1473" y="578" fill="#ff1d0d"/>
<rect x="1483" y="578" fill="#ff1503"/>
<rect x="1493" y="578" fill="#ff1401"/>
<rect x="1503" y="578" fill="#ff1400"/>
<rect x="1513" y="578" fill="#ff1400"/>
<rect x="1523" y="578" fill="#ff1500"/>
<rect x="1533" y="578" fill="#ff1600"/>
<rect x="1543" y="578" fill="#ff1600"/>
<rect x="1553" y="578" fill="#ff1700"/>
<rect x="1563" y="578" fill="#ff1700"/>
<rect x="1573" y="578" fill="#ff1800"/>
<rect x="1583" y="578" fill="#ff1800"/>
<rect x="1593" y="578" fill="#ff1900"/>
<rect x="1603" y="578" fill="#ff1900"/>
<rect x="1173" y="588" fill="#00c0dd"/>
<rect x="1183" y="588" fill="#00c0df"/>
<rect x="1193" y="588" fill="#00bfe0"/>
<rect x="1203" y="588" fill="#00bee2"/>
<rect x="1213" y="588" fill="#00bee3"/>
<rect x="1223" y="588" fill="#00bde5"/>
<rect x="1233" y="588" fill="#00bce8"/>
<rect x="1243" y="588" fill="#00bbea"/>
<rect x="1253" y="588" fill="#00baed"/>
<rect x="1263" y="588" fill="#00b8f0"/>
<rect x="1273" y="588" fill="#0ab7f3"/>
<rect x="1283" y="588" fill="#26bbf6"/>
<rect x="1293" y="588" fill="#58c7fa"/>
<rect x="1303" y="588" fill="#8dd5fd"/>
<rect x="1313" y="588" fill="#bbe3ff"/>
<rect x="1323" y="588" fill="#deeeff"/>
<rect x="1333" y="588" fill="#f0f5ff"/>
<rect x="1343" y="588" fill="#fafaff"/>
<rect x="1353" y="588" fill="#fffcfe"/>
<rect x="1363" y="588" fill="#fffcfd"/>
<rect x="1373" y="588" fill="#fff7fa"/>
<rect x="1383" y="588" fill="#ffedf0"/>
<rect x="1393" y="588" fill="#ffdbe0"/>
<rect x="1403" y="588" fill="#ffc5ca"/>
<rect x="1413" y="588" fill="#ffabb0"/>
<rect x="1423" y="588" fill="#ff8f93"/>
<rect x="1433" y="588" fill="#ff7274"/>
<rect x="1443" y="588" fill="#ff5657"/>
<rect x="1453" y="588" fill="#ff3d3b"/>
<rect x="1463" y="588" fill="#ff2824"/>
<rect x="1473" y="588" fill="#ff1a13"/>
<rect x="1483" y="588" fill="#ff130a"/>
<rect x="1493" y="588" fill="#ff1208"/>
<rect x="1503" y="588" fill="#ff1307"/>
<rect x="1513" y="588" fill="#ff1306"/>
<rect x="1523" y="588" fill="#ff1306"/>
<rect x="1533" y="588" fill="#ff1305"/>
<rect x="1543" y="588" fill="#ff1304"/>
<rect x="1553" y="588" fill="#ff1304"/>
<rect x="1563" y="588" fill="#ff1303"/>
<rect x="1573" y="588" fill="#ff1303"/>
<rect x="1583" y="588" fill="#ff1402"/>
<rect x="1593" y="588" fill="#ff1402"/>
<rect x="1603" y="588" fill="#ff1401"/>
<rect x="1613" y="588" fill="#ff1401"/>
<rect x="1173" y="598" fill="#00bce8"/>
<rect x="1183" y="598" fill="#00bce9"/>
<rect x="1193" y="598" fill="#00bbeb"/>
<rect x="1203" y="598" fill="#00baee"/>
<rect x="1213" y="598" fill="#00b9f0"/>
<rect x="1223" y="598" fill="#00b7f1"/>
<rect x="1233" y="598" fill="#00b4f2"/>
<rect x="1243" y="598" fill="#00b1f4"/>
<rect x="1253" y="598" fill="#00adf5"/>
<rect x="1263" y="598" fill="#02a9f7"/>
<rect x="1273" y="598" fill="#1aadfa"/>
<rect x="1283" y="598" fill="#43b7fd"/>
<rect x="1293" y="598" fill="#71c4ff"/>
<rect x="1303" y="598" fill="#9ed1ff"/>
<rect x="1313" y="598" fill="#c3deff"/>
<rect x="1323" y="598" fill="#d6e4ff"/>
<rect x="1333" y="598" fill="#e8ebff"/>
<rect x="1343" y="598" fill="#f8f1ff"/>
<rect x="1353" y="598" fill="#fff3fb"/>
<rect x="1363" y="598" fill="#fff2f9"/>
<rect x="1373" y="598" fill="#ffeef5"/>
<rect x="1383" y="598" fill="#ffe1eb"/>
<rect x="1393" y="598" fill="#ffd0db"/>
<rect x="1403" y="598" fill="#ffbac5"/>
<rect x="1413" y="598" fill="#ffa0ab"/>
<rect x="1423" y="598" fill="#ff8490"/>
<rect x="1433" y="598" fill="#ff6973"/>
<rect x="1443" y="598" fill="#ff4e57"/>
<rect x="1453" y="598" fill="#ff353e"/>
<rect x="1463" y="598" fill="#ff2228"/>
<rect x="1473" y="598" fill="#ff1619"/>
<rect x="1483" y="598" fill="#ff1111"/>
<rect x="1493" y="598" fill="#ff1110"/>
<rect x="1503" y="598" fill="#ff110e"/>
<rect x="1513" y="598" fill="#ff110d"/>
<rect x="1523" y="598" fill="#ff120c"/>
<rect x="1533" y="598" fill="#ff120b"/>
<rect x="1543" y="598" fill="#ff120a"/>
<rect x="1553" y="598" fill="#ff1209"/>
<rect x="1563" y="598" fill="#ff1208"/>
<rect x="1573" y="598" fill="#ff1307"/>
<rect x="1583" y="598" fill="#ff1307"/>
<rect x="1593" y="598" fill="#ff1306"/>
<rect x="1603" y="598" fill="#ff1306"/>
<rect x="1173" y="608" fill="#00b8f1"/>
<rect x="1183" y="608" fill="#00b6f1"/>
<rect x="1193" y="608" fill="#00b4f2"/>
<rect x="1203" y="608" fill="#00b2f3"/>
<rect x="1213" y="608" fill="#00aff4"/>
<rect x="1223" y="608" fill="#00acf6"/>
<rect x="1233" y="608" fill="#00a9f7"/>
<rect x="1243" y="608" fill="#00a5f9"/>
<rect x="1253" y="608" fill="#00a0fb"/>
<rect x="1263" y="608" fill="#0da0fd"/>
<rect x="1273" y="608" fill="#2ca6ff"/>
<rect x="1283" y="608" fill="#54b0ff"/>
<rect x="1293" y="608" fill="#7dbcff"/>
<rect x="1303" y="608" fill="#9ec7ff"/>
<rect x="1313" y="608" fill="#b4ceff"/>
<rect x="1323" y="608" fill="#cdd5ff"/>
<rect x="1333" y="608" fill="#e4ddff"/>
<rect x="1343" y="608" fill="#f8e3fb"/>
<rect x="1353" y="608" fill="#fee4f5"/>
<rect x="1363" y="608" fill="#ffe4f2"/>
<rect x="1373" y="608" fill="#ffdfed"/>
<rect x="1383" y="608" fill="#ffd2e3"/>
<rect x="1393" y="608" fill="#ffc2d4"/>
<rect x="1403" y="608" fill="#ffacbf"/>
<rect x="1413" y="608" fill="#ff93a7"/>
<rect x="1423" y="608" fill="#ff788c"/>
<rect x="1433" y="608" fill="#ff5d71"/>
<rect x="1443" y="608" fill="#ff4557"/>
<rect x="1453" y="608" fill="#ff2f3f"/>
<rect x="1463" y="608" fill="#ff1e2c"/>
<rect x="1473" y="608" fill="#ff121f"/>
<rect x="1483" y="608" fill="#ff0f19"/>
<rect x="1493" y="608" fill="#ff0f17"/>
<rect x="1503" y="608" fill="#ff1015"/>
<rect x="1513" y="608" fill="#ff1013"/>
<rect x="1523" y="608" fill="#ff1012"/>
<rect x="1533" y="608" fill="#ff1110"/>
<rect x="1543" y="608" fill="#ff110f"/>
<rect x="1553" y="608" fill="#ff110e"/>
<rect x="1563" y="608" fill="#ff110d"/>
<rect x="1573" y="608" fill="#ff120c"/>
<rect x="1583" y="608" fill="#ff120b"/>
<rect x="1593" y="608" fill="#ff120a"/>
<rect x="1603" y="608" fill="#ff120a"/>
<rect x="1183" y="618" fill="#00aef5"/>
<rect x="1193" y="618" fill="#00abf6"/>
<rect x="1203" y="618" fill="#00a8f7"/>
<rect x="1213" y="618" fill="#00a5f8"/>
<rect x="1223" y="618" fill="#00a2fa"/>
<rect x="1233" y="618" fill="#009efc"/>
<rect x="1243" y="618" fill="#0099fe"/>
<rect x="1253" y="618" fill="#0394ff"/>
<rect x="1263" y="618" fill="#1795ff"/>
<rect x="1273" y="618" fill="#379cff"/>
<rect x="1283" y="618" fill="#5ca7ff"/>
<rect x="1293" y="618" fill="#76aeff"/>
<rect x="1303" y="618" fill="#8eb4ff"/>
<rect x="1313" y="618" fill="#abbcff"/>
<rect x="1323" y="618" fill="#c5c3ff"/>
<rect x="1333" y="618" fill="#e5cdff"/>
<rect x="1343" y="618" fill="#fad0f4"/>
<rect x="1353" y="618" fill="#fed1ed"/>
<rect x="1363" y="618" fill="#ffd1e9"/>
<rect x="1373" y="618" fill="#ffcce4"/>
<rect x="1383" y="618" fill="#ffc4db"/>
<rect x="1393" y="618" fill="#ffb0cb"/>
<rect x="1403" y="618" fill="#ff9cb8"/>
<rect x="1413" y="618" fill="#ff84a2"/>
<rect x="1423" y="618" fill="#ff6c88"/>
<rect x="1433" y="618" fill="#ff536e"/>
<rect x="1443" y="618" fill="#ff3b56"/>
<rect x="1453" y="618" fill="#ff2841"/>
<rect x="1463" y="618" fill="#ff1930"/>
<rect x="1473" y="618" fill="#ff1225"/>
<rect x="1483" y="618" fill="#ff1021"/>
<rect x="1493" y="618" fill="#ff101e"/>
<rect x="1503" y="618" fill="#ff0f1b"/>
<rect x="1513" y="618" fill="#ff0f19"/>
<rect x="1523" y="618" fill="#ff0f17"/>
<rect x="1533" y="618" fill="#ff1016"/>
<rect x="1543" y="618" fill="#ff1014"/>
<rect x="1553" y="618" fill="#ff1013"/>
<rect x="1563" y="618" fill="#ff1012"/>
<rect x="1573" y="618" fill="#ff1110"/>
<rect x="1583" y="618" fill="#ff110f"/>
<rect x="1183" y="628" fill="#00a6f8"/>
<rect x="1193" y="628" fill="#00a3fa"/>
<rect x="1203" y="628" fill="#00a0fb"/>
<rect x="1213" y="628" fill="#009cfc"/>
<rect x="1223" y="628" fill="#0098fe"/>
<rect x="1233" y="628" fill="#0092ff"/>
<rect x="1243" y="628" fill="#008cff"/>
<rect x="1253" y="628" fill="#0888ff"/>
<rect x="1263" y="628" fill="#1f8bff"/>
<rect x="1273" y="628" fill="#3b91ff"/>
<rect x="1283" y="628" fill="#4f94ff"/>
<rect x="1293" y="628" fill="#6799ff"/>
<rect x="1303" y="628" fill="#87a0ff"/>
<rect x="1313" y="628" fill="#a3a7ff"/>
<rect x="1323" y="628" fill="#c7b1ff"/>
<rect x="1333" y="628" fill="#e6b8f9"/>
<rect x="1343" y="628" fill="#fbbaec"/>
<rect x="1353" y="628" fill="#febbe4"/>
<rect x="1363" y="628" fill="#ffbbdf"/>
<rect x="1373" y="628" fill="#ffb7d9"/>
<rect x="1383" y="628" fill="#ffaed1"/>
<rect x="1393" y="628" fill="#ff9bc1"/>
<rect x="1403" y="628" fill="#ff89b0"/>
<rect x="1413" y="628" fill="#ff749b"/>
<rect x="1423" y="628" fill="#ff5d84"/>
<rect x="1433" y="628" fill="#ff476d"/>
<rect x="1443" y="628" fill="#ff3356"/>
<rect x="1453" y="628" fill="#ff2243"/>
<rect x="1463" y="628" fill="#ff1635"/>
<rect x="1473" y="628" fill="#ff122d"/>
<rect x="1483" y="628" fill="#ff1129"/>
<rect x="1493" y="628" fill="#ff1126"/>
<rect x="1503" y="628" fill="#ff1023"/>
<rect x="1513" y="628" fill="#ff1020"/>
<rect x="1523" y="628" fill="#ff101d"/>
<rect x="1533" y="628" fill="#ff0f1b"/>
<rect x="1543" y="628" fill="#ff0f19"/>
<rect x="1553" y="628" fill="#ff0f18"/>
<rect x="1563" y="628" fill="#ff1016"/>
<rect x="1183" y="638" fill="#009efc"/>
<rect x="1193" y="638" fill="#009bfd"/>
<rect x="1203" y="638" fill="#0097ff"/>
<rect x="1213" y="638" fill="#0092ff"/>
<rect x="1223" y="638" fill="#008cff"/>
<rect x="1233" y="638" fill="#0086ff"/>
<rect x="1243" y="638" fill="#007fff"/>
<rect x="1253" y="638" fill="#0c7cff"/>
<rect x="1263" y="638" fill="#1c7cff"/>
<rect x="1273" y="638" fill="#2c7dff"/>
<rect x="1283" y="638" fill="#437fff"/>
<rect x="1293" y="638" fill="#6285ff"/>
<rect x="1303" y="638" fill="#7f8bff"/>
<rect x="1313" y="638" fill="#a393ff"/>
<rect x="1323" y="638" fill="#cb9eff"/>
<rect x="1333" y="638" fill="#e9a1f0"/>
<rect x="1343" y="638" fill="#faa2e3"/>
<rect x="1353" y="638" fill="#fea3da"/>
<rect x="1363" y="638" fill="#ffa2d4"/>
<rect x="1373" y="638" fill="#ff9fce"/>
<rect x="1383" y="638" fill="#ff97c6"/>
<rect x="1393" y="638" fill="#ff8dba"/>
<rect x="1403" y="638" fill="#ff75a7"/>
<rect x="1413" y="638" fill="#ff6295"/>
<rect x="1423" y="638" fill="#ff4f80"/>
<rect x="1433" y="638" fill="#ff3b6b"/>
<rect x="1443" y="638" fill="#ff2a57"/>
<rect x="1453" y="638" fill="#ff1d46"/>
<rect x="1463" y="638" fill="#ff153a"/>
<rect x="1473" y="638" fill="#ff1335"/>
<rect x="1483" y="638" fill="#ff1230"/>
<rect x="1493" y="638" fill="#ff122d"/>
<rect x="1503" y="638" fill="#ff1129"/>
<rect x="1513" y="638" fill="#ff1126"/>
<rect x="1523" y="638" fill="#ff1124"/>
<rect x="1533" y="638" fill="#ff1021"/>
<rect x="1543" y="638" fill="#ff101f"/>
<rect x="1183" y="648" fill="#0097ff"/>
<rect x="1193" y="648" fill="#0092ff"/>
<rect x="1203" y="648" fill="#008dff"/>
<rect x="1213" y="648" fill="#0087ff"/>
<rect x="1223" y="648" fill="#0081ff"/>
<rect x="1233" y="648" fill="#007aff"/>
<rect x="1243" y="648" fill="#0173ff"/>
<rect x="1253" y="648" fill="#076eff"/>
<rect x="1263" y="648" fill="#116aff"/>
<rect x="1273" y="648" fill="#256aff"/>
<rect x="1283" y="648" fill="#416dff"/>
<rect x="1293" y="648" fill="#5d71ff"/>
<rect x="1303" y="648" fill="#7d76ff"/>
<rect x="1313" y="648" fill="#a881ff"/>
<rect x="1323" y="648" fill="#cf88f9"/>
<rect x="1333" y="648" fill="#ee88e6"/>
<rect x="1343" y="648" fill="#fa8ada"/>
<rect x="1353" y="648" fill="#fe8acf"/>
<rect x="1363" y="648" fill="#ff89c9"/>
<rect x="1373" y="648" fill="#ff86c3"/>
<rect x="1383" y="648" fill="#ff80bb"/>
<rect x="1393" y="648" fill="#ff76b0"/>
<rect x="1403" y="648" fill="#ff6aa3"/>
<rect x="1413" y="648" fill="#ff518d"/>
<rect x="1423" y="648" fill="#ff407c"/>
<rect x="1433" y="648" fill="#ff306a"/>
<rect x="1443" y="648" fill="#ff2259"/>
<rect x="1453" y="648" fill="#ff194b"/>
<rect x="1463" y="648" fill="#ff1542"/>
<rect x="1473" y="648" fill="#ff143c"/>
<rect x="1483" y="648" fill="#ff1337"/>
<rect x="1493" y="648" fill="#ff1333"/>
<rect x="1503" y="648" fill="#ff1230"/>
<rect x="1513" y="648" fill="#ff122c"/>
<rect x="1193" y="658" fill="#0088ff"/>
<rect x="1203" y="658" fill="#0083ff"/>
<rect x="1213" y="658" fill="#007dff"/>
<rect x="1223" y="658" fill="#0076ff"/>
<rect x="1233" y="658" fill="#006fff"/>
<rect x="1243" y="658" fill="#0067ff"/>
<rect x="1253" y="658" fill="#025fff"/>
<rect x="1263" y="658" fill="#115bff"/>
<rect x="1273" y="658" fill="#275bff"/>
<rect x="1283" y="658" fill="#405bff"/>
<rect x="1293" y="658" fill="#5a5dff"/>
<rect x="1303" y="658" fill="#8566ff"/>
<rect x="1313" y="658" fill="#b06fff"/>
<rect x="1323" y="658" fill="#d471ef"/>
<rect x="1333" y="658" fill="#f470db"/>
<rect x="1343" y="658" fill="#fa72d0"/>
<rect x="1353" y="658" fill="#fe71c4"/>
<rect x="1363" y="658" fill="#ff70be"/>
<rect x="1373" y="658" fill="#ff6eb8"/>
<rect x="1383" y="658" fill="#ff68b0"/>
<rect x="1393" y="658" fill="#ff60a5"/>
<rect x="1403" y="658" fill="#ff569a"/>
<rect x="1413" y="658" fill="#ff4087"/>
<rect x="1423" y="658" fill="#ff3378"/>
<rect x="1433" y="658" fill="#ff2669"/>
<rect x="1443" y="658" fill="#ff1c5b"/>
<rect x="1453" y="658" fill="#ff1750"/>
<rect x="1463" y="658" fill="#ff1649"/>
<rect x="1473" y="658" fill="#ff1543"/>
<rect x="1483" y="658" fill="#ff143e"/>
<rect x="1493" y="658" fill="#ff1439"/>
<rect x="1193" y="668" fill="#007fff"/>
<rect x="1203" y="668" fill="#0079ff"/>
<rect x="1213" y="668" fill="#0073ff"/>
<rect x="1223" y="668" fill="#006cff"/>
<rect x="1233" y="668" fill="#0065ff"/>
<rect x="1243" y="668" fill="#005cff"/>
<rect x="1253" y="668" fill="#0956ff"/>
<rect x="1263" y="668" fill="#1850ff"/>
<rect x="1273" y="668" fill="#2c4dff"/>
<rect x="1283" y="668" fill="#424bff"/>
<rect x="1293" y="668" fill="#654fff"/>
<rect x="1303" y="668" fill="#9057ff"/>
<rect x="1313" y="668" fill="#b85cfa"/>
<rect x="1323" y="668" fill="#da5be4"/>
<rect x="1333" y="668" fill="#f55ad2"/>
<rect x="1343" y="668" fill="#fa5ac6"/>
<rect x="1353" y="668" fill="#ff59ba"/>
<rect x="1363" y="668" fill="#ff59b4"/>
<rect x="1373" y="668" fill="#ff57ad"/>
<rect x="1383" y="668" fill="#ff52a6"/>
<rect x="1393" y="668" fill="#ff4b9c"/>
<rect x="1403" y="668" fill="#ff4391"/>
<rect x="1413" y="668" fill="#ff3a86"/>
<rect x="1423" y="668" fill="#ff2775"/>
<rect x="1433" y="668" fill="#ff1f69"/>
<rect x="1443" y="668" fill="#ff195f"/>
<rect x="1453" y="668" fill="#ff1757"/>
<rect x="1463" y="668" fill="#ff1750"/>
<rect x="1473" y="668" fill="#ff164a"/>
<rect x="1193" y="678" fill="#0077ff"/>
<rect x="1203" y="678" fill="#0071ff"/>
<rect x="1213" y="678" fill="#006aff"/>
<rect x="1223" y="678" fill="#0063ff"/>
<rect x="1233" y="678" fill="#005bff"/>
<rect x="1243" y="678" fill="#0955ff"/>
<rect x="1253" y="678" fill="#154fff"/>
<rect x="1263" y="678" fill="#2349ff"/>
<rect x="1273" y="678" fill="#3243ff"/>
<rect x="1283" y="678" fill="#4b41ff"/>
<rect x="1293" y="678" fill="#7345ff"/>
<rect x="1303" y="678" fill="#9c4aff"/>
<rect x="1313" y="678" fill="#c04af0"/>
<rect x="1323" y="678" fill="#e247da"/>
<rect x="1333" y="678" fill="#f546c9"/>
<rect x="1343" y="678" fill="#fa46bd"/>
<rect x="1353" y="678" fill="#ff44b1"/>
<rect x="1363" y="678" fill="#ff44ab"/>
<rect x="1373" y="678" fill="#ff42a4"/>
<rect x="1383" y="678" fill="#ff3f9d"/>
<rect x="1393" y="678" fill="#ff3a95"/>
<rect x="1403" y="678" fill="#ff338b"/>
<rect x="1413" y="678" fill="#ff2c81"/>
<rect x="1423" y="678" fill="#ff1f73"/>
<rect x="1433" y="678" fill="#ff1b6b"/>
<rect x="1443" y="678" fill="#ff1964"/>
<rect x="1453" y="678" fill="#ff185d"/>
<rect x="1203" y="688" fill="#0068ff"/>
<rect x="1213" y="688" fill="#0062ff"/>
<rect x="1223" y="688" fill="#005aff"/>
<rect x="1233" y="688" fill="#0a55ff"/>
<rect x="1243" y="688" fill="#1550ff"/>
<rect x="1253" y="688" fill="#214aff"/>
<rect x="1263" y="688" fill="#2e43ff"/>
<rect x="1273" y="688" fill="#3c3cff"/>
<rect x="1283" y="688" fill="#5d3cff"/>
<rect x="1293" y="688" fill="#823eff"/>
<rect x="1303" y="688" fill="#a840fb"/>
<rect x="1313" y="688" fill="#c93ce6"/>
<rect x="1323" y="688" fill="#ea37d0"/>
<rect x="1333" y="688" fill="#f536c2"/>
<rect x="1343" y="688" fill="#fa35b6"/>
<rect x="1353" y="688" fill="#ff33a9"/>
<rect x="1363" y="688" fill="#ff32a3"/>
<rect x="1373" y="688" fill="#ff319d"/>
<rect x="1383" y="688" fill="#ff2f96"/>
<rect x="1393" y="688" fill="#ff2b8f"/>
<rect x="1403" y="688" fill="#ff2786"/>
<rect x="1413" y="688" fill="#ff227d"/>
<rect x="1423" y="688" fill="#ff1e75"/>
<rect x="1433" y="688" fill="#ff1a6e"/>
<rect x="1203" y="698" fill="#0060ff"/>
<rect x="1213" y="698" fill="#005aff"/>
<rect x="1223" y="698" fill="#0a55ff"/>
<rect x="1233" y="698" fill="#1450ff"/>
<rect x="1243" y="698" fill="#1f4aff"/>
<rect x="1253" y="698" fill="#2b44ff"/>
<rect x="1263" y="698" fill="#383eff"/>
<rect x="1273" y="698" fill="#513cff"/>
<rect x="1283" y="698" fill="#713cff"/>
<rect x="1293" y="698" fill="#933cff"/>
<rect x="1303" y="698" fill="#b338f2"/>
<rect x="1313" y="698" fill="#d232dd"/>
<rect x="1323" y="698" fill="#f12cc8"/>
<rect x="1333" y="698" fill="#f52abc"/>
<rect x="1343" y="698" fill="#fa28b0"/>
<rect x="1353" y="698" fill="#ff26a3"/>
<rect x="1363" y="698" fill="#ff269e"/>
<rect x="1373" y="698" fill="#ff2598"/>
<rect x="1383" y="698" fill="#ff2392"/>
<rect x="1393" y="698" fill="#ff228b"/>
<rect x="1403" y="698" fill="#ff1f84"/>
<rect x="1413" y="698" fill="#ff1d7d"/>
<rect x="1213" y="708" fill="#0a55ff"/>
<rect x="1223" y="708" fill="#1450ff"/>
<rect x="1233" y="708" fill="#1e4bff"/>
<rect x="1243" y="708" fill="#2946ff"/>
<rect x="1253" y="708" fill="#3540ff"/>
<rect x="1263" y="708" fill="#473cff"/>
<rect x="1273" y="708" fill="#643cff"/>
<rect x="1283" y="708" fill="#833cff"/>
<rect x="1293" y="708" fill="#a33bfd"/>
<rect x="1303" y="708" fill="#bf34ea"/>
<rect x="1313" y="708" fill="#dc2dd6"/>
<rect x="1323" y="708" fill="#f127c4"/>
<rect x="1333" y="708" fill="#f624b8"/>
<rect x="1343" y="708" fill="#fb22ac"/>
<rect x="1353" y="708" fill="#ff1fa0"/>
<rect x="1363" y="708" fill="#ff1f9b"/>
<rect x="1373" y="708" fill="#ff1f95"/>
<rect x="1383" y="708" fill="#ff1e90"/>
<rect x="1393" y="708" fill="#ff1e8b"/>
<rect x="1213" y="718" fill="#1350ff"/>
<rect x="1223" y="718" fill="#1d4cff"/>
<rect x="1233" y="718" fill="#2747ff"/>
<rect x="1243" y="718" fill="#3241ff"/>
<rect x="1253" y="718" fill="#3e3cff"/>
<rect x="1263" y="718" fill="#593cff"/>
<rect x="1273" y="718" fill="#753cff"/>
<rect x="1283" y="718" fill="#933cff"/>
<rect x="1293" y="718" fill="#af38f5"/>
<rect x="1303" y="718" fill="#c932e3"/>
<rect x="1313" y="718" fill="#e42bd0"/>
<rect x="1323" y="718" fill="#f226c2"/>
<rect x="1333" y="718" fill="#f724b6"/>
<rect x="1343" y="718" fill="#fb21ab"/>
<rect x="1353" y="718" fill="#ff1ea0"/>
<rect x="1363" y="718" fill="#ff1e9b"/>
<rect x="1223" y="728" fill="#2547ff"/>
<rect x="1233" y="728" fill="#2f42ff"/>
<rect x="1243" y="728" fill="#3a3dff"/>
<rect x="1253" y="728" fill="#4f3cff"/>
<rect x="1263" y="728" fill="#693cff"/>
<rect x="1273" y="728" fill="#843cff"/>
<rect x="1283" y="728" fill="#a13cfe"/>
<rect x="1293" y="728" fill="#b936ee"/>
<rect x="1303" y="728" fill="#d22fdd"/>
<rect x="1313" y="728" fill="#ec29cb"/>
<rect x="1323" y="728" fill="#f326bf"/>
<rect x="1333" y="728" fill="#f723b5"/>
<rect x="1343" y="728" fill="#fb20aa"/>
<rect x="1223" y="738" fill="#2d44ff"/>
<rect x="1233" y="738" fill="#373fff"/>
<rect x="1243" y="738" fill="#473cff"/>
<rect x="1253" y="738" fill="#5f3cff"/>
<rect x="1263" y="738" fill="#783cff"/>
<rect x="1273" y="738" fill="#923cff"/>
<rect x="1283" y="738" fill="#ab39f7"/>
<rect x="1293" y="738" fill="#c233e7"/>
<rect x="1303" y="738" fill="#da2dd7"/>
<rect x="1313" y="738" fill="#f028c7"/>
<rect x="1323" y="738" fill="#f425bd"/>
<rect x="1233" y="748" fill="#403cff"/>
<rect x="1243" y="748" fill="#563cff"/>
<rect x="1253" y="748" fill="#6d3cff"/>
<rect x="1263" y="748" fill="#863cff"/>
<rect x="1273" y="748" fill="#9f3cff"/>
<rect x="1283" y="748" fill="#b537f1"/>
<rect x="1293" y="748" fill="#cb31e2"/>
<rect x="1303" y="748" fill="#e22cd2"/>
<rect x="1243" y="758" fill="#563cff"/>
<rect x="1253" y="758" fill="#6e3cff"/>
<rect x="1263" y="758" fill="#863cff"/>
<rect x="1273" y="758" fill="#9f3cff"/>
<rect x="1283" y="758" fill="#b537f1"/>
</g></g>
<g font-family="'Liberation Sans',sans-serif" font-weight="bold" font-size="20" fill="#f4f4f4">
<text x="1126" y="761.4" text-anchor="end">0.0</text>
<text x="1126" y="700.7" text-anchor="end">0.1</text>
<text x="1126" y="640.0" text-anchor="end">0.2</text>
<text x="1126" y="579.2" text-anchor="end">0.3</text>
<text x="1126" y="518.5" text-anchor="end">0.4</text>
<text x="1126" y="457.8" text-anchor="end">0.5</text>
<text x="1126" y="397.1" text-anchor="end">0.6</text>
<text x="1126" y="336.4" text-anchor="end">0.7</text>
<text x="1126" y="275.6" text-anchor="end">0.8</text>
<text x="1126" y="214.9" text-anchor="end">0.9</text>
<text x="1163.5" y="809.6" text-anchor="middle">0.0</text>
<text x="1224.1" y="809.6" text-anchor="middle">0.1</text>
<text x="1284.7" y="809.6" text-anchor="middle">0.2</text>
<text x="1345.3" y="809.6" text-anchor="middle">0.3</text>
<text x="1405.9" y="809.6" text-anchor="middle">0.4</text>
<text x="1466.5" y="809.6" text-anchor="middle">0.5</text>
<text x="1527.1" y="809.6" text-anchor="middle">0.6</text>
<text x="1587.7" y="809.6" text-anchor="middle">0.7</text>
<text x="1648.3" y="809.6" text-anchor="middle">0.8</text>
</g>
</g>
<g id="extra">
<defs><linearGradient id="bd1" x1="0" y1="0" x2="1" y2="1"><stop offset="0" stop-color="#2d559f"/><stop offset="1" stop-color="#27488f"/></linearGradient><linearGradient id="bd2" x1="0" y1="0" x2="1" y2="1"><stop offset="0" stop-color="#1b70e6"/><stop offset="1" stop-color="#1048c4"/></linearGradient><filter id="bb" x="-50%" y="-50%" width="200%" height="200%"><feGaussianBlur stdDeviation="14"/></filter><filter id="bs"><feGaussianBlur stdDeviation="3"/></filter><clipPath id="b1clip"><rect x="68" y="68" width="1180" height="844"/></clipPath></defs>
<path transform="translate(1384.5,515.8) rotate(0)" d="M-8.0,-8.0L-1.8,-1.8 M1.8,1.8L8.0,8.0 M-8.0,8.0L-1.8,1.8 M1.8,-1.8L8.0,-8.0" stroke="#3a3a30" stroke-width="1.3" fill="none"/>
<path transform="translate(1363.5,538.4) rotate(0)" d="M-7.0,-7.0L-1.5,-1.5 M1.5,1.5L7.0,7.0 M-7.0,7.0L-1.5,1.5 M1.5,-1.5L7.0,-7.0" stroke="#111" stroke-width="1.8" fill="none"/>
<path transform="translate(1373.2,537.6) rotate(0)" d="M-8.0,-8.0L-1.8,-1.8 M1.8,1.8L8.0,8.0 M-8.0,8.0L-1.8,1.8 M1.8,-1.8L8.0,-8.0" stroke="#222" stroke-width="1.2" fill="none"/>
<path transform="translate(1353.9,538.4) rotate(0)" d="M-7.0,-7.0L-1.5,-1.5 M1.5,1.5L7.0,7.0 M-7.0,7.0L-1.5,1.5 M1.5,-1.5L7.0,-7.0" stroke="#222" stroke-width="1.2" fill="none"/>
<path transform="translate(1364.0,541.0) rotate(0)" d="M-6.0,-6.0L-1.3,-1.3 M1.3,1.3L6.0,6.0 M-6.0,6.0L-1.3,1.3 M1.3,-1.3L6.0,-6.0" stroke="#000" stroke-width="1.6" fill="none"/>
<path transform="translate(1333.7,559.4) rotate(0)" d="M-7.0,-7.0L-1.5,-1.5 M1.5,1.5L7.0,7.0 M-7.0,7.0L-1.5,1.5 M1.5,-1.5L7.0,-7.0" stroke="#444" stroke-width="1.1" fill="none"/>
<path transform="translate(1321.6,559.4) rotate(0)" d="M-6.0,-6.0L-1.3,-1.3 M1.3,1.3L6.0,6.0 M-6.0,6.0L-1.3,1.3 M1.3,-1.3L6.0,-6.0" stroke="#7a1420" stroke-width="1.6" fill="none"/>
<path transform="translate(1316.8,554.5) rotate(0)" d="M-7.0,-7.0L-1.5,-1.5 M1.5,1.5L7.0,7.0 M-7.0,7.0L-1.5,1.5 M1.5,-1.5L7.0,-7.0" stroke="#8a2028" stroke-width="1.2" fill="none"/>
<path transform="translate(1311.9,564.2) rotate(0)" d="M-6.0,-6.0L-1.3,-1.3 M1.3,1.3L6.0,6.0 M-6.0,6.0L-1.3,1.3 M1.3,-1.3L6.0,-6.0" stroke="#555" stroke-width="1.1" fill="none"/>
<path transform="translate(1323.2,569.0) rotate(0)" d="M-7.0,-7.0L-1.5,-1.5 M1.5,1.5L7.0,7.0 M-7.0,7.0L-1.5,1.5 M1.5,-1.5L7.0,-7.0" stroke="#444" stroke-width="1.1" fill="none"/>
<path transform="translate(1304.7,570.6) rotate(0)" d="M-7.0,-7.0L-1.5,-1.5 M1.5,1.5L7.0,7.0 M-7.0,7.0L-1.5,1.5 M1.5,-1.5L7.0,-7.0" stroke="#8a2028" stroke-width="1.1" fill="none"/>
<path transform="translate(1299.8,577.1) rotate(0)" d="M-6.0,-6.0L-1.3,-1.3 M1.3,1.3L6.0,6.0 M-6.0,6.0L-1.3,1.3 M1.3,-1.3L6.0,-6.0" stroke="#444" stroke-width="1.1" fill="none"/>
<path transform="translate(1305.5,581.1) rotate(0)" d="M-6.0,-6.0L-1.3,-1.3 M1.3,1.3L6.0,6.0 M-6.0,6.0L-1.3,1.3 M1.3,-1.3L6.0,-6.0" stroke="#b03030" stroke-width="1.2" fill="none"/>
<path transform="translate(1297.4,585.2) rotate(0)" d="M-7.0,-7.0L-1.5,-1.5 M1.5,1.5L7.0,7.0 M-7.0,7.0L-1.5,1.5 M1.5,-1.5L7.0,-7.0" stroke="#8a3030" stroke-width="1.1" fill="none"/>
<path transform="translate(1300.0,589.0) rotate(0)" d="M-7.0,-7.0L-1.5,-1.5 M1.5,1.5L7.0,7.0 M-7.0,7.0L-1.5,1.5 M1.5,-1.5L7.0,-7.0" stroke="#555" stroke-width="1.0" fill="none"/>
<path transform="translate(1326.0,551.0) rotate(0)" d="M-5.0,-5.0L-1.1,-1.1 M1.1,1.1L5.0,5.0 M-5.0,5.0L-1.1,1.1 M1.1,-1.1L5.0,-5.0" stroke="#555" stroke-width="1.0" fill="none"/>
<path d="M1431.3,524.2L1311,619.5" stroke="#000" stroke-width="4.8" stroke-linecap="butt"/><path d="M1294.2,632.7L1304.7,609.4L1320.8,627.9Z" fill="#000"/>
<rect x="1450.6" y="400.6" width="184.4" height="131.9" fill="url(#bd1)"/>
<g transform="translate(1440,390) scale(0.15625)"><g clip-path="url(#b1clip)"><ellipse cx="1235" cy="85" rx="70" ry="60" fill="#9aa8ba" opacity=".55" filter="url(#bb)"/><g filter="url(#bs)"><path d="M128,215C250,222 400,228 500,250C560,268 600,295 628,322 M604,280C640,228 680,180 740,158C800,140 880,112 950,104C990,100 1030,108 1042,116C1010,150 960,210 930,260C910,300 895,330 880,350 M700,178L726,204L790,172L822,206L872,160 M880,348C940,352 1000,380 1050,430C1075,460 1092,490 1100,510L1190,622L1082,592 M1090,500C1070,560 1072,590 1062,606C1030,680 960,760 880,805C800,845 700,868 610,860C520,846 450,790 385,690 M385,690C365,740 340,800 318,838C290,858 250,848 225,826C180,780 135,710 104,628C150,598 230,560 300,530 M240,650L190,705 M300,762C285,775 272,790 262,806 M300,530C380,528 470,540 562,578C500,590 420,580 330,560 M330,545C400,548 470,560 540,575 M128,215L165,262L214,282L182,330L166,384L232,420L216,462L292,472L252,512L300,530 M880,348C820,356 740,362 680,372L700,420L748,440L776,404" fill="none" stroke="#b9c3c9" stroke-width="34" stroke-linecap="round" stroke-linejoin="round"/><ellipse cx="960" cy="476" rx="44" ry="50" fill="#b9c3c9"/></g></g></g>
<rect x="1182.8" y="665.6" width="183.8" height="131.9" fill="url(#bd2)"/>
<g transform="translate(1174,656.8) scale(0.15625)"><g opacity=".45" filter="url(#bb)"><path d="M128,215C250,222 400,228 500,250C560,268 600,295 628,322 M604,280C640,228 680,180 740,158C800,140 880,112 950,104C990,100 1030,108 1042,116C1010,150 960,210 930,260C910,300 895,330 880,350 M700,178L726,204L790,172L822,206L872,160 M880,348C940,352 1000,380 1050,430C1075,460 1092,490 1100,510L1190,622L1082,592 M1090,500C1070,560 1072,590 1062,606C1030,680 960,760 880,805C800,845 700,868 610,860C520,846 450,790 385,690 M385,690C365,740 340,800 318,838C290,858 250,848 225,826C180,780 135,710 104,628C150,598 230,560 300,530 M240,650L190,705 M300,762C285,775 272,790 262,806 M300,530C380,528 470,540 562,578C500,590 420,580 330,560 M330,545C400,548 470,560 540,575 M128,215L165,262L214,282L182,330L166,384L232,420L216,462L292,472L252,512L300,530 M880,348C820,356 740,362 680,372L700,420L748,440L776,404" fill="none" stroke="#58b0ff" stroke-width="46" stroke-linecap="round" stroke-linejoin="round"/><ellipse cx="960" cy="476" rx="44" ry="50" fill="#58b0ff"/></g><path d="M128,215C250,222 400,228 500,250C560,268 600,295 628,322 M604,280C640,228 680,180 740,158C800,140 880,112 950,104C990,100 1030,108 1042,116C1010,150 960,210 930,260C910,300 895,330 880,350 M700,178L726,204L790,172L822,206L872,160 M880,348C940,352 1000,380 1050,430C1075,460 1092,490 1100,510L1190,622L1082,592 M1090,500C1070,560 1072,590 1062,606C1030,680 960,760 880,805C800,845 700,868 610,860C520,846 450,790 385,690 M385,690C365,740 340,800 318,838C290,858 250,848 225,826C180,780 135,710 104,628C150,598 230,560 300,530 M240,650L190,705 M300,762C285,775 272,790 262,806 M300,530C380,528 470,540 562,578C500,590 420,580 330,560 M330,545C400,548 470,560 540,575 M128,215L165,262L214,282L182,330L166,384L232,420L216,462L292,472L252,512L300,530 M880,348C820,356 740,362 680,372L700,420L748,440L776,404" fill="none" stroke="#6cb8f4" stroke-width="22" stroke-linecap="round" stroke-linejoin="round"/><ellipse cx="960" cy="476" rx="44" ry="50" fill="#5aaef2"/></g>
</g>
<g id="side">
<defs><linearGradient id="sbg" x1="1774" y1="0" x2="2085" y2="0" gradientUnits="userSpaceOnUse"><stop offset="0" stop-color="#4f5355"/><stop offset=".25" stop-color="#45484b"/><stop offset=".6" stop-color="#1e1f20"/><stop offset="1" stop-color="#020202"/></linearGradient><linearGradient id="sstrip" x1="1774" y1="0" x2="1788" y2="0" gradientUnits="userSpaceOnUse"><stop offset="0" stop-color="#4b4f51"/><stop offset=".3" stop-color="#505456"/><stop offset="1" stop-color="#4c5052"/></linearGradient></defs>
<rect x="1774" y="0" width="335" height="992" fill="url(#sbg)"/>
<rect x="1774" y="0" width="14" height="992" fill="url(#sstrip)"/>
<rect x="1788" y="-5" width="319" height="57.4" fill="#26282b"/>
<rect x="1787.4" y="505.0" width="320.4" height="179.0" rx="2.5" fill="#26282b" stroke="#3b3e41" stroke-width="1"/>
<rect x="1787.4" y="698.2" width="320.4" height="180.0" rx="2.5" fill="#26282b" stroke="#3b3e41" stroke-width="1"/>
<rect x="1787.4" y="892.3" width="320.4" height="107.7" rx="2.5" fill="#26282b" stroke="#3b3e41" stroke-width="1"/>
<rect x="1782.7" y="53.2" width="340" height="50.8" rx="7" fill="#2b2e31"/>
<g transform="translate(1807.7,79.5) scale(1.050)"><rect x="-3.6" y="-9.5" width="7.2" height="12.5" rx="3.6" fill="#9a9c9e"/><path d="M-6.6,-0.5A6.6,6.6 0 0 0 6.6,-0.5 M0,6.3V9.3 M-3.6,9.6H3.6" fill="none" stroke="#9a9c9e" stroke-width="1.5" stroke-linecap="round"/><path d="M-8.6,8.6L8.8,-9.6" stroke="#e8523a" stroke-width="1.7" stroke-linecap="round"/></g>
<path d="M1833.8,64.5V92.2" stroke="#141516" stroke-width="1.8"/>
<text x="1847.2" y="86" font-family="'Liberation Sans','Noto Sans CJK SC',sans-serif" font-size="17.2" fill="#fff" textLength="192.5" lengthAdjust="spacingAndGlyphs">正在讲话: 唐瑜-兰州大学;</text>
<g fill="#4b4e51"><path d="M2047,79L2068,61L2086,79L2068,96Z" opacity=".8"/><path d="M2068,79L2090,63L2109,79L2090,96Z" fill="#3c3f42"/><path d="M2085,64.5V92.2" stroke="#6a6d70" stroke-width="1.6"/><path d="M2097,79L2105,72.5V76.5H2109V81.5H2105V85.5Z" fill="#c9cbcc"/></g>
<rect x="1786" y="116.8" width="321.4" height="180.4" rx="3" fill="#22252a" stroke="#2c8b6b" stroke-width="2.6"/>
<g transform="translate(1769,105) scale(0.201654)">
<defs><clipPath id="p1c"><rect x="108" y="70" width="1557" height="875"/></clipPath><linearGradient id="p1sky" x1="0" y1="70" x2="0" y2="660" gradientUnits="userSpaceOnUse"><stop offset="0" stop-color="#8aa6bb"/><stop offset=".12" stop-color="#a9bccb"/><stop offset=".25" stop-color="#b7c6d2"/><stop offset=".36" stop-color="#8fb0ca"/><stop offset=".6" stop-color="#9dbdd5"/><stop offset=".85" stop-color="#b9d0e0"/><stop offset="1" stop-color="#c3d3de"/></linearGradient><linearGradient id="p1m1" x1="0" y1="180" x2="0" y2="420" gradientUnits="userSpaceOnUse"><stop offset="0" stop-color="#6690b4"/><stop offset=".5" stop-color="#7aa3c4"/><stop offset="1" stop-color="#9bbdd6" stop-opacity=".6"/></linearGradient><linearGradient id="p1m2" x1="0" y1="290" x2="0" y2="660" gradientUnits="userSpaceOnUse"><stop offset="0" stop-color="#7fa9c9"/><stop offset=".35" stop-color="#a2c3da"/><stop offset=".7" stop-color="#c2d7e5"/><stop offset="1" stop-color="#d0dde6"/></linearGradient><linearGradient id="p1sea" x1="0" y1="655" x2="0" y2="945" gradientUnits="userSpaceOnUse"><stop offset="0" stop-color="#a0a6b2"/><stop offset=".12" stop-color="#b2abb0"/><stop offset="1" stop-color="#aaa1a7"/></linearGradient><filter id="b6"><feGaussianBlur stdDeviation="6"/></filter><filter id="b14"><feGaussianBlur stdDeviation="14"/></filter><filter id="b3"><feGaussianBlur stdDeviation="3"/></filter><filter id="soft" x="0" y="0" width="100%" height="100%"><feGaussianBlur stdDeviation="2.2"/></filter></defs>
<g clip-path="url(#p1c)"><g filter="url(#soft)">
<rect x="108" y="70" width="1557" height="600" fill="url(#p1sky)"/>
<g filter="url(#b14)" fill="#d3dbe0"><ellipse cx="330" cy="130" rx="170" ry="34"/><ellipse cx="700" cy="100" rx="120" ry="26" fill="#c6d1d9"/><ellipse cx="1050" cy="170" rx="230" ry="36"/><ellipse cx="1480" cy="120" rx="150" ry="30"/><ellipse cx="560" cy="200" rx="200" ry="28"/><ellipse cx="1560" cy="210" rx="120" ry="34" fill="#dde3e6"/><ellipse cx="230" cy="215" rx="120" ry="22"/><ellipse cx="860" cy="110" rx="90" ry="30" fill="#7f9db6"/><ellipse cx="640" cy="150" rx="80" ry="22" fill="#819fb8"/><ellipse cx="1260" cy="100" rx="110" ry="28" fill="#86a3ba"/><ellipse cx="1580" cy="150" rx="60" ry="20" fill="#88a5bc"/><ellipse cx="180" cy="95" rx="90" ry="22" fill="#88a5bc"/></g>
<path filter="url(#b3)" d="M108,252L200,246L300,262L420,272L470,262L540,250L600,240L650,222L690,200L730,208L780,222L850,238L920,245L980,238L1050,236L1120,228L1180,210L1230,192L1270,180L1310,186L1350,196L1400,230L1440,250L1480,262L1530,258L1570,270L1620,285L1665,300V430H108Z" fill="url(#p1m1)"/>
<path filter="url(#b3)" d="M108,296L180,308L260,322L340,330L420,328L520,342L600,352L700,370L800,378L1000,380L1090,376L1180,372L1260,366L1330,352L1400,350L1470,352L1560,356L1665,346V670H108Z" fill="url(#p1m2)"/>
<rect x="108" y="657" width="1557" height="290" fill="url(#p1sea)"/>
<rect x="108" y="682" width="1557" height="10" fill="#8a8f9a" opacity=".5" filter="url(#b3)"/>
<g><path d="M296,466L222,664L298,667Z" fill="#c4b096"/><path d="M302,540L356,690L286,692Z" fill="#a8977f"/><path d="M202,690L372,686L360,700L216,700Z" fill="#262c36"/><path d="M412,620L402,668L424,668Z" fill="#6f8397"/><path d="M474,602L461,668L486,668Z" fill="#66788e"/><path d="M535,515L517,668L552,668Z" fill="#5b6470"/><path d="M516,668H556L552,680H520Z" fill="#273444"/><path d="M660,598L648,640L668,640Z" fill="#8e97a0"/><path d="M1347,560L1326,668L1362,668Z" fill="#6a7482"/><path d="M1324,668H1368L1364,678H1328Z" fill="#2a3442"/><path d="M1432,350L1416,640" stroke="#67707c" stroke-width="6"/><path d="M1376,668L1510,672L1504,690L1384,690Z" fill="#27364a"/><path d="M1400,650H1480V670H1400Z" fill="#3a4658"/></g>
<path d="M905,247C815,245 765,300 745,400C728,500 712,580 655,640C690,680 730,745 760,830L800,700L1040,700L990,945H1150C1185,900 1212,850 1198,795C1180,730 1122,660 1102,600C1088,520 1080,420 1052,335C1022,268 970,249 905,247Z" fill="#191112"/>
<path d="M470,945C492,850 525,750 590,685C640,650 700,636 760,640C790,700 800,760 770,830L760,945Z" fill="#d2d9d6"/>
<path d="M1090,600C1160,606 1202,640 1234,700C1282,790 1322,870 1356,945H1140C1190,880 1215,840 1198,790C1180,730 1122,660 1100,615Z" fill="#cdd5d3"/>
<path d="M1100,610C1150,640 1185,700 1200,780L1238,706C1205,645 1160,610 1100,610Z" fill="#b9c3c1"/>
<path d="M770,690C800,760 850,800 915,790C965,782 1000,745 1020,690L1010,945H740L770,830Z" fill="#dde2df"/>
<path d="M800,730C840,790 880,820 930,945H990C1000,860 1010,780 1020,700C990,770 950,800 900,795C860,790 825,765 800,730Z" fill="#c3cbc9"/>
<path d="M835,650H990V740C950,790 880,790 835,735Z" fill="#b58a7a"/>
<path d="M772,430C772,385 1046,385 1048,430C1056,520 1040,615 992,680C950,735 880,738 840,694C792,636 768,540 772,430Z" fill="#c9a08f"/>
<path d="M790,560C800,640 830,690 870,715C840,690 815,640 800,560Z" fill="#b48878" opacity=".7"/><path d="M1030,540C1026,610 1000,670 960,710C1000,690 1036,630 1044,540Z" fill="#b08474" opacity=".7"/>
<path d="M905,247C822,248 770,318 762,470C778,452 790,440 806,436L812,405L826,432C850,420 870,412 884,410L890,388L902,410C950,408 1000,420 1030,440L1052,470C1052,335 1000,250 905,247Z" fill="#191112"/>
<g fill="none" stroke="#34263c" stroke-width="9"><rect x="782" y="456" width="124" height="72" rx="30"/><rect x="932" y="452" width="112" height="68" rx="28"/><path d="M906,480Q919,472 932,478 M782,476L760,466 M1044,470L1062,462"/></g>
<path d="M796,470Q844,458 894,470L890,494Q844,484 800,496Z" fill="#2634f0"/><path d="M944,466Q988,456 1034,466L1030,488Q988,478 948,490Z" fill="#2634f0"/>
<path d="M806,480Q844,472 884,480" stroke="#7a86ff" stroke-width="5" fill="none"/><path d="M952,476Q988,468 1024,476" stroke="#7a86ff" stroke-width="5" fill="none"/>
<ellipse cx="845" cy="507" rx="26" ry="7" fill="#5a4038" opacity=".65"/><ellipse cx="988" cy="502" rx="24" ry="7" fill="#5a4038" opacity=".65"/>
<path d="M905,500C900,540 888,560 884,572C898,584 925,584 940,572" stroke="#a97c6c" stroke-width="7" fill="none"/>
<path d="M866,604C890,594 930,594 952,606C940,626 885,628 866,604Z" fill="#8a5450"/><path d="M880,604C900,598 925,598 940,606C925,610 895,610 880,604Z" fill="#d9cbc6"/>
<path d="M768,440C758,550 742,630 658,642C700,690 738,760 766,832C796,740 800,640 792,560Z" fill="#191112"/>
<path d="M1046,430C1052,550 1050,640 1022,720C992,800 962,860 932,945H1150C1188,892 1214,850 1198,792C1180,730 1122,660 1102,600C1092,540 1082,470 1046,430Z" fill="#191112"/>
<path d="M1060,560C1080,680 1060,800 1010,945 M1090,640C1130,740 1110,840 1070,945" stroke="#2e2426" stroke-width="6" fill="none"/>
</g>
<rect x="108" y="810" width="667" height="136" fill="#3a3a3a" opacity=".82"/>
</g>
</g>
<g transform="translate(1804.3,282.8) scale(1.000)"><rect x="-4.1" y="-10" width="8.2" height="14" rx="4.1" fill="#fff"/><path d="M-4.1,-3.2H4.1V-0.1A4.1,4.1 0 0 1 -4.1,-0.1Z" fill="#3fd45a"/><path d="M-7.2,-0.8A7.2,7.2 0 0 0 7.2,-0.8 M0,6.6V9.4" fill="none" stroke="#fff" stroke-width="2.1" stroke-linecap="round"/></g>
<text x="1822" y="289.3" font-family="'Liberation Sans','Noto Sans CJK SC',sans-serif" font-size="15.6" font-weight="bold" fill="#fff" textLength="97.5" lengthAdjust="spacingAndGlyphs">唐瑜-兰州大学</text>
<rect x="1787.6" y="310.6" width="320" height="180" rx="2.5" fill="#141516" stroke="#4a4d50" stroke-width="1.2"/>
<g transform="translate(1769,300) scale(0.201654)">
<defs><clipPath id="p2c"><rect x="108" y="65" width="1557" height="873"/></clipPath><linearGradient id="p2w" x1="108" y1="0" x2="1665" y2="0" gradientUnits="userSpaceOnUse"><stop offset="0" stop-color="#e3e5e4"/><stop offset=".55" stop-color="#dde0df"/><stop offset=".78" stop-color="#cfd4d4"/><stop offset="1" stop-color="#c2c9ca"/></linearGradient><linearGradient id="p2wd" x1="170" y1="0" x2="1180" y2="0" gradientUnits="userSpaceOnUse"><stop offset="0" stop-color="#e6e8e6"/><stop offset=".78" stop-color="#e4e6e5"/><stop offset="1" stop-color="#d6dada" stop-opacity="0"/></linearGradient><linearGradient id="p2c2" x1="0" y1="65" x2="0" y2="340" gradientUnits="userSpaceOnUse"><stop offset="0" stop-color="#cdd1d1"/><stop offset=".6" stop-color="#dcdfde" stop-opacity=".7"/><stop offset="1" stop-color="#dcdfde" stop-opacity="0"/></linearGradient></defs>
<g clip-path="url(#p2c)"><g filter="url(#soft)">
<rect x="108" y="65" width="1557" height="873" fill="url(#p2w)"/>
<path d="M108,65H1665V340L1100,330H170L108,300Z" fill="url(#p2c2)" opacity=".9"/>
<ellipse cx="560" cy="66" rx="90" ry="16" fill="#a9adad" filter="url(#b6)"/>
<path d="M170,335H1180V510H170Z" fill="url(#p2wd)"/><path d="M295,345V500 M575,400V445 M590,400V445 M845,370V510" stroke="#c6c8c6" stroke-width="4" fill="none"/>
<rect x="108" y="520" width="330" height="420" fill="#c2c6c7"/>
<rect x="428" y="512" width="290" height="430" fill="#d2d6da"/><path d="M428,516H716" stroke="#2c2c2c" stroke-width="9"/><path d="M432,516V940" stroke="#7d8082" stroke-width="6"/><path d="M600,700L716,820 M600,940L716,830" stroke="#bcc0c4" stroke-width="3"/>
<rect x="722" y="512" width="135" height="430" fill="#c9c3bd"/><rect x="778" y="570" width="90" height="300" fill="#552820"/><rect x="800" y="590" width="50" height="250" fill="#6a342a"/><rect x="738" y="776" width="20" height="24" fill="#e8e8e8"/>
<g fill="#a6532e"><path d="M108,318L130,335L300,478L330,482L360,560L420,760L440,938H350L318,780L290,640L262,600L108,520Z"/><path d="M108,520L262,600L290,700L108,705Z" fill="#8c4226"/><path d="M340,540L392,548L412,700L420,760L372,770Z" fill="#b35e34"/></g>
<g fill="#d9dcdb"><path d="M150,395L178,418L178,470L150,448Z"/><path d="M205,440L232,462V505L205,486Z"/><path d="M250,478L268,492V520L250,508Z"/></g>
<path d="M296,585L308,585L312,640L300,640Z M372,640L382,640L384,672L374,672Z" fill="#3a3230"/>
<path d="M660,938C690,900 730,872 800,848C850,830 880,820 900,815L1180,790C1260,796 1340,820 1420,860C1470,886 1500,912 1525,938Z" fill="#2c312f"/>
<path d="M900,760H1170V830C1100,900 980,900 900,826Z" fill="#b98f78"/>
<g filter="url(#b3)">
<path d="M866,540C872,500 1180,500 1186,540C1198,610 1194,700 1172,770C1146,850 1094,902 1030,904C966,902 916,850 888,770C862,700 856,610 866,540Z" fill="#c9a48c"/>
<path d="M870,640C872,720 892,790 930,850C905,790 890,720 886,640Z" fill="#b38a72" opacity=".8"/><path d="M1182,630C1180,720 1160,790 1120,850C1150,800 1170,720 1172,630Z" fill="#b08670" opacity=".8"/>
<ellipse cx="858" cy="668" rx="15" ry="40" fill="#b88d76"/><ellipse cx="1192" cy="660" rx="11" ry="36" fill="#b48a74"/>
<path d="M852,640C840,540 858,450 912,402C962,366 1042,358 1102,384C1162,410 1198,470 1202,545C1204,590 1198,620 1190,650C1190,600 1182,560 1160,535C1090,510 980,508 900,530C870,546 858,590 852,640Z" fill="#2a2926"/>
<path d="M900,532C980,512 1090,512 1160,536C1090,524 980,524 900,548Z" fill="#4a4038" opacity=".6"/>
<path d="M902,612Q945,596 988,612 M1058,608Q1100,594 1142,606" stroke="#3e3028" stroke-width="10" fill="none" stroke-linecap="round"/>
<path d="M915,640Q945,630 975,640Q945,648 915,640Z M1068,636Q1098,626 1128,636Q1098,644 1068,636Z" fill="#33261f"/>
<path d="M1004,650C1000,700 988,722 992,736C1012,748 1044,748 1064,734" stroke="#a67c66" stroke-width="8" fill="none"/>
<path d="M958,790Q1020,774 1084,790" stroke="#8a5a4e" stroke-width="11" fill="none" stroke-linecap="round"/><path d="M975,806Q1020,818 1066,806" stroke="#b58c78" stroke-width="6" fill="none"/>
</g>
<path d="M866,720C868,800 876,880 892,938 M1178,792C1160,850 1135,900 1120,938" stroke="#e6e6e6" stroke-width="4" fill="none"/>
</g></g>
<rect x="98" y="800" width="142" height="142" fill="#f5841f"/><circle cx="170" cy="848" r="23" fill="#fff"/><path d="M120,916C124,884 146,872 170,890C194,872 216,884 220,916Z" fill="#fff"/>
<path d="M240,805H640A22,22 0 0 1 662,827V940H240Z" fill="#2a2c2e" opacity=".92"/>
</g>
<g transform="translate(1833.5,475.6) scale(1.000)"><rect x="-4.1" y="-10" width="8.2" height="14" rx="4.1" fill="#fff"/><path d="M-7.2,-0.8A7.2,7.2 0 0 0 7.2,-0.8 M0,6.6V9.4" fill="none" stroke="#fff" stroke-width="2.1" stroke-linecap="round"/></g>
<text x="1851.5" y="482" font-family="'Liberation Sans','Noto Sans CJK SC',sans-serif" font-size="15.2" fill="#fff" textLength="47" lengthAdjust="spacingAndGlyphs">王其召</text>
<defs><clipPath id="av0"><circle cx="1947.9" cy="3.5" r="44.3"/></clipPath><clipPath id="av3"><circle cx="1947.7" cy="584" r="44"/></clipPath><clipPath id="av4"><circle cx="1947.7" cy="777.9" r="44"/></clipPath><clipPath id="av5"><circle cx="1948" cy="970.5" r="44"/></clipPath><filter id="b2"><feGaussianBlur stdDeviation="2"/></filter><filter id="b1"><feGaussianBlur stdDeviation="1"/></filter><filter id="z8"><feGaussianBlur stdDeviation="8"/></filter><filter id="z16"><feGaussianBlur stdDeviation="16"/></filter><filter id="z30"><feGaussianBlur stdDeviation="30"/></filter><filter id="branch" x="0" y="0" width="100%" height="100%" color-interpolation-filters="sRGB"><feTurbulence type="fractalNoise" baseFrequency="0.02 0.024" numOctaves="4" seed="11"/><feColorMatrix type="matrix" values="0 0 0 0 0.05  0 0 0 0 0.055  0 0 0 0 0.07  8 0 0 0 -3.1"/><feGaussianBlur stdDeviation="2"/></filter><linearGradient id="av3g" x1="0" y1="90" x2="0" y2="885" gradientUnits="userSpaceOnUse"><stop offset="0" stop-color="#4a6090"/><stop offset=".3" stop-color="#7886b4"/><stop offset=".5" stop-color="#9090ac"/><stop offset=".7" stop-color="#a0929a"/><stop offset=".85" stop-color="#e0ac70"/><stop offset=".93" stop-color="#c98a50"/><stop offset="1" stop-color="#141414"/></linearGradient></defs>
<g clip-path="url(#av0)"><g transform="translate(1890,0) scale(0.0605)"><rect x="200" y="-700" width="1520" height="1520" fill="#d4cec6"/><g filter="url(#z16)"><rect x="200" y="-100" width="260" height="560" fill="#8a8482"/><rect x="1480" y="-100" width="260" height="900" fill="#5e5a5c"/><ellipse cx="300" cy="20" rx="130" ry="110" fill="#7a2a34"/><ellipse cx="1590" cy="60" rx="50" ry="70" fill="#80404a"/><path d="M340,450C450,430 620,470 820,520L860,790H500C420,700 370,600 340,450Z" fill="#c99884"/><path d="M520,640C600,650 720,650 800,640L820,700H560Z" fill="#8a5a50"/><ellipse cx="900" cy="120" rx="520" ry="260" fill="#dcd7cf"/><ellipse cx="640" cy="350" rx="300" ry="150" fill="#d2ccc2"/><ellipse cx="1060" cy="610" rx="250" ry="200" fill="#ddd8d0"/><ellipse cx="1300" cy="420" rx="220" ry="200" fill="#e2ddd6"/></g><g filter="url(#z8)"><ellipse cx="515" cy="5" rx="52" ry="30" fill="#f4907a"/><ellipse cx="1112" cy="58" rx="56" ry="38" fill="#f28c76"/><path d="M600,300C620,380 640,430 650,470 M720,270C750,350 770,420 780,480 M830,260C860,330 880,390 880,440" stroke="#9c9488" stroke-width="26" fill="none"/><path d="M960,560C950,640 960,700 980,740 M1150,540C1160,620 1150,690 1130,730" stroke="#b0a89c" stroke-width="24" fill="none"/><path d="M930,400Q980,360 1040,400Q1000,430 930,400 M1050,380Q1110,340 1170,390Q1110,420 1050,380 M1060,300V440" stroke="#7c8a5e" stroke-width="14" fill="none"/><path d="M830,520C800,640 860,760 1000,780C1160,770 1280,640 1250,480" stroke="#b7a6d6" stroke-width="12" fill="none"/></g></g></g>
<g clip-path="url(#av3)"><g transform="translate(1890,530) scale(0.1109)"><rect x="100" y="60" width="860" height="860" fill="#0c0e12"/><g filter="url(#z16)"><path d="M175,420C195,300 270,200 380,165C450,230 520,330 570,410C570,480 520,560 545,780L350,800C250,700 185,560 175,420Z" fill="url(#av3g)"/></g><rect x="100" y="60" width="860" height="860" filter="url(#branch)"/><g filter="url(#z16)" fill="#0a0c10"><ellipse cx="770" cy="440" rx="200" ry="330"/><ellipse cx="230" cy="540" rx="70" ry="120" opacity=".75"/><ellipse cx="330" cy="600" rx="90" ry="50" opacity=".6"/><ellipse cx="520" cy="130" rx="180" ry="60"/><ellipse cx="620" cy="830" rx="260" ry="70"/><ellipse cx="250" cy="700" rx="80" ry="70" opacity=".8"/></g><g filter="url(#z8)" fill="#c9ced8"><circle cx="730" cy="610" r="14"/><circle cx="885" cy="555" r="12"/><circle cx="795" cy="650" r="9"/><circle cx="600" cy="400" r="12"/><ellipse cx="740" cy="800" rx="18" ry="22" fill="#d89a58"/></g></g></g>
<g clip-path="url(#av4)"><g transform="translate(1890,725) scale(0.1109)"><rect x="100" y="60" width="860" height="860" fill="#c2c4ca"/><g filter="url(#z16)"><path d="M100,300C300,200 600,180 960,330V60H100Z" fill="#cfcdd0"/><path d="M250,330C450,230 700,260 940,400" stroke="#a9b4c2" stroke-width="50" fill="none"/><path d="M560,430H960V900H560Z" fill="#6f7272"/><path d="M100,420H220V570H100Z" fill="#777a7a"/></g><path d="M820,210V430" stroke="#4a4848" stroke-width="16" filter="url(#z8)"/><g filter="url(#z8)"><path d="M190,520C190,400 260,310 380,300C480,296 560,360 590,440C600,500 590,560 560,600L540,880H230C170,800 150,700 170,600Z" fill="#d98e4e"/><path d="M310,300L330,250L370,290Z M500,380L600,345L570,440Z" fill="#dda070"/><path d="M330,270L340,300 M560,375L555,420" stroke="#f0c8b0" stroke-width="14"/><ellipse cx="360" cy="470" rx="120" ry="90" fill="#c97c3c" opacity=".6"/><path d="M300,700C380,680 460,700 530,760L540,880H400C340,830 310,770 300,700Z" fill="#e6b68c"/><path d="M420,840C480,820 560,830 600,860L580,880H430Z" fill="#e8d8d0"/><ellipse cx="785" cy="560" rx="55" ry="50" fill="#eadcd8"/><path d="M620,680C680,620 760,600 830,640C870,700 860,780 800,830H640Z" fill="#e8dcd8"/><ellipse cx="780" cy="720" rx="80" ry="100" fill="#f0e8e4"/></g><g filter="url(#b2)"><path d="M182,572C300,600 430,590 545,535L570,610C450,665 300,672 200,640Z" fill="#f6f4f2"/><path d="M198,566L222,636 M262,580L280,652 M330,586L344,660 M400,582L412,656 M462,566L480,640 M515,548L540,618" stroke="#f43c0a" stroke-width="34"/><path d="M528,530C560,510 590,520 600,560V790C585,810 555,810 540,790Z" fill="#f6f4f2"/><path d="M528,575H604 M528,670H604 M528,765H604" stroke="#f43c0a" stroke-width="46"/></g></g></g>
<g clip-path="url(#av5)"><g transform="translate(1890,910) scale(0.08264)"><rect x="150" y="180" width="1110" height="900" fill="#f5f3ee"/><g filter="url(#z8)"><path d="M640,560C650,500 720,470 800,470C880,480 920,540 915,620C910,700 870,780 800,810C730,800 660,740 645,660Z" fill="#f2e4d8"/><path d="M820,372C740,390 650,460 600,560C570,620 580,700 600,760L640,780C620,700 625,620 660,560C700,500 760,440 830,410C880,440 905,520 915,600C930,680 925,740 900,810L930,790C950,700 950,580 925,480C905,420 870,380 820,372Z" fill="#5c5a54"/><path d="M590,600C560,610 530,640 525,680" stroke="#5c5a54" stroke-width="10" fill="none"/><ellipse cx="668" cy="672" rx="38" ry="30" fill="#f2a894"/><ellipse cx="832" cy="700" rx="34" ry="28" fill="#f2a894"/><path d="M690,610q28,-12 54,4 M820,636q26,-10 48,6" stroke="#4a4640" stroke-width="12" fill="none"/><ellipse cx="752" cy="750" rx="34" ry="16" fill="#c84a4a"/><path d="M640,760C620,820 640,860 630,900C600,940 600,960 640,960C680,960 690,930 660,890C670,850 670,800 665,770Z" fill="#55534d"/><path d="M830,800C810,850 830,890 825,930C810,960 830,975 855,965C880,950 870,920 855,890C860,850 860,820 850,800Z" fill="#55534d"/><path d="M560,1000C640,960 720,990 780,960C840,990 900,960 960,1000V1100H560Z" fill="#2c2c2c"/></g></g></g>
<rect x="1789" y="655.8" width="84" height="27.4" rx="2" fill="#1a1b1d"/>
<g transform="translate(1804.5,669.2) scale(1.000)"><rect x="-4.1" y="-10" width="8.2" height="14" rx="4.1" fill="#fff"/><path d="M-7.2,-0.8A7.2,7.2 0 0 0 7.2,-0.8 M0,6.6V9.4" fill="none" stroke="#fff" stroke-width="2.1" stroke-linecap="round"/></g>
<text x="1821" y="675.8" font-family="'Liberation Sans','Noto Sans CJK SC',sans-serif" font-size="15.4" fill="#fff" textLength="48.5" lengthAdjust="spacingAndGlyphs">张皓博</text>
<rect x="1789.4" y="849" width="83.4" height="27.6" rx="2" fill="#1a1b1d"/>
<g transform="translate(1804.0,863.0) scale(0.950)"><rect x="-3.6" y="-9.5" width="7.2" height="12.5" rx="3.6" fill="#e4e4e4"/><path d="M-6.6,-0.5A6.6,6.6 0 0 0 6.6,-0.5 M0,6.3V9.3 M-3.6,9.6H3.6" fill="none" stroke="#e4e4e4" stroke-width="1.5" stroke-linecap="round"/><path d="M-8.6,8.6L8.8,-9.6" stroke="#e8523a" stroke-width="1.7" stroke-linecap="round"/></g>
<text x="1821.4" y="868.6" font-family="'Liberation Sans','Noto Sans CJK SC',sans-serif" font-size="15.4" fill="#fff" textLength="48" lengthAdjust="spacingAndGlyphs">张锦铭</text>
</g>
</svg>
</body></html>
